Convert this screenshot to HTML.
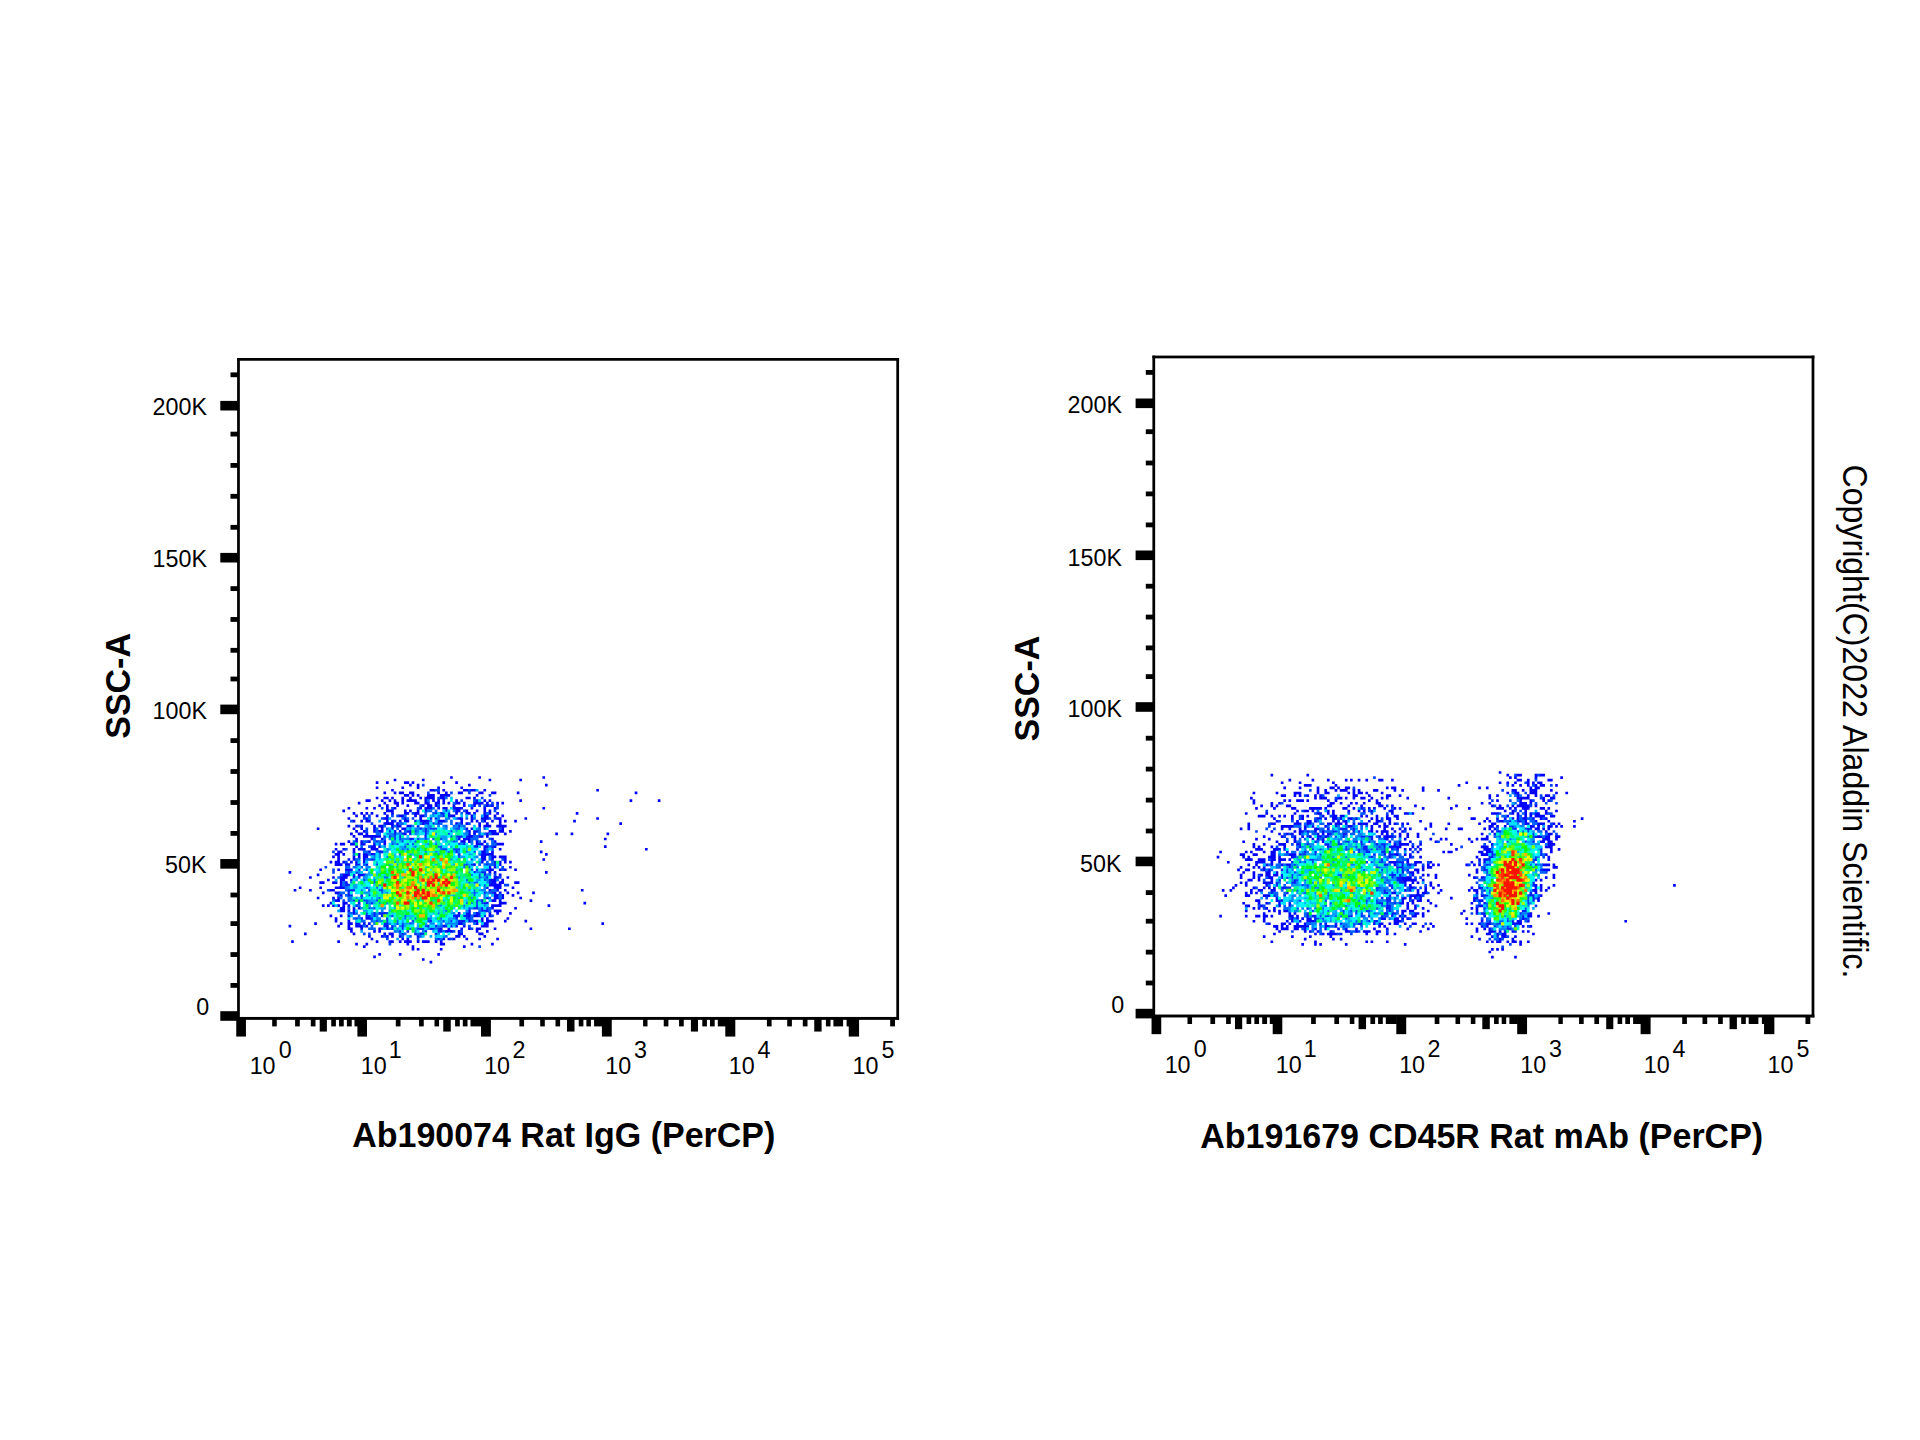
<!DOCTYPE html>
<html><head><meta charset="utf-8"><title>Flow cytometry</title>
<style>
html,body{margin:0;padding:0;background:#fff}
svg{display:block}
text{font-family:"Liberation Sans",sans-serif;fill:#000}
.tl text{font-size:23.3px}
.ttl{font-size:34.8px;font-weight:bold}
.cp{font-size:34.8px}
</style></head>
<body>
<svg width="1920" height="1440" viewBox="0 0 1920 1440">
<rect x="0" y="0" width="1920" height="1440" fill="#fff"/>
<defs>
<g id="ax" fill="#000" shape-rendering="geometricPrecision">
<rect x="237.1" y="358" width="661.96" height="2.75"/>
<rect x="237.1" y="1016.95" width="661.96" height="2.9"/>
<rect x="237.1" y="358" width="2.75" height="661.75"/>
<rect x="896.31" y="358" width="2.75" height="661.75"/>
<rect x="230.5" y="372.4" width="7.5" height="4.8"/>
<rect x="230.5" y="431.7" width="7.5" height="4.8"/>
<rect x="230.5" y="463" width="7.5" height="4.8"/>
<rect x="230.5" y="493.9" width="7.5" height="4.8"/>
<rect x="230.5" y="524.9" width="7.5" height="4.8"/>
<rect x="230.5" y="586.2" width="7.5" height="4.8"/>
<rect x="230.5" y="617.05" width="7.5" height="4.8"/>
<rect x="230.5" y="647.9" width="7.5" height="4.8"/>
<rect x="230.5" y="676.6" width="7.5" height="4.8"/>
<rect x="230.5" y="738.2" width="7.5" height="4.8"/>
<rect x="230.5" y="769.1" width="7.5" height="4.8"/>
<rect x="230.5" y="800.1" width="7.5" height="4.8"/>
<rect x="230.5" y="831" width="7.5" height="4.8"/>
<rect x="230.5" y="892.6" width="7.5" height="4.8"/>
<rect x="230.5" y="921.2" width="7.5" height="4.8"/>
<rect x="230.5" y="952.15" width="7.5" height="4.8"/>
<rect x="230.5" y="983" width="7.5" height="4.8"/>
<rect x="220.3" y="400.9" width="17.7" height="9.6"/>
<rect x="220.3" y="552.9" width="17.7" height="9.6"/>
<rect x="220.3" y="704.6" width="17.7" height="9.6"/>
<rect x="220.3" y="859.05" width="17.7" height="9.6"/>
<rect x="220.3" y="1011.2" width="17.7" height="9.6"/>
<rect x="236.25" y="1018" width="9.69" height="18.56"/>
<rect x="357.4" y="1018" width="9.6" height="18.56"/>
<rect x="481" y="1018" width="9.9" height="18.56"/>
<rect x="601.9" y="1018" width="9.85" height="18.56"/>
<rect x="725.3" y="1018" width="10" height="18.56"/>
<rect x="848.75" y="1018" width="10.31" height="18.56"/>
<rect x="319.7" y="1018" width="7.2" height="13.56"/>
<rect x="443.25" y="1018" width="7.5" height="13.56"/>
<rect x="567" y="1018" width="7.5" height="13.56"/>
<rect x="690.9" y="1018" width="7.1" height="13.56"/>
<rect x="814.25" y="1018" width="7.35" height="13.56"/>
<rect x="272.19" y="1018" width="4.56" height="8.4"/>
<rect x="295.1" y="1018" width="4.7" height="8.4"/>
<rect x="310.8" y="1018" width="4.7" height="8.4"/>
<rect x="331.25" y="1018" width="4.65" height="8.4"/>
<rect x="339.06" y="1018" width="4.69" height="8.4"/>
<rect x="346.9" y="1018" width="4.85" height="8.4"/>
<rect x="354.5" y="1018" width="3.5" height="8.4"/>
<rect x="395.8" y="1018" width="4.7" height="8.4"/>
<rect x="419.06" y="1018" width="4.69" height="8.4"/>
<rect x="434.5" y="1018" width="4.56" height="8.4"/>
<rect x="455.1" y="1018" width="4.7" height="8.4"/>
<rect x="462.8" y="1018" width="4.7" height="8.4"/>
<rect x="470.5" y="1018" width="11" height="8.4"/>
<rect x="519.4" y="1018" width="4.66" height="8.4"/>
<rect x="540.2" y="1018" width="4.6" height="8.4"/>
<rect x="555.5" y="1018" width="4.6" height="8.4"/>
<rect x="578.75" y="1018" width="4.65" height="8.4"/>
<rect x="586.4" y="1018" width="4.5" height="8.4"/>
<rect x="594.06" y="1018" width="8.44" height="8.4"/>
<rect x="643.1" y="1018" width="4.4" height="8.4"/>
<rect x="663.75" y="1018" width="4.65" height="8.4"/>
<rect x="679.06" y="1018" width="4.69" height="8.4"/>
<rect x="702.3" y="1018" width="4.6" height="8.4"/>
<rect x="710" y="1018" width="4.7" height="8.4"/>
<rect x="717.8" y="1018" width="8.2" height="8.4"/>
<rect x="766.9" y="1018" width="4.7" height="8.4"/>
<rect x="787.2" y="1018" width="4.7" height="8.4"/>
<rect x="802.8" y="1018" width="4.7" height="8.4"/>
<rect x="825.9" y="1018" width="4.6" height="8.4"/>
<rect x="833.4" y="1018" width="9.7" height="8.4"/>
<rect x="846.6" y="1018" width="2.9" height="8.4"/>
<rect x="890.15" y="1018" width="4.85" height="8.4"/>
</g>
<g id="axl" class="tl">
<text x="207" y="414.8" text-anchor="end">200K</text>
<text x="207" y="567" text-anchor="end">150K</text>
<text x="207" y="718.9" text-anchor="end">100K</text>
<text x="206.5" y="873.2" text-anchor="end">50K</text>
<text x="209.2" y="1014.7" text-anchor="end">0</text>
<text x="249.66" y="1074.2">10</text>
<text x="278.82" y="1058.4">0</text>
<text x="360.76" y="1074.2">10</text>
<text x="388.86" y="1058.4">1</text>
<text x="484.16" y="1074.2">10</text>
<text x="512.4" y="1058.4">2</text>
<text x="605.26" y="1074.2">10</text>
<text x="634.07" y="1058.4">3</text>
<text x="728.86" y="1074.2">10</text>
<text x="757.5" y="1058.4">4</text>
<text x="852.46" y="1074.2">10</text>
<text x="881.58" y="1058.4">5</text>
</g>
</defs>
<g id="dotsA" shape-rendering="geometricPrecision">
<g transform="translate(239.90 360.80) scale(2.5641)" stroke="none">
<path fill="#0000ff" d="M81.98 161.98h1.04v1.04h-1.04zM92.98 161.98h1.04v1.04h-1.04zM117.98 161.98h1.04v1.04h-1.04zM59.98 162.98h1.04v1.04h-1.04zM70.98 162.98h1.04v1.04h-1.04zM96.98 162.98h1.04v1.04h-1.04zM108.98 162.98h1.04v1.04h-1.04zM52.98 163.98h1.04v1.04h-1.04zM56.98 163.98h1.04v1.04h-1.04zM63.98 163.98h1.15v1.04h-1.15zM64.87 163.98h1.15v1.04h-1.15zM66.98 163.98h1.04v1.04h-1.04zM78.98 163.98h1.04v1.04h-1.04zM83.98 163.98h1.04v1.04h-1.04zM65.98 164.98h1.04v1.04h-1.04zM68.98 164.98h1.04v1.15h-1.04zM88.98 164.98h1.04v1.04h-1.04zM118.98 164.98h1.04v1.04h-1.04zM52.98 165.98h1.04v1.04h-1.04zM62.98 165.98h1.04v1.04h-1.04zM68.98 165.87h1.04v1.15h-1.04zM76.98 165.98h1.04v1.15h-1.04zM85.98 165.98h1.04v1.04h-1.04zM58.98 166.98h1.04v1.04h-1.04zM73.98 166.98h1.15v1.04h-1.15zM74.87 166.98h1.26v1.04h-1.26zM78.98 166.98h1.04v1.04h-1.04zM86.98 166.98h1.15v1.04h-1.15zM87.87 166.98h1.26v1.04h-1.26zM89.87 166.98h1.26v1.04h-1.26zM90.87 166.98h1.26v1.04h-1.26zM94.98 166.98h1.04v1.04h-1.04zM138.98 166.98h1.04v1.04h-1.04zM55.98 167.98h1.04v1.04h-1.04zM59.98 167.98h1.04v1.04h-1.04zM61.98 167.98h1.15v1.04h-1.15zM62.87 167.98h1.15v1.04h-1.15zM65.98 167.98h1.15v1.04h-1.15zM66.87 167.98h1.15v1.15h-1.15zM76.98 167.87h1.04v1.15h-1.04zM79.98 167.98h1.04v1.15h-1.04zM84.98 167.98h1.15v1.04h-1.15zM85.87 167.98h1.15v1.04h-1.15zM92.98 167.98h1.15v1.04h-1.15zM93.87 167.98h1.15v1.04h-1.15zM97.98 167.98h1.15v1.04h-1.15zM98.87 167.98h1.15v1.04h-1.15zM107.98 167.98h1.04v1.04h-1.04zM153.98 167.98h1.04v1.04h-1.04zM63.98 168.98h1.15v1.04h-1.15zM64.87 168.98h1.15v1.04h-1.15zM66.98 168.87h1.04v1.15h-1.04zM68.98 168.98h1.04v1.04h-1.04zM72.98 168.87h1.15v1.26h-1.15zM73.87 168.98h1.26v1.15h-1.26zM74.87 168.98h1.15v1.15h-1.15zM77.98 168.98h1.15v1.15h-1.15zM78.87 168.98h1.26v1.15h-1.26zM79.87 168.87h1.26v1.26h-1.26zM80.87 168.98h1.15v1.04h-1.15zM91.98 168.98h1.04v1.04h-1.04zM52.98 169.98h1.04v1.04h-1.04zM55.98 169.98h1.15v1.04h-1.15zM56.87 169.98h1.15v1.04h-1.15zM58.98 169.98h1.04v1.04h-1.04zM62.98 169.98h1.04v1.15h-1.04zM65.98 169.98h1.04v1.15h-1.04zM69.98 169.98h1.04v1.04h-1.04zM71.98 169.98h1.15v1.15h-1.15zM72.87 169.87h1.26v1.26h-1.26zM73.87 169.87h1.26v1.15h-1.26zM74.87 169.87h1.15v1.26h-1.15zM77.87 169.87h1.26v1.15h-1.26zM78.87 169.87h1.26v1.26h-1.26zM87.98 169.98h1.15v1.04h-1.15zM88.87 169.98h1.15v1.04h-1.15zM90.98 169.98h1.04v1.15h-1.04zM48.98 170.98h1.15v1.04h-1.15zM49.87 170.98h1.15v1.04h-1.15zM54.98 170.98h1.04v1.04h-1.04zM57.98 170.98h1.04v1.04h-1.04zM59.98 170.98h1.04v1.15h-1.04zM62.98 170.87h1.04v1.26h-1.04zM64.98 170.98h1.15v1.04h-1.15zM65.87 170.87h1.26v1.15h-1.26zM66.87 170.98h1.26v1.04h-1.26zM67.87 170.98h1.15v1.15h-1.15zM71.98 170.87h1.15v1.26h-1.15zM74.98 170.87h1.04v1.15h-1.04zM76.98 170.87h1.04v1.26h-1.04zM78.98 170.87h1.04v1.26h-1.04zM83.98 170.98h1.04v1.15h-1.04zM91.87 170.98h1.26v1.15h-1.26zM94.98 170.98h1.04v1.04h-1.04zM96.98 170.98h1.04v1.04h-1.04zM108.98 170.98h1.04v1.04h-1.04zM151.98 170.98h1.04v1.04h-1.04zM162.98 170.98h1.04v1.04h-1.04zM45.98 171.98h1.04v1.04h-1.04zM55.98 171.98h1.04v1.04h-1.04zM59.98 171.87h1.15v1.15h-1.15zM60.87 171.98h1.15v1.15h-1.15zM62.98 171.87h1.04v1.15h-1.04zM67.98 171.87h1.15v1.15h-1.15zM68.87 171.98h1.15v1.04h-1.15zM71.98 171.87h1.15v1.15h-1.15zM72.87 171.87h1.15v1.26h-1.15zM75.98 171.98h1.15v1.15h-1.15zM76.87 171.87h1.15v1.26h-1.15zM78.98 171.87h1.04v1.15h-1.04zM80.98 171.98h1.04v1.04h-1.04zM83.87 171.87h1.26v1.15h-1.26zM84.87 171.98h1.15v1.04h-1.15zM86.98 171.98h1.04v1.15h-1.04zM90.98 171.87h1.15v1.26h-1.15zM91.87 171.87h1.26v1.15h-1.26zM92.87 171.87h1.26v1.26h-1.26zM93.87 171.98h1.15v1.04h-1.15zM95.98 171.98h1.04v1.15h-1.04zM99.98 171.98h1.04v1.15h-1.04zM101.98 171.98h1.04v1.04h-1.04zM53.98 172.98h1.04v1.04h-1.04zM56.98 172.98h1.04v1.15h-1.04zM60.98 172.87h1.04v1.15h-1.04zM64.98 172.98h1.04v1.04h-1.04zM70.87 172.98h1.15v1.04h-1.15zM72.98 172.87h1.15v1.26h-1.15zM73.87 172.98h1.15v1.15h-1.15zM75.98 172.87h1.15v1.15h-1.15zM82.98 172.87h1.04v1.26h-1.04zM86.98 172.87h1.04v1.15h-1.04zM90.87 172.87h1.15v1.15h-1.15zM95.87 172.87h1.26v1.15h-1.26zM97.87 172.87h1.15v1.15h-1.15zM41.98 173.98h1.04v1.04h-1.04zM48.98 173.98h1.04v1.04h-1.04zM51.98 173.98h1.04v1.04h-1.04zM56.98 173.87h1.04v1.26h-1.04zM59.87 173.98h1.15v1.04h-1.15zM69.87 173.87h1.15v1.15h-1.15zM71.98 173.98h1.15v1.15h-1.15zM72.87 173.87h1.26v1.26h-1.26zM73.87 173.87h1.26v1.26h-1.26zM76.98 173.87h1.04v1.15h-1.04zM78.98 173.98h1.15v1.15h-1.15zM79.87 173.98h1.15v1.15h-1.15zM82.87 173.87h1.26v1.26h-1.26zM83.87 173.98h1.26v1.15h-1.26zM84.87 173.98h1.26v1.15h-1.26zM85.87 173.98h1.15v1.04h-1.15zM89.98 173.87h1.04v1.15h-1.04zM94.98 173.87h1.04v1.26h-1.04zM98.98 173.98h1.15v1.15h-1.15zM117.98 173.98h1.04v1.04h-1.04zM39.98 174.98h1.04v1.04h-1.04zM56.98 174.87h1.15v1.15h-1.15zM57.87 174.98h1.26v1.04h-1.26zM58.87 174.87h1.15v1.26h-1.15zM63.98 174.98h1.04v1.15h-1.04zM65.98 174.98h1.04v1.04h-1.04zM68.98 174.87h1.04v1.26h-1.04zM71.87 174.87h1.26v1.26h-1.26zM83.87 174.87h1.26v1.26h-1.26zM84.87 174.87h1.15v1.15h-1.15zM87.87 174.98h1.15v1.15h-1.15zM91.98 174.98h1.04v1.04h-1.04zM94.98 174.87h1.04v1.26h-1.04zM96.98 174.98h1.04v1.15h-1.04zM43.98 175.98h1.04v1.04h-1.04zM46.98 175.98h1.04v1.04h-1.04zM48.98 175.98h1.04v1.04h-1.04zM50.98 175.98h1.04v1.04h-1.04zM55.98 175.98h1.04v1.04h-1.04zM58.98 175.87h1.04v1.26h-1.04zM63.98 175.87h1.15v1.26h-1.15zM64.87 175.98h1.15v1.04h-1.15zM67.87 175.98h1.26v1.15h-1.26zM68.87 175.87h1.15v1.15h-1.15zM83.98 175.87h1.04v1.15h-1.04zM87.98 175.87h1.15v1.26h-1.15zM88.87 175.98h1.15v1.04h-1.15zM90.98 175.98h1.04v1.15h-1.04zM94.98 175.87h1.15v1.26h-1.15zM96.87 175.87h1.15v1.15h-1.15zM99.98 175.98h1.04v1.04h-1.04zM130.98 175.98h1.04v1.04h-1.04zM44.98 176.98h1.04v1.04h-1.04zM47.98 176.98h1.04v1.15h-1.04zM52.98 176.98h1.04v1.04h-1.04zM56.98 176.98h1.04v1.15h-1.04zM61.87 176.98h1.26v1.04h-1.26zM62.87 176.98h1.26v1.15h-1.26zM67.98 176.87h1.04v1.15h-1.04zM69.98 176.98h1.15v1.15h-1.15zM70.87 176.98h1.26v1.04h-1.26zM81.87 176.98h1.26v1.04h-1.26zM82.87 176.98h1.15v1.15h-1.15zM89.98 176.98h1.15v1.15h-1.15zM94.87 176.87h1.26v1.26h-1.26zM95.87 176.87h1.15v1.26h-1.15zM98.98 176.98h1.04v1.15h-1.04zM101.98 176.98h1.04v1.04h-1.04zM41.98 177.98h1.04v1.04h-1.04zM48.87 177.98h1.26v1.15h-1.26zM55.87 177.98h1.26v1.04h-1.26zM56.87 177.87h1.26v1.26h-1.26zM63.87 177.87h1.26v1.26h-1.26zM69.98 177.87h1.04v1.26h-1.04zM84.87 177.98h1.26v1.04h-1.26zM85.87 177.87h1.15v1.26h-1.15zM89.98 177.87h1.15v1.26h-1.15zM93.98 177.87h1.15v1.26h-1.15zM94.87 177.87h1.26v1.26h-1.26zM95.87 177.87h1.26v1.15h-1.26zM99.87 177.98h1.26v1.04h-1.26zM100.87 177.98h1.15v1.15h-1.15zM110.98 177.98h1.04v1.04h-1.04zM138.98 177.98h1.04v1.04h-1.04zM43.87 178.98h1.15v1.04h-1.15zM46.98 178.98h1.04v1.04h-1.04zM48.98 178.87h1.15v1.15h-1.15zM49.87 178.87h1.15v1.15h-1.15zM56.98 178.87h1.04v1.26h-1.04zM58.98 178.98h1.15v1.15h-1.15zM61.98 178.98h1.04v1.15h-1.04zM63.98 178.87h1.15v1.26h-1.15zM64.87 178.87h1.15v1.15h-1.15zM69.87 178.87h1.26v1.26h-1.26zM70.87 178.98h1.26v1.15h-1.26zM71.87 178.98h1.26v1.15h-1.26zM77.87 178.98h1.26v1.15h-1.26zM78.87 178.98h1.26v1.04h-1.26zM85.98 178.87h1.04v1.26h-1.04zM89.98 178.87h1.04v1.15h-1.04zM91.98 178.98h1.04v1.04h-1.04zM94.87 178.87h1.15v1.15h-1.15zM97.98 178.98h1.04v1.04h-1.04zM100.98 178.87h1.04v1.26h-1.04zM102.98 178.98h1.04v1.04h-1.04zM106.98 178.98h1.04v1.04h-1.04zM129.98 178.98h1.04v1.04h-1.04zM55.98 179.98h1.15v1.15h-1.15zM56.87 179.87h1.26v1.15h-1.26zM57.87 179.98h1.26v1.04h-1.26zM58.87 179.87h1.15v1.26h-1.15zM60.98 179.98h1.15v1.15h-1.15zM70.87 179.87h1.26v1.15h-1.26zM83.98 179.98h1.15v1.15h-1.15zM85.87 179.87h1.15v1.26h-1.15zM87.98 179.98h1.15v1.04h-1.15zM92.98 179.98h1.04v1.15h-1.04zM95.98 179.98h1.04v1.15h-1.04zM100.98 179.87h1.04v1.26h-1.04zM147.98 179.98h1.04v1.04h-1.04zM41.98 180.98h1.04v1.04h-1.04zM44.98 180.98h1.15v1.04h-1.15zM46.87 180.98h1.15v1.15h-1.15zM51.98 180.98h1.04v1.15h-1.04zM53.98 180.98h1.15v1.04h-1.15zM54.87 180.98h1.26v1.15h-1.26zM58.98 180.87h1.15v1.26h-1.15zM60.87 180.87h1.26v1.26h-1.26zM61.87 180.87h1.15v1.15h-1.15zM64.98 180.98h1.15v1.15h-1.15zM65.87 180.98h1.26v1.15h-1.26zM92.98 180.87h1.04v1.26h-1.04zM94.98 180.98h1.15v1.15h-1.15zM95.87 180.87h1.26v1.26h-1.26zM96.87 180.98h1.15v1.04h-1.15zM99.98 180.98h1.15v1.04h-1.15zM100.87 180.87h1.26v1.26h-1.26zM101.87 180.98h1.26v1.15h-1.26zM102.87 180.98h1.15v1.04h-1.15zM29.98 181.98h1.04v1.04h-1.04zM43.98 181.98h1.04v1.04h-1.04zM46.98 181.87h1.04v1.15h-1.04zM51.98 181.87h1.15v1.26h-1.15zM54.98 181.87h1.04v1.26h-1.04zM62.98 181.98h1.15v1.04h-1.15zM63.87 181.98h1.26v1.15h-1.26zM87.87 181.98h1.15v1.15h-1.15zM89.98 181.98h1.15v1.04h-1.15zM101.87 181.87h1.15v1.26h-1.15zM44.98 182.98h1.04v1.04h-1.04zM47.98 182.98h1.15v1.04h-1.15zM51.98 182.87h1.15v1.15h-1.15zM53.87 182.98h1.26v1.15h-1.26zM54.87 182.87h1.15v1.15h-1.15zM59.87 182.98h1.15v1.15h-1.15zM61.98 182.98h1.04v1.15h-1.04zM88.87 182.98h1.15v1.15h-1.15zM90.98 182.87h1.15v1.26h-1.15zM96.98 182.98h1.15v1.15h-1.15zM97.87 182.98h1.26v1.15h-1.26zM98.87 182.98h1.15v1.15h-1.15zM100.98 182.87h1.15v1.15h-1.15zM101.87 182.87h1.15v1.15h-1.15zM104.98 182.98h1.04v1.04h-1.04zM42.98 183.98h1.04v1.04h-1.04zM45.98 183.98h1.15v1.04h-1.15zM46.87 183.98h1.15v1.04h-1.15zM48.98 183.87h1.04v1.26h-1.04zM63.87 183.87h1.15v1.15h-1.15zM88.87 183.87h1.15v1.26h-1.15zM90.98 183.87h1.04v1.26h-1.04zM95.87 183.98h1.26v1.15h-1.26zM97.87 183.87h1.26v1.15h-1.26zM98.87 183.87h1.26v1.15h-1.26zM99.87 183.98h1.15v1.04h-1.15zM102.98 183.98h1.04v1.04h-1.04zM122.98 183.98h1.04v1.04h-1.04zM128.98 183.98h1.04v1.04h-1.04zM142.98 183.98h1.04v1.04h-1.04zM43.98 184.98h1.04v1.04h-1.04zM47.98 184.98h1.15v1.04h-1.15zM48.87 184.87h1.26v1.15h-1.26zM49.87 184.98h1.26v1.04h-1.26zM50.87 184.98h1.26v1.15h-1.26zM51.87 184.98h1.26v1.15h-1.26zM52.87 184.87h1.26v1.15h-1.26zM53.87 184.87h1.15v1.15h-1.15zM88.87 184.87h1.26v1.26h-1.26zM89.87 184.98h1.26v1.15h-1.26zM92.87 184.87h1.26v1.15h-1.26zM93.87 184.87h1.15v1.15h-1.15zM95.98 184.87h1.04v1.15h-1.04zM44.98 185.98h1.04v1.15h-1.04zM50.98 185.87h1.15v1.15h-1.15zM54.98 185.98h1.15v1.15h-1.15zM84.87 185.87h1.15v1.15h-1.15zM86.98 185.87h1.15v1.26h-1.15zM87.87 185.87h1.26v1.15h-1.26zM88.87 185.87h1.26v1.26h-1.26zM97.87 185.98h1.15v1.15h-1.15zM141.98 185.98h1.04v1.04h-1.04zM41.98 186.98h1.04v1.04h-1.04zM44.87 186.87h1.15v1.26h-1.15zM46.98 186.98h1.15v1.15h-1.15zM49.87 186.98h1.15v1.04h-1.15zM55.87 186.87h1.15v1.26h-1.15zM85.98 186.98h1.15v1.15h-1.15zM86.87 186.87h1.15v1.26h-1.15zM88.98 186.87h1.15v1.15h-1.15zM91.98 186.87h1.15v1.26h-1.15zM94.98 186.98h1.04v1.04h-1.04zM98.87 186.98h1.15v1.15h-1.15zM116.98 186.98h1.04v1.04h-1.04zM36.98 187.98h1.04v1.04h-1.04zM38.98 187.98h1.15v1.04h-1.15zM39.87 187.98h1.15v1.04h-1.15zM42.98 187.98h1.15v1.04h-1.15zM43.87 187.87h1.26v1.15h-1.26zM46.98 187.87h1.15v1.26h-1.15zM47.87 187.87h1.15v1.15h-1.15zM51.98 187.87h1.15v1.26h-1.15zM55.98 187.87h1.04v1.26h-1.04zM91.98 187.87h1.15v1.26h-1.15zM92.87 187.87h1.26v1.26h-1.26zM93.87 187.98h1.15v1.04h-1.15zM99.87 187.98h1.26v1.04h-1.26zM100.87 187.98h1.26v1.04h-1.26zM101.87 187.98h1.15v1.04h-1.15zM44.98 188.87h1.04v1.15h-1.04zM50.87 188.98h1.26v1.15h-1.26zM51.87 188.87h1.15v1.26h-1.15zM53.98 188.87h1.15v1.15h-1.15zM94.98 188.98h1.15v1.15h-1.15zM95.87 188.87h1.26v1.26h-1.26zM98.87 188.87h1.15v1.15h-1.15zM141.98 188.98h1.04v1.04h-1.04zM36.98 189.98h1.04v1.04h-1.04zM39.98 189.98h1.15v1.04h-1.15zM43.98 189.98h1.04v1.15h-1.04zM45.98 189.98h1.15v1.04h-1.15zM46.87 189.87h1.26v1.15h-1.26zM47.87 189.98h1.15v1.15h-1.15zM50.98 189.87h1.15v1.15h-1.15zM51.87 189.87h1.26v1.15h-1.26zM52.87 189.98h1.15v1.15h-1.15zM94.98 189.87h1.15v1.26h-1.15zM100.98 189.98h1.04v1.04h-1.04zM157.98 189.98h1.04v1.04h-1.04zM37.98 190.98h1.15v1.15h-1.15zM38.87 190.98h1.15v1.04h-1.15zM43.98 190.87h1.04v1.26h-1.04zM49.87 190.98h1.15v1.15h-1.15zM53.87 190.98h1.26v1.15h-1.26zM93.87 190.98h1.26v1.15h-1.26zM94.87 190.87h1.26v1.26h-1.26zM97.98 190.87h1.04v1.26h-1.04zM116.98 190.98h1.04v1.04h-1.04zM36.98 191.98h1.15v1.04h-1.15zM37.87 191.87h1.15v1.26h-1.15zM39.98 191.98h1.04v1.04h-1.04zM45.87 191.98h1.15v1.15h-1.15zM47.98 191.87h1.15v1.26h-1.15zM48.87 191.87h1.26v1.26h-1.26zM50.87 191.98h1.26v1.15h-1.26zM93.87 191.87h1.26v1.26h-1.26zM94.87 191.87h1.26v1.26h-1.26zM95.87 191.87h1.26v1.15h-1.26zM96.87 191.98h1.26v1.15h-1.26zM97.87 191.87h1.15v1.26h-1.15zM118.98 191.98h1.04v1.04h-1.04zM35.98 192.98h1.04v1.04h-1.04zM37.98 192.87h1.04v1.26h-1.04zM43.98 192.87h1.04v1.26h-1.04zM45.98 192.87h1.04v1.26h-1.04zM47.98 192.87h1.15v1.26h-1.15zM48.87 192.87h1.15v1.26h-1.15zM93.98 192.87h1.15v1.26h-1.15zM94.87 192.87h1.15v1.26h-1.15zM97.87 192.87h1.26v1.26h-1.26zM98.87 192.98h1.15v1.04h-1.15zM100.98 192.98h1.15v1.04h-1.15zM101.87 192.98h1.26v1.15h-1.26zM102.87 192.98h1.15v1.15h-1.15zM37.98 193.87h1.04v1.26h-1.04zM41.98 193.98h1.04v1.04h-1.04zM43.98 193.87h1.15v1.15h-1.15zM47.98 193.87h1.15v1.26h-1.15zM93.87 193.87h1.26v1.26h-1.26zM94.87 193.87h1.15v1.15h-1.15zM97.87 193.87h1.15v1.26h-1.15zM102.87 193.87h1.15v1.26h-1.15zM117.98 193.98h1.04v1.04h-1.04zM34.98 194.98h1.04v1.04h-1.04zM36.98 194.98h1.15v1.15h-1.15zM37.87 194.87h1.15v1.26h-1.15zM39.98 194.98h1.15v1.04h-1.15zM42.98 194.98h1.04v1.04h-1.04zM44.98 194.87h1.15v1.26h-1.15zM47.98 194.87h1.15v1.26h-1.15zM93.87 194.87h1.15v1.15h-1.15zM100.87 194.98h1.15v1.15h-1.15zM102.98 194.87h1.04v1.15h-1.04zM104.98 194.98h1.04v1.04h-1.04zM36.98 195.87h1.15v1.15h-1.15zM37.87 195.87h1.26v1.15h-1.26zM38.87 195.98h1.15v1.04h-1.15zM40.98 195.87h1.15v1.26h-1.15zM41.87 195.98h1.15v1.15h-1.15zM44.98 195.87h1.15v1.26h-1.15zM48.87 195.87h1.15v1.26h-1.15zM100.87 195.87h1.15v1.15h-1.15zM96.87 196.87h1.15v1.26h-1.15zM98.98 196.87h1.15v1.15h-1.15zM104.98 196.98h1.04v1.04h-1.04zM30.98 197.98h1.04v1.04h-1.04zM37.98 197.98h1.04v1.04h-1.04zM40.98 197.87h1.15v1.26h-1.15zM41.87 197.87h1.26v1.26h-1.26zM42.87 197.98h1.15v1.15h-1.15zM96.87 197.87h1.26v1.26h-1.26zM97.87 197.98h1.15v1.04h-1.15zM100.98 197.98h1.15v1.04h-1.15zM102.87 197.98h1.15v1.04h-1.15zM106.98 197.98h1.04v1.04h-1.04zM18.98 198.98h1.04v1.04h-1.04zM96.98 198.87h1.04v1.26h-1.04zM98.98 198.98h1.04v1.15h-1.04zM118.98 198.98h1.04v1.04h-1.04zM29.98 199.98h1.04v1.04h-1.04zM39.87 199.98h1.26v1.15h-1.26zM40.87 199.87h1.26v1.26h-1.26zM41.87 199.87h1.26v1.15h-1.26zM45.98 199.87h1.15v1.26h-1.15zM46.87 199.87h1.26v1.15h-1.26zM100.98 199.98h1.04v1.15h-1.04zM26.98 200.98h1.04v1.04h-1.04zM35.98 200.98h1.04v1.04h-1.04zM38.87 200.87h1.26v1.26h-1.26zM39.87 200.87h1.26v1.26h-1.26zM40.87 200.87h1.15v1.15h-1.15zM98.98 200.87h1.15v1.26h-1.15zM99.87 200.98h1.26v1.15h-1.26zM103.98 200.98h1.04v1.04h-1.04zM33.98 201.98h1.04v1.04h-1.04zM38.98 201.87h1.15v1.26h-1.15zM39.87 201.87h1.15v1.26h-1.15zM97.87 201.98h1.26v1.15h-1.26zM98.87 201.87h1.26v1.26h-1.26zM101.98 201.98h1.04v1.15h-1.04zM30.98 202.98h1.15v1.04h-1.15zM31.87 202.98h1.15v1.04h-1.15zM35.98 202.98h1.15v1.04h-1.15zM36.87 202.87h1.15v1.15h-1.15zM38.98 202.87h1.15v1.26h-1.15zM40.87 202.98h1.15v1.15h-1.15zM97.87 202.87h1.26v1.26h-1.26zM98.87 202.87h1.15v1.26h-1.15zM100.98 202.98h1.15v1.15h-1.15zM101.87 202.87h1.15v1.15h-1.15zM106.98 202.98h1.15v1.04h-1.15zM107.87 202.98h1.15v1.04h-1.15zM38.98 203.87h1.15v1.26h-1.15zM96.87 203.87h1.26v1.15h-1.26zM97.87 203.87h1.26v1.15h-1.26zM98.87 203.87h1.26v1.26h-1.26zM99.87 203.98h1.26v1.15h-1.26zM100.87 203.87h1.15v1.26h-1.15zM22.98 204.98h1.04v1.04h-1.04zM30.98 204.98h1.04v1.04h-1.04zM36.98 204.98h1.15v1.04h-1.15zM37.87 204.98h1.26v1.04h-1.26zM38.87 204.87h1.26v1.15h-1.26zM39.87 204.87h1.26v1.15h-1.26zM98.98 204.87h1.15v1.26h-1.15zM99.87 204.87h1.26v1.26h-1.26zM100.87 204.87h1.15v1.15h-1.15zM105.98 204.98h1.04v1.04h-1.04zM20.98 205.98h1.04v1.04h-1.04zM26.98 205.98h1.04v1.04h-1.04zM34.87 205.98h1.26v1.04h-1.26zM35.87 205.98h1.15v1.04h-1.15zM96.98 205.98h1.15v1.15h-1.15zM99.87 205.87h1.15v1.15h-1.15zM102.98 205.98h1.04v1.04h-1.04zM132.98 205.98h1.04v1.04h-1.04zM31.98 206.98h1.04v1.04h-1.04zM36.98 206.98h1.15v1.04h-1.15zM37.87 206.98h1.26v1.15h-1.26zM98.87 206.87h1.15v1.26h-1.15zM100.98 206.98h1.04v1.15h-1.04zM103.98 206.98h1.04v1.04h-1.04zM107.98 206.98h1.04v1.04h-1.04zM113.98 206.98h1.04v1.04h-1.04zM38.87 207.87h1.15v1.26h-1.15zM98.87 207.87h1.26v1.26h-1.26zM99.87 207.98h1.26v1.15h-1.26zM101.87 207.98h1.15v1.15h-1.15zM105.98 207.98h1.04v1.04h-1.04zM29.98 208.98h1.04v1.04h-1.04zM35.98 208.98h1.04v1.15h-1.04zM37.98 208.87h1.15v1.26h-1.15zM98.98 208.87h1.15v1.26h-1.15zM99.87 208.87h1.26v1.15h-1.26zM101.87 208.87h1.15v1.15h-1.15zM108.98 208.98h1.04v1.04h-1.04zM36.87 209.98h1.26v1.04h-1.26zM37.87 209.87h1.15v1.15h-1.15zM97.87 209.98h1.26v1.04h-1.26zM98.87 209.87h1.15v1.15h-1.15zM100.98 209.87h1.04v1.26h-1.04zM112.98 209.98h1.04v1.04h-1.04zM34.98 210.98h1.15v1.04h-1.15zM39.98 210.87h1.15v1.26h-1.15zM40.87 210.98h1.15v1.04h-1.15zM100.98 210.87h1.15v1.26h-1.15zM101.87 210.98h1.26v1.04h-1.26zM102.87 210.98h1.15v1.04h-1.15zM133.98 210.98h1.04v1.04h-1.04zM31.98 211.98h1.04v1.04h-1.04zM33.98 211.98h1.04v1.04h-1.04zM35.98 211.87h1.15v1.15h-1.15zM37.87 211.98h1.15v1.04h-1.15zM39.98 211.87h1.04v1.26h-1.04zM41.98 211.98h1.04v1.15h-1.04zM97.98 211.98h1.15v1.15h-1.15zM98.87 211.98h1.26v1.04h-1.26zM99.87 211.98h1.26v1.04h-1.26zM100.87 211.87h1.15v1.15h-1.15zM119.98 211.98h1.04v1.04h-1.04zM38.98 212.98h1.15v1.15h-1.15zM39.87 212.87h1.15v1.26h-1.15zM43.98 212.87h1.04v1.26h-1.04zM45.98 212.87h1.15v1.15h-1.15zM97.87 212.87h1.15v1.15h-1.15zM106.98 212.98h1.04v1.04h-1.04zM38.87 213.87h1.26v1.15h-1.26zM39.87 213.87h1.15v1.15h-1.15zM41.98 213.87h1.04v1.26h-1.04zM43.98 213.87h1.15v1.26h-1.15zM88.87 213.87h1.15v1.26h-1.15zM98.98 213.98h1.15v1.04h-1.15zM99.87 213.98h1.26v1.15h-1.26zM100.87 213.98h1.15v1.04h-1.15zM43.87 214.87h1.26v1.15h-1.26zM84.98 214.98h1.04v1.15h-1.04zM88.87 214.87h1.15v1.26h-1.15zM91.87 214.98h1.26v1.15h-1.26zM96.98 214.87h1.04v1.26h-1.04zM99.98 214.87h1.04v1.15h-1.04zM104.98 214.98h1.04v1.04h-1.04zM34.98 215.98h1.04v1.04h-1.04zM38.98 215.98h1.04v1.04h-1.04zM41.98 215.87h1.15v1.26h-1.15zM83.87 215.98h1.26v1.15h-1.26zM88.87 215.87h1.26v1.26h-1.26zM90.87 215.87h1.26v1.15h-1.26zM91.87 215.87h1.26v1.15h-1.26zM96.98 215.87h1.15v1.15h-1.15zM36.98 216.98h1.04v1.15h-1.04zM48.98 216.87h1.15v1.15h-1.15zM49.87 216.87h1.26v1.15h-1.26zM93.98 216.87h1.04v1.26h-1.04zM95.98 216.98h1.04v1.15h-1.04zM103.98 216.98h1.04v1.04h-1.04zM36.98 217.87h1.04v1.15h-1.04zM41.98 217.87h1.04v1.26h-1.04zM88.87 217.87h1.26v1.15h-1.26zM90.87 217.98h1.26v1.15h-1.26zM91.87 217.98h1.26v1.15h-1.26zM93.87 217.87h1.15v1.26h-1.15zM95.98 217.87h1.15v1.26h-1.15zM96.87 217.98h1.26v1.04h-1.26zM97.87 217.98h1.15v1.04h-1.15zM102.98 217.98h1.04v1.04h-1.04zM110.98 217.98h1.04v1.04h-1.04zM28.98 218.98h1.04v1.04h-1.04zM38.98 218.98h1.04v1.04h-1.04zM41.98 218.87h1.15v1.26h-1.15zM42.87 218.98h1.15v1.04h-1.15zM44.98 218.87h1.15v1.26h-1.15zM47.98 218.87h1.04v1.26h-1.04zM49.98 218.98h1.04v1.04h-1.04zM84.87 218.87h1.26v1.15h-1.26zM85.87 218.87h1.26v1.15h-1.26zM91.87 218.87h1.15v1.15h-1.15zM94.87 218.98h1.26v1.15h-1.26zM95.87 218.87h1.15v1.26h-1.15zM140.98 218.98h1.04v1.04h-1.04zM18.98 219.98h1.04v1.04h-1.04zM37.98 219.98h1.04v1.04h-1.04zM41.98 219.87h1.04v1.26h-1.04zM44.98 219.87h1.15v1.15h-1.15zM45.87 219.87h1.26v1.15h-1.26zM46.87 219.98h1.26v1.15h-1.26zM48.87 219.98h1.15v1.04h-1.15zM56.87 219.87h1.15v1.26h-1.15zM78.87 219.98h1.26v1.04h-1.26zM83.87 219.87h1.15v1.15h-1.15zM86.98 219.87h1.04v1.15h-1.04zM93.98 219.87h1.15v1.15h-1.15zM94.87 219.87h1.26v1.15h-1.26zM95.87 219.87h1.15v1.15h-1.15zM41.98 220.87h1.15v1.15h-1.15zM42.87 220.98h1.15v1.15h-1.15zM46.98 220.87h1.04v1.26h-1.04zM53.98 220.98h1.15v1.15h-1.15zM56.87 220.87h1.26v1.15h-1.26zM77.87 220.87h1.15v1.26h-1.15zM80.98 220.87h1.04v1.26h-1.04zM85.98 220.98h1.04v1.15h-1.04zM88.98 220.87h1.15v1.15h-1.15zM91.98 220.98h1.15v1.15h-1.15zM92.87 220.98h1.15v1.04h-1.15zM98.98 220.98h1.04v1.04h-1.04zM112.98 220.98h1.04v1.04h-1.04zM127.98 220.98h1.04v1.04h-1.04zM42.98 221.87h1.04v1.15h-1.04zM51.98 221.87h1.04v1.15h-1.04zM53.98 221.87h1.04v1.15h-1.04zM79.87 221.98h1.26v1.04h-1.26zM80.87 221.87h1.26v1.26h-1.26zM81.87 221.98h1.26v1.04h-1.26zM84.98 221.98h1.15v1.15h-1.15zM91.98 221.87h1.04v1.15h-1.04zM95.98 221.98h1.04v1.04h-1.04zM24.98 222.98h1.04v1.04h-1.04zM43.98 222.98h1.04v1.04h-1.04zM55.98 222.98h1.04v1.15h-1.04zM57.98 222.98h1.15v1.04h-1.15zM58.87 222.98h1.15v1.15h-1.15zM84.98 222.87h1.15v1.26h-1.15zM85.87 222.87h1.15v1.15h-1.15zM92.98 222.98h1.15v1.04h-1.15zM93.87 222.98h1.15v1.04h-1.15zM49.98 223.87h1.04v1.15h-1.04zM54.98 223.98h1.15v1.04h-1.15zM56.87 223.98h1.15v1.15h-1.15zM58.98 223.87h1.04v1.15h-1.04zM61.98 223.87h1.15v1.15h-1.15zM68.98 223.87h1.15v1.26h-1.15zM83.98 223.98h1.15v1.04h-1.15zM84.87 223.87h1.15v1.15h-1.15zM86.98 223.98h1.04v1.04h-1.04zM94.98 223.98h1.04v1.04h-1.04zM50.98 224.98h1.04v1.04h-1.04zM62.98 224.87h1.04v1.15h-1.04zM64.98 224.87h1.04v1.26h-1.04zM78.87 224.87h1.15v1.15h-1.15zM80.98 224.98h1.15v1.04h-1.15zM82.87 224.98h1.15v1.04h-1.15zM87.98 224.98h1.04v1.04h-1.04zM92.98 224.98h1.04v1.04h-1.04zM99.98 224.98h1.04v1.04h-1.04zM19.98 225.98h1.04v1.04h-1.04zM37.98 225.98h1.04v1.04h-1.04zM52.98 225.98h1.04v1.04h-1.04zM57.98 225.98h1.15v1.15h-1.15zM58.87 225.98h1.15v1.04h-1.15zM61.98 225.98h1.04v1.04h-1.04zM63.98 225.98h1.15v1.04h-1.15zM64.87 225.87h1.26v1.26h-1.26zM65.87 225.98h1.15v1.04h-1.15zM68.98 225.87h1.04v1.15h-1.04zM70.98 225.98h1.15v1.04h-1.15zM71.87 225.98h1.26v1.04h-1.26zM72.87 225.98h1.15v1.04h-1.15zM75.98 225.87h1.04v1.15h-1.04zM77.98 225.87h1.04v1.26h-1.04zM44.98 226.98h1.04v1.04h-1.04zM48.98 226.98h1.04v1.04h-1.04zM64.98 226.87h1.04v1.15h-1.04zM77.98 226.87h1.15v1.15h-1.15zM78.87 226.98h1.15v1.04h-1.15zM89.98 226.98h1.04v1.04h-1.04zM97.98 226.98h1.04v1.04h-1.04zM47.98 227.98h1.04v1.04h-1.04zM66.98 227.98h1.04v1.15h-1.04zM86.98 227.98h1.04v1.04h-1.04zM66.98 228.87h1.04v1.15h-1.04zM68.98 228.98h1.04v1.04h-1.04zM77.98 228.98h1.04v1.04h-1.04zM53.98 230.98h1.04v1.04h-1.04zM61.98 230.98h1.04v1.04h-1.04zM76.98 230.98h1.04v1.04h-1.04zM51.98 231.98h1.04v1.04h-1.04zM70.98 232.98h1.04v1.04h-1.04zM73.98 233.98h1.04v1.04h-1.04z"/>
<path fill="#0020ff" d="M79.87 174.87h1.26v1.26h-1.26zM75.87 175.87h1.26v1.26h-1.26zM77.87 175.98h1.26v1.15h-1.26zM78.87 175.87h1.26v1.26h-1.26zM80.87 175.87h1.15v1.26h-1.15zM78.87 176.87h1.26v1.15h-1.26zM80.87 176.87h1.26v1.26h-1.26zM73.87 177.87h1.15v1.26h-1.15zM75.98 177.87h1.15v1.26h-1.15zM67.98 178.98h1.15v1.15h-1.15zM72.87 178.87h1.26v1.26h-1.26zM76.87 178.87h1.26v1.26h-1.26zM71.87 179.87h1.26v1.26h-1.26zM72.87 179.87h1.26v1.26h-1.26zM74.87 179.98h1.26v1.15h-1.26zM76.87 179.87h1.26v1.26h-1.26zM68.98 180.87h1.04v1.26h-1.04zM84.87 180.87h1.26v1.26h-1.26zM58.87 181.87h1.15v1.26h-1.15zM69.87 181.98h1.26v1.15h-1.26zM71.87 181.87h1.26v1.26h-1.26zM57.87 182.87h1.26v1.26h-1.26zM64.87 182.87h1.26v1.15h-1.26zM65.87 182.87h1.26v1.26h-1.26zM71.87 182.87h1.26v1.26h-1.26zM91.87 182.87h1.26v1.15h-1.26zM59.87 183.87h1.26v1.26h-1.26zM62.87 183.98h1.26v1.15h-1.26zM65.98 183.87h1.15v1.15h-1.15zM71.87 183.87h1.26v1.26h-1.26zM55.98 184.87h1.15v1.26h-1.15zM57.87 184.87h1.26v1.26h-1.26zM61.87 184.87h1.26v1.26h-1.26zM71.98 184.87h1.15v1.26h-1.15zM84.87 184.87h1.26v1.26h-1.26zM85.87 184.87h1.26v1.15h-1.26zM87.87 184.87h1.26v1.26h-1.26zM65.87 185.98h1.26v1.15h-1.26zM66.87 185.98h1.26v1.15h-1.26zM52.87 186.98h1.26v1.15h-1.26zM86.87 187.87h1.26v1.26h-1.26zM90.87 188.98h1.26v1.15h-1.26zM91.87 188.87h1.26v1.26h-1.26zM97.87 188.87h1.26v1.26h-1.26zM54.87 190.98h1.26v1.04h-1.26zM83.87 190.87h1.26v1.15h-1.26zM51.87 191.98h1.26v1.15h-1.26zM84.98 191.87h1.04v1.26h-1.04zM50.87 193.87h1.26v1.15h-1.26zM98.87 194.98h1.26v1.15h-1.26zM45.87 195.87h1.15v1.26h-1.15zM89.87 195.87h1.26v1.26h-1.26zM90.87 195.98h1.15v1.04h-1.15zM95.87 195.87h1.26v1.26h-1.26zM98.87 195.87h1.26v1.26h-1.26zM45.87 197.87h1.15v1.26h-1.15zM48.87 197.87h1.26v1.15h-1.26zM91.98 197.87h1.15v1.26h-1.15zM95.87 197.87h1.26v1.15h-1.26zM41.87 198.87h1.26v1.26h-1.26zM44.87 198.87h1.26v1.15h-1.26zM90.87 198.98h1.26v1.15h-1.26zM93.87 198.87h1.26v1.26h-1.26zM94.87 198.87h1.15v1.26h-1.15zM43.87 199.87h1.15v1.26h-1.15zM47.87 199.98h1.26v1.15h-1.26zM94.87 199.87h1.26v1.26h-1.26zM43.98 200.87h1.15v1.26h-1.15zM45.87 200.87h1.15v1.15h-1.15zM95.87 200.87h1.26v1.26h-1.26zM42.98 201.98h1.15v1.15h-1.15zM96.87 201.87h1.26v1.26h-1.26zM96.87 202.87h1.26v1.26h-1.26zM40.87 203.87h1.26v1.26h-1.26zM41.87 203.98h1.26v1.15h-1.26zM95.87 204.87h1.15v1.15h-1.15zM41.87 205.87h1.26v1.26h-1.26zM42.87 205.87h1.26v1.26h-1.26zM43.87 205.87h1.26v1.15h-1.26zM41.98 206.87h1.15v1.26h-1.15zM94.87 206.87h1.26v1.26h-1.26zM97.87 206.87h1.26v1.26h-1.26zM41.87 207.87h1.26v1.26h-1.26zM42.87 207.87h1.15v1.26h-1.15zM46.98 207.87h1.04v1.26h-1.04zM95.87 208.87h1.26v1.15h-1.26zM93.87 209.98h1.26v1.15h-1.26zM45.98 210.87h1.04v1.26h-1.04zM50.87 210.87h1.26v1.15h-1.26zM94.87 210.87h1.26v1.26h-1.26zM95.87 210.98h1.15v1.15h-1.15zM44.87 211.98h1.26v1.04h-1.26zM90.87 212.87h1.26v1.15h-1.26zM91.87 212.87h1.26v1.15h-1.26zM93.87 212.87h1.26v1.26h-1.26zM95.87 212.87h1.26v1.26h-1.26zM93.87 213.87h1.26v1.26h-1.26zM94.87 213.87h1.26v1.26h-1.26zM95.87 213.87h1.26v1.15h-1.26zM51.87 214.98h1.26v1.15h-1.26zM53.87 214.98h1.26v1.04h-1.26zM54.87 214.87h1.26v1.26h-1.26zM55.87 214.98h1.26v1.15h-1.26zM87.87 214.87h1.26v1.26h-1.26zM92.87 214.87h1.26v1.26h-1.26zM48.98 215.87h1.15v1.26h-1.15zM49.87 215.87h1.26v1.26h-1.26zM51.87 215.87h1.26v1.26h-1.26zM54.98 215.87h1.15v1.15h-1.15zM82.87 215.87h1.26v1.26h-1.26zM84.87 215.87h1.26v1.15h-1.26zM86.87 215.87h1.26v1.26h-1.26zM87.87 215.87h1.26v1.26h-1.26zM92.87 215.87h1.26v1.15h-1.26zM94.87 215.87h1.15v1.15h-1.15zM44.87 216.98h1.26v1.15h-1.26zM46.87 216.98h1.15v1.15h-1.15zM50.87 216.87h1.26v1.26h-1.26zM83.87 216.87h1.15v1.26h-1.15zM87.87 216.87h1.26v1.26h-1.26zM88.87 216.87h1.26v1.26h-1.26zM73.87 217.87h1.26v1.26h-1.26zM84.87 217.98h1.26v1.15h-1.26zM85.87 217.87h1.26v1.26h-1.26zM86.87 217.87h1.26v1.26h-1.26zM45.87 218.87h1.15v1.26h-1.15zM55.87 218.87h1.26v1.26h-1.26zM56.87 218.87h1.26v1.26h-1.26zM55.98 219.87h1.15v1.26h-1.15zM58.98 219.87h1.15v1.26h-1.15zM62.87 219.87h1.26v1.26h-1.26zM72.87 219.98h1.26v1.15h-1.26zM75.87 219.98h1.26v1.15h-1.26zM79.87 219.87h1.26v1.15h-1.26zM81.87 219.87h1.26v1.15h-1.26zM58.87 220.87h1.26v1.15h-1.26zM62.87 220.87h1.26v1.26h-1.26zM73.87 220.87h1.26v1.15h-1.26zM74.87 220.87h1.26v1.26h-1.26zM76.87 220.87h1.26v1.26h-1.26zM61.87 221.87h1.26v1.26h-1.26zM64.98 221.87h1.04v1.15h-1.04zM71.87 221.87h1.15v1.26h-1.15zM76.87 221.87h1.26v1.26h-1.26zM77.87 221.87h1.26v1.15h-1.26zM62.87 222.87h1.26v1.26h-1.26zM67.98 222.87h1.15v1.15h-1.15zM69.87 222.98h1.26v1.15h-1.26zM70.87 222.87h1.26v1.26h-1.26zM75.98 222.87h1.15v1.26h-1.15zM76.87 224.87h1.26v1.15h-1.26z"/>
<path fill="#0041ff" d="M70.98 164.98h1.04v1.04h-1.04zM75.87 166.98h1.26v1.04h-1.26zM76.87 166.87h1.15v1.26h-1.15zM88.87 166.98h1.26v1.15h-1.26zM72.98 167.98h1.04v1.15h-1.04zM81.98 167.98h1.04v1.04h-1.04zM88.98 167.87h1.04v1.15h-1.04zM96.98 168.98h1.04v1.04h-1.04zM76.98 169.98h1.15v1.15h-1.15zM93.98 169.98h1.04v1.04h-1.04zM85.98 170.98h1.04v1.04h-1.04zM90.98 170.87h1.15v1.26h-1.15zM97.98 171.98h1.04v1.15h-1.04zM69.98 172.98h1.15v1.15h-1.15zM76.87 172.87h1.15v1.26h-1.15zM92.98 172.87h1.04v1.15h-1.04zM94.98 172.98h1.15v1.15h-1.15zM96.87 172.98h1.26v1.04h-1.26zM99.98 172.87h1.04v1.26h-1.04zM54.98 173.98h1.04v1.04h-1.04zM58.98 173.98h1.15v1.15h-1.15zM68.98 173.98h1.15v1.15h-1.15zM99.87 173.87h1.15v1.15h-1.15zM86.98 174.98h1.15v1.04h-1.15zM98.98 174.87h1.04v1.15h-1.04zM66.98 175.98h1.15v1.04h-1.15zM49.98 176.98h1.04v1.15h-1.04zM58.98 176.87h1.04v1.15h-1.04zM60.98 176.98h1.15v1.04h-1.15zM47.98 177.87h1.15v1.15h-1.15zM54.98 177.98h1.15v1.04h-1.15zM66.98 177.98h1.04v1.04h-1.04zM87.98 177.87h1.04v1.15h-1.04zM96.87 177.98h1.15v1.04h-1.15zM98.98 177.87h1.15v1.15h-1.15zM42.98 178.98h1.15v1.04h-1.15zM59.87 178.98h1.15v1.04h-1.15zM93.98 178.87h1.15v1.15h-1.15zM50.98 179.98h1.04v1.04h-1.04zM88.87 179.98h1.15v1.04h-1.15zM45.87 180.98h1.26v1.04h-1.26zM48.98 181.98h1.04v1.15h-1.04zM73.87 181.87h1.26v1.26h-1.26zM74.87 181.87h1.26v1.26h-1.26zM75.87 181.98h1.26v1.15h-1.26zM83.87 181.87h1.26v1.26h-1.26zM84.87 181.87h1.26v1.26h-1.26zM100.98 181.87h1.15v1.26h-1.15zM48.87 182.87h1.15v1.26h-1.15zM67.87 182.87h1.26v1.26h-1.26zM81.87 182.87h1.26v1.26h-1.26zM80.87 183.87h1.26v1.26h-1.26zM59.87 184.87h1.26v1.26h-1.26zM81.87 184.87h1.26v1.26h-1.26zM83.87 184.87h1.26v1.26h-1.26zM59.87 185.87h1.26v1.26h-1.26zM61.87 185.87h1.26v1.26h-1.26zM68.87 185.87h1.26v1.26h-1.26zM71.87 185.87h1.26v1.26h-1.26zM77.87 185.87h1.26v1.15h-1.26zM96.98 185.98h1.15v1.04h-1.15zM48.87 186.98h1.26v1.04h-1.26zM62.87 186.87h1.26v1.26h-1.26zM67.87 186.87h1.26v1.26h-1.26zM82.87 186.87h1.26v1.26h-1.26zM58.87 187.87h1.26v1.26h-1.26zM60.87 187.87h1.26v1.26h-1.26zM64.87 187.87h1.26v1.26h-1.26zM66.87 187.87h1.26v1.26h-1.26zM84.87 187.98h1.26v1.15h-1.26zM49.98 188.98h1.15v1.04h-1.15zM63.87 188.87h1.26v1.26h-1.26zM77.87 188.87h1.26v1.26h-1.26zM40.87 189.98h1.15v1.04h-1.15zM78.87 189.87h1.26v1.26h-1.26zM79.87 189.87h1.26v1.26h-1.26zM82.87 189.87h1.26v1.26h-1.26zM83.87 189.87h1.26v1.26h-1.26zM84.87 189.87h1.26v1.26h-1.26zM35.98 190.98h1.04v1.04h-1.04zM90.87 190.87h1.15v1.26h-1.15zM84.87 192.87h1.26v1.26h-1.26zM51.87 193.87h1.26v1.26h-1.26zM89.98 193.87h1.15v1.26h-1.15zM101.98 193.87h1.15v1.15h-1.15zM40.87 194.98h1.15v1.15h-1.15zM52.87 195.87h1.26v1.26h-1.26zM87.87 195.87h1.26v1.26h-1.26zM32.98 196.98h1.04v1.04h-1.04zM101.98 196.98h1.04v1.15h-1.04zM35.98 197.98h1.04v1.15h-1.04zM89.87 197.87h1.15v1.26h-1.15zM101.87 197.87h1.26v1.15h-1.26zM35.98 198.87h1.04v1.15h-1.04zM38.98 199.98h1.15v1.15h-1.15zM92.87 199.87h1.26v1.26h-1.26zM98.98 199.87h1.04v1.26h-1.04zM92.87 200.87h1.26v1.26h-1.26zM100.87 200.87h1.15v1.15h-1.15zM47.87 201.87h1.26v1.26h-1.26zM94.87 201.87h1.26v1.26h-1.26zM94.87 203.87h1.26v1.26h-1.26zM102.98 203.98h1.15v1.04h-1.15zM103.87 203.98h1.15v1.04h-1.15zM48.87 204.87h1.26v1.15h-1.26zM33.98 205.98h1.15v1.04h-1.15zM49.98 205.87h1.15v1.26h-1.15zM53.87 205.87h1.26v1.26h-1.26zM54.87 205.87h1.26v1.26h-1.26zM90.87 206.87h1.26v1.26h-1.26zM49.87 207.87h1.26v1.26h-1.26zM46.87 208.87h1.26v1.26h-1.26zM39.98 209.98h1.04v1.15h-1.04zM43.87 209.87h1.26v1.26h-1.26zM45.87 209.87h1.26v1.26h-1.26zM47.87 209.87h1.26v1.26h-1.26zM48.87 209.87h1.26v1.26h-1.26zM52.87 209.87h1.26v1.26h-1.26zM91.87 209.87h1.26v1.26h-1.26zM48.87 210.87h1.26v1.26h-1.26zM91.87 210.87h1.26v1.26h-1.26zM93.87 210.87h1.26v1.26h-1.26zM91.87 211.87h1.26v1.26h-1.26zM41.98 212.87h1.04v1.26h-1.04zM49.87 212.87h1.26v1.26h-1.26zM51.87 212.87h1.26v1.15h-1.26zM88.87 212.87h1.26v1.26h-1.26zM48.87 214.87h1.26v1.26h-1.26zM56.87 214.98h1.26v1.15h-1.26zM58.87 215.87h1.26v1.15h-1.26zM97.87 215.98h1.15v1.04h-1.15zM56.98 216.87h1.15v1.26h-1.15zM52.87 217.87h1.26v1.26h-1.26zM56.87 217.87h1.26v1.26h-1.26zM66.98 217.87h1.15v1.26h-1.15zM72.87 217.87h1.26v1.15h-1.26zM78.87 217.87h1.26v1.15h-1.26zM81.87 217.87h1.26v1.26h-1.26zM60.87 218.87h1.26v1.15h-1.26zM62.87 218.87h1.26v1.26h-1.26zM65.87 218.98h1.26v1.15h-1.26zM71.87 219.87h1.26v1.26h-1.26zM88.98 219.98h1.04v1.15h-1.04zM68.87 220.87h1.26v1.26h-1.26zM69.87 220.87h1.26v1.15h-1.26zM70.87 220.87h1.26v1.26h-1.26zM89.87 220.98h1.15v1.04h-1.15zM82.87 221.98h1.15v1.04h-1.15zM85.87 221.87h1.15v1.26h-1.15zM47.98 222.98h1.04v1.04h-1.04zM49.98 222.98h1.04v1.15h-1.04zM55.87 223.87h1.26v1.15h-1.26zM56.98 224.87h1.04v1.15h-1.04zM68.98 224.87h1.04v1.26h-1.04zM81.87 224.98h1.26v1.04h-1.26zM57.98 226.87h1.04v1.15h-1.04zM92.98 227.98h1.04v1.04h-1.04z"/>
<path fill="#0061ff" d="M79.87 169.87h1.15v1.15h-1.15zM72.87 170.87h1.15v1.26h-1.15zM82.98 171.98h1.15v1.15h-1.15zM89.87 172.98h1.26v1.15h-1.26zM74.87 173.98h1.15v1.04h-1.15zM72.87 174.87h1.26v1.15h-1.26zM73.87 174.87h1.15v1.15h-1.15zM75.98 174.98h1.04v1.15h-1.04zM82.98 174.87h1.15v1.15h-1.15zM71.98 175.87h1.04v1.26h-1.04zM74.98 175.98h1.15v1.15h-1.15zM85.98 175.98h1.04v1.15h-1.04zM95.87 175.98h1.26v1.15h-1.26zM63.87 176.87h1.15v1.26h-1.15zM71.87 176.87h1.15v1.15h-1.15zM77.87 176.87h1.26v1.15h-1.26zM49.87 177.87h1.15v1.26h-1.15zM62.98 177.87h1.15v1.15h-1.15zM64.87 177.98h1.15v1.15h-1.15zM80.87 177.87h1.15v1.15h-1.15zM83.87 177.98h1.26v1.04h-1.26zM90.87 177.87h1.15v1.15h-1.15zM79.87 178.87h1.15v1.15h-1.15zM81.98 178.98h1.04v1.15h-1.04zM61.87 179.87h1.26v1.26h-1.26zM62.87 179.98h1.26v1.04h-1.26zM69.87 179.87h1.26v1.15h-1.26zM77.87 179.87h1.15v1.15h-1.15zM81.98 179.87h1.04v1.15h-1.04zM84.87 179.98h1.26v1.15h-1.26zM55.87 180.87h1.15v1.15h-1.15zM59.87 180.98h1.26v1.04h-1.26zM79.87 180.98h1.15v1.15h-1.15zM82.98 180.98h1.15v1.15h-1.15zM86.87 180.98h1.15v1.15h-1.15zM52.87 181.98h1.15v1.15h-1.15zM56.98 181.98h1.15v1.15h-1.15zM60.98 181.87h1.04v1.15h-1.04zM92.87 181.87h1.15v1.26h-1.15zM94.98 181.87h1.15v1.15h-1.15zM52.87 182.87h1.26v1.26h-1.26zM63.98 182.87h1.15v1.26h-1.15zM87.98 182.87h1.15v1.26h-1.15zM92.87 182.87h1.15v1.26h-1.15zM52.98 183.87h1.15v1.26h-1.15zM53.87 183.87h1.15v1.26h-1.15zM92.98 183.87h1.15v1.26h-1.15zM94.87 183.98h1.26v1.04h-1.26zM96.87 183.87h1.26v1.15h-1.26zM90.87 184.87h1.26v1.26h-1.26zM91.87 184.98h1.26v1.15h-1.26zM51.87 185.87h1.15v1.26h-1.15zM55.87 185.87h1.15v1.26h-1.15zM74.98 185.87h1.15v1.15h-1.15zM89.87 185.87h1.26v1.26h-1.26zM90.87 185.87h1.26v1.15h-1.26zM91.87 185.87h1.15v1.26h-1.15zM43.98 186.98h1.15v1.15h-1.15zM47.87 186.98h1.26v1.15h-1.26zM51.98 186.87h1.15v1.26h-1.15zM53.87 186.98h1.26v1.15h-1.26zM54.87 186.87h1.26v1.15h-1.26zM89.87 186.87h1.15v1.26h-1.15zM92.87 186.98h1.15v1.15h-1.15zM97.98 186.87h1.15v1.26h-1.15zM53.87 187.87h1.15v1.26h-1.15zM75.87 187.87h1.26v1.26h-1.26zM95.98 187.98h1.04v1.15h-1.04zM97.98 187.87h1.15v1.26h-1.15zM98.87 187.87h1.26v1.26h-1.26zM46.98 188.87h1.04v1.26h-1.04zM67.87 188.87h1.26v1.26h-1.26zM76.87 188.87h1.26v1.26h-1.26zM96.87 188.98h1.26v1.15h-1.26zM62.87 189.87h1.26v1.26h-1.26zM64.87 189.87h1.26v1.26h-1.26zM77.87 189.87h1.26v1.26h-1.26zM95.87 189.87h1.26v1.26h-1.26zM97.87 189.87h1.15v1.26h-1.15zM47.98 190.87h1.15v1.26h-1.15zM48.87 190.98h1.26v1.15h-1.26zM52.98 190.87h1.15v1.26h-1.15zM80.87 190.87h1.26v1.26h-1.26zM87.87 190.87h1.26v1.26h-1.26zM95.87 190.87h1.15v1.26h-1.15zM43.98 191.87h1.15v1.26h-1.15zM49.87 191.87h1.26v1.15h-1.26zM61.98 191.87h1.15v1.26h-1.15zM92.98 191.87h1.15v1.15h-1.15zM96.98 192.87h1.15v1.26h-1.15zM44.87 193.98h1.26v1.15h-1.26zM45.87 193.87h1.15v1.26h-1.15zM48.87 193.87h1.26v1.26h-1.26zM49.87 193.98h1.26v1.04h-1.26zM96.98 193.87h1.15v1.15h-1.15zM95.98 194.98h1.04v1.15h-1.04zM97.98 194.87h1.15v1.26h-1.15zM47.98 195.87h1.15v1.15h-1.15zM86.87 195.87h1.26v1.26h-1.26zM92.98 195.87h1.04v1.15h-1.04zM94.98 195.98h1.15v1.15h-1.15zM96.87 195.98h1.26v1.15h-1.26zM97.87 195.87h1.26v1.15h-1.26zM40.98 196.87h1.15v1.26h-1.15zM41.87 196.87h1.15v1.26h-1.15zM43.98 196.98h1.15v1.04h-1.15zM46.87 196.98h1.15v1.04h-1.15zM86.87 196.87h1.26v1.15h-1.26zM88.87 196.87h1.26v1.26h-1.26zM40.98 198.87h1.15v1.26h-1.15zM89.87 199.87h1.26v1.26h-1.26zM96.87 199.87h1.15v1.26h-1.15zM37.98 200.98h1.15v1.04h-1.15zM55.87 200.87h1.26v1.26h-1.26zM56.87 200.87h1.26v1.26h-1.26zM51.87 201.87h1.26v1.26h-1.26zM87.87 201.87h1.26v1.26h-1.26zM99.87 201.87h1.15v1.15h-1.15zM39.87 202.87h1.26v1.26h-1.26zM51.87 202.87h1.26v1.26h-1.26zM88.87 202.87h1.26v1.26h-1.26zM90.87 202.87h1.26v1.26h-1.26zM91.87 202.87h1.26v1.26h-1.26zM39.87 203.87h1.26v1.26h-1.26zM92.87 203.87h1.26v1.26h-1.26zM40.87 204.87h1.26v1.26h-1.26zM52.87 204.87h1.26v1.26h-1.26zM40.98 205.87h1.15v1.15h-1.15zM46.87 205.87h1.26v1.26h-1.26zM90.87 205.87h1.26v1.26h-1.26zM97.87 205.98h1.26v1.15h-1.26zM98.87 205.87h1.26v1.26h-1.26zM38.87 206.98h1.26v1.15h-1.26zM39.87 206.98h1.15v1.04h-1.15zM54.87 206.87h1.26v1.26h-1.26zM96.87 206.87h1.26v1.15h-1.26zM37.98 207.87h1.15v1.26h-1.15zM40.98 207.98h1.15v1.04h-1.15zM90.87 207.87h1.26v1.26h-1.26zM100.87 207.87h1.26v1.26h-1.26zM38.87 208.87h1.15v1.15h-1.15zM41.98 208.87h1.15v1.26h-1.15zM53.87 208.87h1.26v1.26h-1.26zM96.87 208.98h1.15v1.15h-1.15zM100.87 208.87h1.26v1.26h-1.26zM35.98 209.87h1.15v1.26h-1.15zM41.98 209.87h1.15v1.15h-1.15zM87.87 210.87h1.26v1.26h-1.26zM45.87 211.87h1.15v1.26h-1.15zM86.87 211.87h1.26v1.26h-1.26zM96.87 212.98h1.26v1.15h-1.26zM79.87 213.87h1.26v1.26h-1.26zM92.98 213.87h1.15v1.26h-1.15zM96.87 213.87h1.15v1.26h-1.15zM41.98 214.87h1.15v1.26h-1.15zM42.87 214.98h1.26v1.15h-1.26zM44.87 214.87h1.15v1.15h-1.15zM76.87 214.87h1.26v1.26h-1.26zM90.98 214.98h1.15v1.15h-1.15zM45.98 215.98h1.04v1.15h-1.04zM63.87 215.87h1.26v1.26h-1.26zM89.87 215.98h1.26v1.15h-1.26zM43.98 216.98h1.15v1.04h-1.15zM63.87 216.87h1.26v1.26h-1.26zM67.87 216.87h1.26v1.26h-1.26zM72.87 216.87h1.26v1.26h-1.26zM77.87 216.87h1.26v1.26h-1.26zM89.87 216.87h1.15v1.26h-1.15zM46.87 217.87h1.26v1.15h-1.26zM47.87 217.98h1.15v1.15h-1.15zM50.98 217.87h1.15v1.15h-1.15zM60.87 217.87h1.26v1.26h-1.26zM89.87 217.87h1.26v1.15h-1.26zM86.87 218.87h1.15v1.26h-1.15zM90.98 218.87h1.15v1.15h-1.15zM47.87 219.87h1.26v1.15h-1.26zM50.98 219.98h1.04v1.15h-1.04zM77.87 219.87h1.26v1.26h-1.26zM49.98 220.98h1.15v1.04h-1.15zM50.87 220.87h1.26v1.15h-1.26zM51.87 220.98h1.15v1.15h-1.15zM54.87 220.98h1.26v1.04h-1.26zM57.87 220.98h1.26v1.04h-1.26zM65.87 220.87h1.26v1.15h-1.26zM59.98 221.87h1.15v1.15h-1.15zM78.87 221.98h1.26v1.15h-1.26zM61.98 222.87h1.15v1.26h-1.15zM63.87 222.98h1.15v1.04h-1.15zM68.87 222.87h1.26v1.26h-1.26zM62.87 223.87h1.15v1.26h-1.15zM65.87 223.98h1.15v1.04h-1.15zM69.87 223.87h1.26v1.15h-1.26zM79.87 223.98h1.15v1.04h-1.15zM75.98 224.87h1.15v1.26h-1.15zM77.87 224.87h1.26v1.26h-1.26z"/>
<path fill="#0081ff" d="M74.87 176.87h1.26v1.15h-1.26zM76.87 176.87h1.26v1.26h-1.26zM76.87 177.87h1.15v1.26h-1.15zM79.98 177.87h1.15v1.26h-1.15zM73.87 178.87h1.15v1.26h-1.15zM75.87 179.87h1.26v1.15h-1.26zM66.87 180.98h1.15v1.15h-1.15zM72.87 180.87h1.26v1.26h-1.26zM73.87 180.87h1.26v1.26h-1.26zM76.98 180.87h1.04v1.26h-1.04zM78.98 180.98h1.15v1.15h-1.15zM83.87 180.87h1.26v1.26h-1.26zM85.87 180.87h1.26v1.26h-1.26zM65.87 181.87h1.26v1.26h-1.26zM67.87 181.98h1.26v1.15h-1.26zM68.87 181.87h1.26v1.26h-1.26zM70.87 181.98h1.26v1.15h-1.26zM72.87 181.87h1.26v1.26h-1.26zM79.87 181.87h1.15v1.26h-1.15zM82.87 181.87h1.26v1.26h-1.26zM86.87 181.87h1.26v1.15h-1.26zM91.87 181.98h1.26v1.15h-1.26zM68.87 182.87h1.26v1.26h-1.26zM70.87 182.87h1.26v1.26h-1.26zM72.87 182.87h1.26v1.26h-1.26zM56.87 183.87h1.26v1.26h-1.26zM57.87 183.87h1.26v1.26h-1.26zM58.87 183.87h1.26v1.26h-1.26zM60.87 183.98h1.26v1.15h-1.26zM61.87 183.87h1.26v1.26h-1.26zM67.87 183.87h1.26v1.15h-1.26zM75.87 183.87h1.26v1.26h-1.26zM86.87 183.98h1.26v1.15h-1.26zM87.87 183.87h1.26v1.26h-1.26zM58.87 184.87h1.26v1.26h-1.26zM57.98 185.87h1.15v1.15h-1.15zM62.87 185.87h1.26v1.26h-1.26zM63.87 185.98h1.26v1.15h-1.26zM64.87 185.87h1.26v1.26h-1.26zM83.87 185.87h1.26v1.26h-1.26zM58.98 186.87h1.15v1.26h-1.15zM83.87 186.87h1.15v1.26h-1.15zM72.87 187.87h1.26v1.26h-1.26zM85.87 187.87h1.26v1.26h-1.26zM89.98 187.87h1.04v1.26h-1.04zM55.87 188.87h1.15v1.26h-1.15zM56.87 189.98h1.26v1.15h-1.26zM71.87 190.87h1.26v1.26h-1.26zM75.87 190.87h1.26v1.26h-1.26zM84.87 190.87h1.26v1.26h-1.26zM53.87 191.87h1.15v1.26h-1.15zM65.87 191.87h1.26v1.26h-1.26zM76.87 191.87h1.26v1.26h-1.26zM51.87 192.87h1.26v1.26h-1.26zM53.87 192.87h1.15v1.26h-1.15zM56.87 192.87h1.26v1.26h-1.26zM91.87 192.98h1.15v1.04h-1.15zM81.87 193.87h1.26v1.26h-1.26zM59.87 194.87h1.26v1.26h-1.26zM92.87 194.87h1.26v1.26h-1.26zM44.87 196.87h1.26v1.26h-1.26zM48.98 196.87h1.15v1.26h-1.15zM49.87 196.98h1.15v1.15h-1.15zM93.87 197.98h1.26v1.15h-1.26zM94.87 197.87h1.26v1.26h-1.26zM42.87 198.87h1.26v1.26h-1.26zM45.87 198.87h1.26v1.26h-1.26zM88.87 198.87h1.26v1.26h-1.26zM91.87 198.87h1.26v1.26h-1.26zM92.87 198.87h1.26v1.26h-1.26zM48.87 199.98h1.26v1.15h-1.26zM95.87 199.98h1.26v1.15h-1.26zM47.98 200.87h1.15v1.26h-1.15zM84.87 200.87h1.26v1.26h-1.26zM94.87 200.87h1.26v1.26h-1.26zM44.87 201.87h1.15v1.15h-1.15zM95.87 201.87h1.26v1.26h-1.26zM42.98 202.87h1.15v1.26h-1.15zM95.87 202.87h1.26v1.26h-1.26zM53.87 203.87h1.26v1.26h-1.26zM41.87 204.87h1.26v1.26h-1.26zM54.87 204.87h1.26v1.26h-1.26zM94.98 204.87h1.15v1.26h-1.15zM88.87 205.87h1.26v1.26h-1.26zM93.87 205.98h1.26v1.15h-1.26zM94.87 205.87h1.15v1.26h-1.15zM48.87 206.98h1.26v1.15h-1.26zM56.87 206.87h1.26v1.26h-1.26zM95.87 206.98h1.26v1.15h-1.26zM94.98 207.87h1.15v1.26h-1.15zM42.87 208.87h1.26v1.26h-1.26zM44.87 208.98h1.26v1.15h-1.26zM89.87 208.87h1.26v1.26h-1.26zM94.98 208.87h1.15v1.26h-1.15zM42.87 209.87h1.26v1.26h-1.26zM49.87 209.87h1.26v1.26h-1.26zM92.87 209.98h1.26v1.15h-1.26zM49.87 210.87h1.26v1.26h-1.26zM53.87 210.87h1.26v1.26h-1.26zM56.87 210.87h1.26v1.15h-1.26zM89.87 210.87h1.26v1.26h-1.26zM76.87 211.87h1.26v1.26h-1.26zM77.87 211.87h1.26v1.26h-1.26zM94.87 211.87h1.26v1.26h-1.26zM46.87 212.98h1.26v1.04h-1.26zM50.87 212.98h1.26v1.15h-1.26zM55.87 212.87h1.15v1.15h-1.15zM89.87 212.87h1.26v1.15h-1.26zM92.87 212.87h1.26v1.26h-1.26zM54.98 213.87h1.04v1.26h-1.04zM87.98 213.87h1.15v1.26h-1.15zM50.87 214.87h1.26v1.26h-1.26zM52.87 214.87h1.26v1.26h-1.26zM82.87 214.98h1.15v1.15h-1.15zM50.87 215.87h1.26v1.26h-1.26zM52.87 215.87h1.15v1.26h-1.15zM45.87 216.87h1.26v1.26h-1.26zM52.87 216.87h1.26v1.26h-1.26zM53.87 216.98h1.15v1.15h-1.15zM73.87 216.87h1.26v1.26h-1.26zM82.87 216.87h1.26v1.26h-1.26zM51.87 217.87h1.26v1.26h-1.26zM53.87 217.87h1.26v1.15h-1.26zM54.87 217.98h1.26v1.15h-1.26zM83.87 217.87h1.26v1.26h-1.26zM51.98 218.87h1.15v1.15h-1.15zM57.87 218.87h1.26v1.15h-1.26zM66.87 218.87h1.15v1.26h-1.15zM73.98 218.87h1.15v1.26h-1.15zM74.87 218.87h1.15v1.26h-1.15zM77.87 218.87h1.15v1.26h-1.15zM79.98 218.87h1.15v1.26h-1.15zM80.87 218.87h1.26v1.26h-1.26zM81.87 218.87h1.26v1.26h-1.26zM82.87 218.87h1.26v1.26h-1.26zM83.87 218.87h1.26v1.26h-1.26zM59.87 219.87h1.15v1.26h-1.15zM61.98 219.87h1.15v1.26h-1.15zM76.87 219.87h1.26v1.26h-1.26zM60.87 220.98h1.26v1.15h-1.26zM72.87 220.87h1.26v1.15h-1.26zM75.87 220.87h1.26v1.26h-1.26zM60.87 221.87h1.26v1.15h-1.26zM67.87 221.87h1.26v1.26h-1.26zM70.98 221.87h1.15v1.26h-1.15zM76.87 222.87h1.15v1.26h-1.15zM78.87 223.87h1.26v1.26h-1.26z"/>
<path fill="#00a2ff" d="M91.87 166.98h1.15v1.04h-1.15zM88.98 172.98h1.15v1.04h-1.15zM90.87 176.87h1.15v1.26h-1.15zM93.98 176.98h1.15v1.15h-1.15zM57.87 177.98h1.15v1.04h-1.15zM53.98 178.98h1.04v1.04h-1.04zM78.87 181.87h1.26v1.26h-1.26zM83.87 182.87h1.26v1.26h-1.26zM68.87 183.87h1.26v1.26h-1.26zM72.87 183.87h1.26v1.26h-1.26zM77.87 184.87h1.26v1.26h-1.26zM78.87 184.87h1.26v1.26h-1.26zM79.87 184.87h1.26v1.26h-1.26zM69.87 185.98h1.26v1.15h-1.26zM70.87 185.98h1.26v1.15h-1.26zM72.87 185.87h1.15v1.26h-1.15zM78.87 185.87h1.26v1.26h-1.26zM79.87 185.87h1.15v1.26h-1.15zM59.87 186.87h1.26v1.26h-1.26zM61.87 186.87h1.26v1.26h-1.26zM65.87 186.87h1.26v1.26h-1.26zM79.87 186.87h1.26v1.26h-1.26zM81.87 186.87h1.26v1.26h-1.26zM59.87 187.87h1.26v1.26h-1.26zM63.87 187.87h1.26v1.26h-1.26zM80.87 187.87h1.26v1.15h-1.26zM61.87 188.87h1.26v1.26h-1.26zM62.87 188.87h1.26v1.26h-1.26zM81.98 188.87h1.15v1.26h-1.15zM87.87 188.87h1.26v1.26h-1.26zM57.87 189.87h1.26v1.15h-1.26zM63.87 189.87h1.26v1.26h-1.26zM55.87 190.87h1.26v1.26h-1.26zM56.87 190.87h1.15v1.26h-1.15zM82.87 190.87h1.26v1.26h-1.26zM88.87 191.87h1.26v1.26h-1.26zM89.87 191.87h1.26v1.26h-1.26zM85.87 192.98h1.26v1.04h-1.26zM86.87 192.87h1.26v1.26h-1.26zM90.87 192.87h1.26v1.26h-1.26zM53.87 193.87h1.26v1.26h-1.26zM52.87 194.87h1.26v1.26h-1.26zM87.87 194.87h1.26v1.26h-1.26zM57.87 195.87h1.26v1.26h-1.26zM60.87 195.87h1.26v1.26h-1.26zM75.87 195.87h1.26v1.26h-1.26zM82.87 195.87h1.26v1.26h-1.26zM88.87 195.87h1.26v1.26h-1.26zM83.87 197.87h1.26v1.26h-1.26zM49.98 198.87h1.15v1.26h-1.15zM49.87 199.87h1.26v1.26h-1.26zM48.87 200.87h1.26v1.26h-1.26zM93.87 200.87h1.26v1.26h-1.26zM36.98 201.98h1.04v1.15h-1.04zM48.87 201.87h1.26v1.26h-1.26zM91.87 201.87h1.26v1.26h-1.26zM92.87 201.87h1.26v1.26h-1.26zM43.87 203.87h1.26v1.26h-1.26zM44.87 203.98h1.26v1.15h-1.26zM43.87 204.87h1.26v1.26h-1.26zM44.87 204.87h1.26v1.26h-1.26zM47.87 204.87h1.26v1.26h-1.26zM49.87 204.87h1.26v1.26h-1.26zM92.87 205.87h1.26v1.26h-1.26zM47.87 206.87h1.26v1.15h-1.26zM49.87 206.87h1.26v1.26h-1.26zM89.87 206.87h1.26v1.26h-1.26zM91.87 206.87h1.26v1.26h-1.26zM82.87 207.87h1.26v1.26h-1.26zM50.87 208.87h1.26v1.26h-1.26zM52.87 208.87h1.26v1.26h-1.26zM84.87 208.87h1.26v1.26h-1.26zM50.87 209.87h1.26v1.26h-1.26zM51.87 209.87h1.26v1.26h-1.26zM78.87 209.87h1.26v1.26h-1.26zM51.87 210.87h1.26v1.26h-1.26zM49.87 211.87h1.15v1.26h-1.15zM54.87 212.87h1.26v1.26h-1.26zM59.87 212.87h1.26v1.26h-1.26zM86.87 212.87h1.26v1.15h-1.26zM37.98 213.98h1.15v1.04h-1.15zM47.98 213.87h1.15v1.26h-1.15zM48.87 213.87h1.26v1.26h-1.26zM57.98 213.87h1.15v1.26h-1.15zM81.87 214.87h1.26v1.26h-1.26zM57.87 215.87h1.26v1.26h-1.26zM73.87 215.87h1.15v1.26h-1.15zM65.87 216.87h1.26v1.15h-1.26zM75.87 216.87h1.26v1.26h-1.26zM80.87 216.87h1.26v1.26h-1.26zM81.87 216.87h1.26v1.26h-1.26zM62.87 217.87h1.26v1.26h-1.26zM76.87 217.87h1.26v1.26h-1.26zM77.87 217.87h1.26v1.26h-1.26zM80.87 217.87h1.26v1.26h-1.26zM59.87 218.87h1.26v1.26h-1.26zM63.87 218.87h1.26v1.26h-1.26zM64.87 218.87h1.26v1.26h-1.26zM71.87 218.87h1.15v1.26h-1.15zM63.87 219.87h1.26v1.26h-1.26zM68.98 219.87h1.15v1.26h-1.15zM67.87 220.98h1.26v1.15h-1.26zM46.98 221.87h1.04v1.15h-1.04zM73.98 223.98h1.04v1.04h-1.04zM60.98 224.98h1.04v1.04h-1.04z"/>
<path fill="#00c2ff" d="M81.98 169.98h1.04v1.15h-1.04zM92.87 170.98h1.15v1.15h-1.15zM81.98 173.98h1.15v1.04h-1.15zM78.98 174.87h1.15v1.26h-1.15zM80.87 174.98h1.15v1.15h-1.15zM76.87 175.98h1.26v1.15h-1.26zM73.98 176.98h1.15v1.15h-1.15zM85.98 176.87h1.04v1.26h-1.04zM87.98 176.87h1.04v1.26h-1.04zM82.98 177.87h1.15v1.15h-1.15zM68.87 178.98h1.26v1.15h-1.26zM75.98 178.87h1.15v1.26h-1.15zM63.87 179.87h1.15v1.15h-1.15zM71.98 180.87h1.15v1.26h-1.15zM90.98 180.98h1.04v1.15h-1.04zM57.87 181.98h1.26v1.15h-1.26zM64.87 181.87h1.26v1.26h-1.26zM95.87 181.87h1.15v1.15h-1.15zM74.87 182.87h1.26v1.26h-1.26zM93.87 183.98h1.26v1.15h-1.26zM64.98 184.98h1.04v1.15h-1.04zM86.87 184.87h1.26v1.26h-1.26zM75.98 186.87h1.15v1.26h-1.15zM52.87 187.87h1.26v1.15h-1.26zM71.87 187.87h1.26v1.26h-1.26zM54.87 188.98h1.26v1.04h-1.26zM66.87 188.87h1.26v1.26h-1.26zM92.87 188.87h1.15v1.15h-1.15zM59.87 189.87h1.26v1.26h-1.26zM61.87 189.87h1.26v1.26h-1.26zM87.87 189.87h1.26v1.26h-1.26zM89.87 189.87h1.26v1.26h-1.26zM96.87 189.87h1.26v1.15h-1.26zM76.87 190.87h1.26v1.26h-1.26zM79.87 190.87h1.26v1.26h-1.26zM88.87 190.87h1.26v1.26h-1.26zM92.98 190.98h1.15v1.15h-1.15zM59.87 191.87h1.15v1.26h-1.15zM66.87 191.87h1.26v1.15h-1.26zM50.98 192.87h1.15v1.26h-1.15zM59.87 192.87h1.26v1.26h-1.26zM61.87 192.87h1.26v1.26h-1.26zM82.87 192.87h1.26v1.26h-1.26zM83.87 193.87h1.26v1.26h-1.26zM92.98 193.98h1.15v1.15h-1.15zM45.87 194.87h1.15v1.26h-1.15zM48.87 194.87h1.15v1.26h-1.15zM65.87 195.87h1.26v1.26h-1.26zM53.87 196.87h1.26v1.26h-1.26zM71.87 196.87h1.26v1.26h-1.26zM99.87 196.87h1.15v1.15h-1.15zM47.98 197.98h1.15v1.04h-1.15zM53.87 197.87h1.26v1.26h-1.26zM46.87 198.98h1.15v1.15h-1.15zM52.98 198.87h1.15v1.26h-1.15zM53.87 198.87h1.26v1.26h-1.26zM63.87 198.87h1.26v1.26h-1.26zM74.87 198.87h1.26v1.26h-1.26zM50.87 199.87h1.26v1.15h-1.26zM52.87 199.87h1.26v1.26h-1.26zM55.87 199.87h1.26v1.26h-1.26zM44.87 200.98h1.26v1.15h-1.26zM51.98 200.87h1.15v1.26h-1.15zM62.87 200.87h1.26v1.26h-1.26zM86.87 200.87h1.26v1.26h-1.26zM47.87 202.87h1.26v1.26h-1.26zM49.87 202.87h1.26v1.26h-1.26zM87.87 202.87h1.26v1.26h-1.26zM89.87 202.87h1.26v1.26h-1.26zM46.87 203.87h1.26v1.26h-1.26zM51.98 203.87h1.15v1.26h-1.15zM90.87 203.87h1.26v1.26h-1.26zM83.87 204.87h1.26v1.26h-1.26zM91.87 204.87h1.26v1.26h-1.26zM55.87 205.87h1.26v1.26h-1.26zM55.87 206.87h1.26v1.26h-1.26zM52.87 207.87h1.26v1.26h-1.26zM81.87 207.87h1.26v1.26h-1.26zM97.98 207.87h1.15v1.15h-1.15zM74.87 209.87h1.26v1.26h-1.26zM87.87 209.87h1.26v1.26h-1.26zM96.98 209.87h1.15v1.15h-1.15zM36.87 211.98h1.26v1.04h-1.26zM43.98 211.87h1.15v1.26h-1.15zM95.87 211.87h1.15v1.26h-1.15zM53.87 212.87h1.26v1.15h-1.26zM68.87 212.87h1.26v1.26h-1.26zM78.87 212.87h1.26v1.26h-1.26zM82.87 212.87h1.15v1.15h-1.15zM44.87 213.98h1.15v1.15h-1.15zM76.87 213.87h1.26v1.26h-1.26zM78.87 213.87h1.26v1.26h-1.26zM81.87 213.87h1.15v1.26h-1.15zM58.87 214.87h1.26v1.26h-1.26zM74.87 214.87h1.26v1.15h-1.26zM78.87 214.87h1.26v1.26h-1.26zM86.98 214.98h1.15v1.15h-1.15zM94.87 214.87h1.15v1.26h-1.15zM42.87 215.87h1.15v1.15h-1.15zM64.87 215.87h1.26v1.26h-1.26zM65.87 215.87h1.26v1.26h-1.26zM66.87 215.87h1.26v1.26h-1.26zM79.87 215.87h1.26v1.26h-1.26zM41.98 216.87h1.04v1.26h-1.04zM60.87 216.87h1.26v1.26h-1.26zM62.87 216.87h1.26v1.26h-1.26zM44.98 217.87h1.15v1.26h-1.15zM87.87 217.87h1.26v1.15h-1.26zM68.98 218.87h1.15v1.26h-1.15zM93.98 218.87h1.15v1.26h-1.15zM82.87 219.87h1.26v1.15h-1.26zM55.87 220.87h1.26v1.15h-1.26zM74.98 221.87h1.15v1.15h-1.15zM64.98 223.98h1.15v1.15h-1.15zM70.87 223.87h1.15v1.15h-1.15zM75.98 223.87h1.15v1.26h-1.15z"/>
<path fill="#00e2ff" d="M79.87 175.87h1.26v1.26h-1.26zM75.87 176.87h1.26v1.26h-1.26zM68.87 179.87h1.26v1.26h-1.26zM73.87 179.87h1.26v1.26h-1.26zM66.87 181.87h1.26v1.26h-1.26zM81.98 181.98h1.15v1.15h-1.15zM85.87 181.87h1.26v1.26h-1.26zM56.98 182.87h1.15v1.26h-1.15zM58.87 182.87h1.26v1.26h-1.26zM69.87 182.87h1.26v1.26h-1.26zM80.87 182.98h1.26v1.15h-1.26zM69.87 183.87h1.26v1.15h-1.26zM70.87 183.87h1.26v1.15h-1.26zM81.87 183.87h1.15v1.26h-1.15zM56.87 184.87h1.26v1.15h-1.26zM60.87 184.87h1.26v1.26h-1.26zM75.87 184.87h1.26v1.26h-1.26zM60.87 185.87h1.26v1.26h-1.26zM67.87 185.98h1.26v1.15h-1.26zM66.87 186.87h1.26v1.26h-1.26zM78.98 186.87h1.15v1.15h-1.15zM57.98 187.98h1.15v1.15h-1.15zM77.87 187.98h1.15v1.15h-1.15zM87.87 187.98h1.15v1.15h-1.15zM57.98 188.87h1.15v1.26h-1.15zM71.87 188.87h1.26v1.26h-1.26zM78.87 188.98h1.26v1.15h-1.26zM79.87 188.87h1.15v1.26h-1.15zM67.87 189.87h1.26v1.26h-1.26zM69.87 189.87h1.26v1.26h-1.26zM90.87 189.87h1.26v1.26h-1.26zM91.87 189.87h1.15v1.15h-1.15zM63.87 190.87h1.26v1.26h-1.26zM74.87 190.87h1.26v1.26h-1.26zM52.87 191.87h1.26v1.26h-1.26zM70.87 191.87h1.26v1.26h-1.26zM52.87 192.87h1.26v1.26h-1.26zM67.98 192.87h1.15v1.26h-1.15zM90.87 193.87h1.15v1.15h-1.15zM61.87 194.87h1.26v1.26h-1.26zM88.87 194.98h1.26v1.15h-1.26zM89.87 194.87h1.15v1.26h-1.15zM51.98 195.87h1.15v1.15h-1.15zM58.87 195.87h1.26v1.26h-1.26zM81.87 195.87h1.26v1.26h-1.26zM99.87 195.87h1.26v1.26h-1.26zM45.87 196.87h1.26v1.26h-1.26zM89.87 196.87h1.15v1.26h-1.15zM94.98 196.87h1.15v1.26h-1.15zM95.87 196.87h1.26v1.26h-1.26zM44.98 197.87h1.15v1.26h-1.15zM92.87 197.98h1.26v1.15h-1.26zM43.87 198.98h1.26v1.15h-1.26zM56.87 198.87h1.26v1.26h-1.26zM53.87 200.87h1.26v1.26h-1.26zM43.87 201.87h1.26v1.26h-1.26zM46.98 201.98h1.15v1.15h-1.15zM55.87 201.87h1.26v1.26h-1.26zM84.87 201.87h1.26v1.26h-1.26zM85.87 203.87h1.26v1.26h-1.26zM42.87 204.87h1.26v1.26h-1.26zM85.87 204.87h1.26v1.26h-1.26zM87.87 204.87h1.26v1.26h-1.26zM47.87 205.87h1.15v1.26h-1.15zM44.98 206.87h1.15v1.15h-1.15zM93.87 206.87h1.26v1.15h-1.26zM88.87 207.87h1.26v1.26h-1.26zM95.87 207.87h1.15v1.26h-1.15zM45.87 208.98h1.26v1.15h-1.26zM47.87 208.98h1.26v1.15h-1.26zM54.87 208.87h1.26v1.26h-1.26zM86.87 209.87h1.26v1.26h-1.26zM42.98 210.87h1.15v1.15h-1.15zM84.87 211.87h1.26v1.26h-1.26zM92.87 211.87h1.26v1.26h-1.26zM93.87 211.87h1.26v1.26h-1.26zM75.87 212.87h1.26v1.26h-1.26zM87.87 212.87h1.26v1.26h-1.26zM94.87 212.87h1.26v1.26h-1.26zM50.87 213.87h1.15v1.26h-1.15zM64.87 213.87h1.26v1.26h-1.26zM65.87 213.87h1.26v1.26h-1.26zM49.87 214.87h1.26v1.26h-1.26zM59.87 214.87h1.26v1.26h-1.26zM72.87 214.87h1.26v1.26h-1.26zM93.87 214.87h1.26v1.26h-1.26zM51.87 216.87h1.26v1.26h-1.26zM86.87 216.87h1.26v1.26h-1.26zM57.87 217.87h1.26v1.26h-1.26zM74.87 217.87h1.26v1.26h-1.26zM79.87 217.87h1.26v1.26h-1.26zM82.87 217.87h1.26v1.26h-1.26zM58.87 218.87h1.26v1.26h-1.26zM61.87 218.87h1.26v1.26h-1.26zM76.98 218.87h1.15v1.26h-1.15zM73.87 219.87h1.26v1.26h-1.26zM74.87 219.87h1.26v1.26h-1.26zM61.87 220.87h1.26v1.26h-1.26zM71.87 220.87h1.26v1.26h-1.26zM62.87 221.87h1.15v1.26h-1.15zM68.87 221.87h1.15v1.26h-1.15zM75.87 221.87h1.26v1.26h-1.26zM76.87 223.87h1.26v1.26h-1.26zM77.87 223.98h1.26v1.15h-1.26z"/>
<path fill="#00fffb" d="M76.87 181.87h1.26v1.26h-1.26zM77.87 181.98h1.26v1.15h-1.26zM73.87 182.87h1.26v1.26h-1.26zM79.87 182.87h1.26v1.26h-1.26zM85.87 182.87h1.15v1.26h-1.15zM85.87 183.87h1.26v1.26h-1.26zM72.87 184.87h1.26v1.26h-1.26zM80.87 184.87h1.26v1.15h-1.26zM63.87 186.87h1.26v1.26h-1.26zM69.87 186.87h1.26v1.15h-1.26zM61.87 187.87h1.26v1.26h-1.26zM62.87 187.87h1.26v1.26h-1.26zM65.87 187.87h1.26v1.26h-1.26zM68.87 187.87h1.15v1.26h-1.15zM81.87 187.87h1.26v1.26h-1.26zM82.87 187.87h1.26v1.26h-1.26zM83.87 187.87h1.26v1.26h-1.26zM59.87 188.87h1.26v1.26h-1.26zM60.87 188.87h1.26v1.26h-1.26zM65.87 188.87h1.26v1.26h-1.26zM82.87 188.87h1.26v1.26h-1.26zM84.87 188.87h1.26v1.26h-1.26zM85.87 188.87h1.26v1.26h-1.26zM86.87 188.87h1.26v1.26h-1.26zM89.87 188.87h1.26v1.26h-1.26zM58.87 189.87h1.26v1.26h-1.26zM80.87 189.98h1.26v1.15h-1.26zM85.87 189.87h1.26v1.26h-1.26zM85.87 190.87h1.26v1.15h-1.26zM89.87 190.87h1.26v1.26h-1.26zM72.87 191.87h1.26v1.26h-1.26zM82.87 191.87h1.15v1.26h-1.15zM86.98 191.87h1.15v1.26h-1.15zM87.87 191.87h1.26v1.26h-1.26zM55.98 192.87h1.15v1.26h-1.15zM73.87 192.87h1.26v1.26h-1.26zM74.87 192.87h1.26v1.26h-1.26zM83.87 192.98h1.26v1.15h-1.26zM87.87 192.87h1.26v1.26h-1.26zM89.87 192.87h1.26v1.26h-1.26zM52.87 193.87h1.26v1.26h-1.26zM54.87 193.98h1.26v1.15h-1.26zM57.87 193.87h1.26v1.26h-1.26zM69.87 193.87h1.26v1.26h-1.26zM70.87 193.87h1.26v1.26h-1.26zM87.87 193.87h1.15v1.26h-1.15zM53.87 194.87h1.26v1.26h-1.26zM63.87 194.87h1.26v1.26h-1.26zM66.87 194.87h1.26v1.26h-1.26zM74.87 195.87h1.26v1.26h-1.26zM77.87 195.87h1.26v1.26h-1.26zM59.87 196.87h1.26v1.26h-1.26zM49.87 197.87h1.26v1.26h-1.26zM51.87 197.98h1.26v1.04h-1.26zM52.87 197.87h1.26v1.26h-1.26zM62.87 197.87h1.26v1.26h-1.26zM63.87 197.87h1.26v1.26h-1.26zM78.87 197.87h1.26v1.26h-1.26zM78.87 198.87h1.26v1.26h-1.26zM89.87 198.87h1.26v1.26h-1.26zM90.87 199.87h1.26v1.26h-1.26zM91.87 199.87h1.26v1.26h-1.26zM49.87 200.87h1.15v1.26h-1.15zM57.87 200.87h1.26v1.26h-1.26zM90.87 201.87h1.26v1.26h-1.26zM93.87 201.87h1.26v1.26h-1.26zM48.87 202.87h1.26v1.26h-1.26zM92.87 202.87h1.26v1.26h-1.26zM93.87 202.87h1.26v1.26h-1.26zM94.87 202.87h1.26v1.26h-1.26zM45.87 203.87h1.26v1.26h-1.26zM48.87 203.87h1.26v1.26h-1.26zM49.87 203.87h1.15v1.26h-1.15zM93.87 203.87h1.26v1.15h-1.26zM45.87 204.87h1.26v1.26h-1.26zM46.87 204.87h1.26v1.26h-1.26zM50.87 204.98h1.26v1.15h-1.26zM53.87 204.87h1.26v1.26h-1.26zM92.87 204.87h1.15v1.26h-1.15zM44.87 205.87h1.26v1.26h-1.26zM45.87 205.87h1.26v1.26h-1.26zM57.87 205.87h1.26v1.26h-1.26zM89.87 205.87h1.26v1.26h-1.26zM45.87 206.87h1.26v1.15h-1.26zM53.87 206.87h1.26v1.26h-1.26zM57.87 206.87h1.26v1.26h-1.26zM92.87 206.87h1.26v1.26h-1.26zM91.87 207.87h1.26v1.26h-1.26zM48.87 208.87h1.26v1.26h-1.26zM49.87 208.87h1.26v1.26h-1.26zM51.87 208.87h1.26v1.26h-1.26zM78.87 208.87h1.26v1.26h-1.26zM80.87 208.87h1.26v1.26h-1.26zM86.87 208.87h1.26v1.26h-1.26zM91.87 208.87h1.15v1.26h-1.15zM47.98 211.87h1.15v1.26h-1.15zM88.87 211.87h1.26v1.26h-1.26zM89.87 211.87h1.26v1.26h-1.26zM52.87 212.87h1.26v1.26h-1.26zM85.87 212.87h1.26v1.15h-1.26zM49.87 213.87h1.26v1.26h-1.26zM75.98 215.87h1.15v1.26h-1.15zM80.87 215.87h1.26v1.26h-1.26zM81.87 215.87h1.26v1.26h-1.26zM57.87 216.87h1.15v1.26h-1.15zM74.87 216.98h1.26v1.15h-1.26zM78.87 216.87h1.26v1.26h-1.26zM79.87 216.87h1.26v1.26h-1.26zM58.87 217.98h1.26v1.15h-1.26zM61.87 217.87h1.26v1.26h-1.26zM63.87 217.87h1.26v1.26h-1.26zM75.87 217.87h1.26v1.15h-1.26zM65.87 219.87h1.26v1.26h-1.26zM66.87 219.87h1.15v1.26h-1.15zM70.87 219.87h1.26v1.26h-1.26zM63.87 220.87h1.26v1.15h-1.26z"/>
<path fill="#00ffdb" d="M81.98 170.87h1.04v1.15h-1.04zM70.98 174.98h1.15v1.04h-1.15zM72.98 177.98h1.15v1.15h-1.15zM90.87 181.87h1.26v1.26h-1.26zM77.87 182.87h1.26v1.26h-1.26zM55.98 183.98h1.15v1.15h-1.15zM73.87 183.87h1.26v1.26h-1.26zM76.87 183.87h1.26v1.26h-1.26zM77.87 183.87h1.26v1.26h-1.26zM78.87 183.87h1.26v1.26h-1.26zM72.87 186.87h1.26v1.26h-1.26zM70.98 187.87h1.15v1.26h-1.15zM74.87 187.98h1.26v1.15h-1.26zM68.87 188.87h1.26v1.26h-1.26zM65.87 189.87h1.26v1.26h-1.26zM58.98 190.87h1.15v1.26h-1.15zM59.87 190.87h1.26v1.26h-1.26zM60.87 190.87h1.26v1.15h-1.26zM70.87 190.87h1.26v1.26h-1.26zM56.87 191.87h1.26v1.26h-1.26zM60.87 192.98h1.26v1.15h-1.26zM78.87 192.87h1.26v1.26h-1.26zM61.87 193.87h1.26v1.26h-1.26zM73.87 193.87h1.26v1.26h-1.26zM82.87 193.87h1.26v1.26h-1.26zM54.87 194.87h1.15v1.26h-1.15zM77.87 194.87h1.26v1.26h-1.26zM81.87 194.87h1.26v1.26h-1.26zM53.87 195.87h1.26v1.26h-1.26zM54.87 195.87h1.26v1.26h-1.26zM66.87 196.87h1.26v1.26h-1.26zM85.87 196.87h1.26v1.26h-1.26zM91.98 196.98h1.04v1.15h-1.04zM73.87 197.87h1.26v1.26h-1.26zM71.87 198.87h1.26v1.26h-1.26zM80.87 198.87h1.26v1.26h-1.26zM42.87 199.87h1.26v1.15h-1.26zM70.87 199.87h1.26v1.26h-1.26zM77.87 199.87h1.26v1.26h-1.26zM89.87 200.87h1.26v1.26h-1.26zM90.87 200.87h1.26v1.26h-1.26zM96.87 200.87h1.15v1.26h-1.15zM50.87 201.98h1.26v1.15h-1.26zM86.87 201.87h1.26v1.26h-1.26zM85.87 202.87h1.26v1.26h-1.26zM86.87 202.87h1.26v1.26h-1.26zM69.87 203.87h1.26v1.26h-1.26zM51.87 204.87h1.26v1.26h-1.26zM89.87 204.87h1.26v1.26h-1.26zM52.87 205.87h1.26v1.26h-1.26zM42.87 206.87h1.15v1.26h-1.15zM50.87 206.87h1.26v1.26h-1.26zM50.87 207.87h1.26v1.26h-1.26zM59.87 208.87h1.26v1.26h-1.26zM67.87 209.87h1.26v1.26h-1.26zM69.87 209.87h1.26v1.26h-1.26zM90.87 209.87h1.26v1.26h-1.26zM35.87 210.87h1.15v1.26h-1.15zM86.87 210.87h1.26v1.26h-1.26zM52.87 211.87h1.26v1.26h-1.26zM55.87 211.87h1.15v1.26h-1.15zM61.87 211.87h1.26v1.26h-1.26zM78.87 211.87h1.26v1.26h-1.26zM58.87 212.98h1.26v1.15h-1.26zM77.87 212.87h1.26v1.26h-1.26zM75.87 213.87h1.26v1.26h-1.26zM83.98 213.98h1.04v1.04h-1.04zM46.98 214.98h1.15v1.04h-1.15zM65.87 214.87h1.26v1.26h-1.26zM73.87 214.87h1.26v1.26h-1.26zM80.87 214.87h1.26v1.26h-1.26zM59.87 215.87h1.26v1.26h-1.26zM72.87 215.87h1.26v1.26h-1.26zM76.87 215.87h1.26v1.26h-1.26zM93.87 215.87h1.26v1.26h-1.26zM71.87 217.87h1.26v1.26h-1.26zM92.87 217.98h1.26v1.04h-1.26zM80.87 219.87h1.26v1.26h-1.26zM78.98 222.87h1.04v1.26h-1.04zM80.98 222.87h1.04v1.15h-1.04z"/>
<path fill="#00ffba" d="M79.87 176.87h1.26v1.26h-1.26zM74.87 180.87h1.15v1.26h-1.15zM82.87 182.87h1.26v1.15h-1.26zM66.87 183.87h1.26v1.15h-1.26zM62.87 184.87h1.15v1.26h-1.15zM68.98 184.87h1.04v1.26h-1.04zM60.87 186.87h1.26v1.26h-1.26zM64.87 186.87h1.26v1.26h-1.26zM79.98 187.87h1.15v1.26h-1.15zM72.87 188.87h1.26v1.26h-1.26zM55.98 189.87h1.15v1.26h-1.15zM75.87 189.87h1.26v1.26h-1.26zM69.87 190.87h1.26v1.26h-1.26zM72.87 190.87h1.26v1.26h-1.26zM55.98 191.87h1.15v1.26h-1.15zM64.87 191.87h1.26v1.26h-1.26zM69.87 191.87h1.26v1.26h-1.26zM78.87 191.87h1.26v1.26h-1.26zM79.87 191.87h1.26v1.26h-1.26zM90.87 191.87h1.15v1.26h-1.15zM62.87 192.87h1.15v1.26h-1.15zM59.87 193.87h1.26v1.26h-1.26zM62.87 193.87h1.26v1.26h-1.26zM67.87 193.87h1.26v1.26h-1.26zM51.98 194.87h1.15v1.26h-1.15zM76.87 194.87h1.26v1.26h-1.26zM83.87 194.87h1.26v1.26h-1.26zM84.87 196.87h1.26v1.26h-1.26zM56.87 197.98h1.26v1.15h-1.26zM84.87 198.87h1.26v1.26h-1.26zM54.87 199.87h1.26v1.26h-1.26zM84.87 199.87h1.26v1.26h-1.26zM93.87 199.87h1.26v1.26h-1.26zM52.87 201.87h1.26v1.26h-1.26zM42.87 203.87h1.26v1.26h-1.26zM71.87 203.87h1.26v1.26h-1.26zM88.87 203.87h1.26v1.26h-1.26zM95.87 203.87h1.26v1.26h-1.26zM62.87 204.87h1.26v1.26h-1.26zM56.87 205.87h1.26v1.26h-1.26zM86.87 205.87h1.26v1.26h-1.26zM87.87 205.87h1.26v1.26h-1.26zM48.98 207.87h1.15v1.26h-1.15zM92.87 207.87h1.15v1.15h-1.15zM43.87 208.98h1.26v1.15h-1.26zM87.87 208.87h1.26v1.26h-1.26zM54.87 209.87h1.26v1.26h-1.26zM79.87 209.87h1.26v1.26h-1.26zM43.87 210.87h1.15v1.26h-1.15zM47.98 210.87h1.15v1.26h-1.15zM79.87 210.87h1.26v1.26h-1.26zM92.87 210.87h1.26v1.26h-1.26zM51.98 211.87h1.15v1.26h-1.15zM79.87 211.87h1.26v1.26h-1.26zM90.87 211.87h1.26v1.26h-1.26zM80.87 212.87h1.26v1.26h-1.26zM52.98 213.87h1.04v1.26h-1.04zM72.87 213.87h1.26v1.26h-1.26zM66.87 214.87h1.26v1.26h-1.26zM61.87 215.87h1.26v1.26h-1.26zM67.87 215.87h1.26v1.26h-1.26zM85.87 215.98h1.26v1.15h-1.26zM85.98 216.87h1.15v1.26h-1.15zM45.87 217.87h1.26v1.26h-1.26zM70.87 217.87h1.26v1.26h-1.26zM54.98 218.87h1.15v1.15h-1.15zM69.87 218.87h1.26v1.26h-1.26zM59.87 220.87h1.26v1.26h-1.26z"/>
<path fill="#00ff9a" d="M75.87 182.87h1.26v1.26h-1.26zM76.87 182.87h1.26v1.26h-1.26zM78.87 182.87h1.26v1.26h-1.26zM84.87 182.87h1.26v1.26h-1.26zM79.87 183.87h1.26v1.26h-1.26zM83.98 183.87h1.15v1.26h-1.15zM84.87 183.87h1.26v1.26h-1.26zM82.87 184.98h1.26v1.15h-1.26zM82.87 185.87h1.26v1.26h-1.26zM70.87 186.87h1.26v1.26h-1.26zM76.87 186.87h1.15v1.26h-1.15zM80.87 186.98h1.26v1.15h-1.26zM67.87 187.87h1.26v1.26h-1.26zM76.87 187.87h1.26v1.26h-1.26zM58.87 188.87h1.26v1.26h-1.26zM64.87 188.87h1.26v1.26h-1.26zM88.87 188.98h1.26v1.15h-1.26zM76.87 189.87h1.26v1.26h-1.26zM81.87 189.87h1.26v1.26h-1.26zM73.87 190.87h1.26v1.26h-1.26zM70.87 192.87h1.26v1.26h-1.26zM88.87 192.87h1.26v1.15h-1.26zM55.87 193.87h1.26v1.15h-1.26zM75.87 193.87h1.26v1.26h-1.26zM76.87 193.87h1.26v1.26h-1.26zM80.87 194.87h1.26v1.26h-1.26zM52.98 196.87h1.15v1.26h-1.15zM79.87 197.87h1.26v1.26h-1.26zM82.87 198.87h1.26v1.26h-1.26zM57.87 199.87h1.26v1.26h-1.26zM83.87 199.87h1.26v1.26h-1.26zM91.87 200.87h1.26v1.26h-1.26zM45.98 202.98h1.15v1.15h-1.15zM55.87 202.87h1.26v1.26h-1.26zM56.87 202.87h1.26v1.26h-1.26zM76.87 202.87h1.26v1.26h-1.26zM47.87 203.87h1.26v1.26h-1.26zM50.87 205.87h1.26v1.26h-1.26zM84.87 205.87h1.26v1.26h-1.26zM91.87 205.87h1.26v1.26h-1.26zM83.87 206.87h1.26v1.26h-1.26zM53.87 207.87h1.26v1.26h-1.26zM66.87 207.87h1.26v1.26h-1.26zM85.87 207.87h1.26v1.26h-1.26zM89.87 207.87h1.26v1.26h-1.26zM55.87 209.87h1.26v1.26h-1.26zM58.87 209.87h1.26v1.26h-1.26zM83.87 209.87h1.26v1.26h-1.26zM52.87 210.87h1.26v1.26h-1.26zM82.87 210.87h1.26v1.26h-1.26zM90.87 210.87h1.26v1.26h-1.26zM57.98 211.87h1.04v1.26h-1.04zM66.87 211.87h1.26v1.26h-1.26zM81.87 211.87h1.26v1.26h-1.26zM87.87 211.87h1.26v1.26h-1.26zM47.87 212.87h1.26v1.26h-1.26zM48.87 212.87h1.26v1.26h-1.26zM57.98 212.87h1.15v1.26h-1.15zM65.87 212.87h1.26v1.26h-1.26zM70.87 212.87h1.26v1.26h-1.26zM71.87 212.87h1.26v1.26h-1.26zM62.87 213.87h1.26v1.26h-1.26zM77.87 213.87h1.26v1.26h-1.26zM57.87 214.87h1.26v1.26h-1.26zM68.87 214.87h1.26v1.26h-1.26zM75.87 214.87h1.26v1.26h-1.26zM56.87 215.87h1.26v1.26h-1.26zM59.98 216.87h1.15v1.26h-1.15zM64.87 216.87h1.26v1.26h-1.26zM66.87 216.87h1.26v1.26h-1.26zM67.87 217.87h1.26v1.15h-1.26zM64.87 219.87h1.26v1.26h-1.26z"/>
<path fill="#00ff7a" d="M67.98 179.87h1.15v1.15h-1.15zM74.87 184.87h1.26v1.26h-1.26zM76.87 184.87h1.26v1.26h-1.26zM44.87 187.87h1.15v1.26h-1.15zM69.87 188.98h1.26v1.15h-1.26zM70.87 189.87h1.26v1.26h-1.26zM86.87 189.87h1.26v1.26h-1.26zM44.87 191.98h1.26v1.04h-1.26zM58.87 191.87h1.26v1.26h-1.26zM56.87 193.87h1.26v1.26h-1.26zM60.87 194.87h1.26v1.26h-1.26zM69.87 194.87h1.26v1.26h-1.26zM82.87 194.87h1.26v1.26h-1.26zM85.87 194.98h1.26v1.15h-1.26zM86.87 194.87h1.26v1.26h-1.26zM91.98 194.98h1.15v1.04h-1.15zM99.87 194.98h1.26v1.15h-1.26zM55.87 195.98h1.26v1.15h-1.26zM64.87 197.87h1.26v1.26h-1.26zM84.87 197.87h1.26v1.26h-1.26zM88.87 197.87h1.26v1.26h-1.26zM85.87 198.87h1.15v1.26h-1.15zM61.87 199.87h1.26v1.26h-1.26zM85.87 199.87h1.26v1.26h-1.26zM86.87 199.98h1.26v1.15h-1.26zM52.87 200.87h1.26v1.26h-1.26zM54.87 200.87h1.26v1.26h-1.26zM61.87 200.87h1.26v1.26h-1.26zM67.87 200.87h1.26v1.26h-1.26zM85.87 200.87h1.26v1.26h-1.26zM87.87 200.87h1.26v1.26h-1.26zM88.87 200.87h1.26v1.26h-1.26zM61.87 201.87h1.26v1.26h-1.26zM68.87 201.87h1.26v1.26h-1.26zM85.87 201.87h1.26v1.26h-1.26zM68.87 202.87h1.26v1.26h-1.26zM69.87 202.87h1.26v1.26h-1.26zM56.87 203.87h1.26v1.26h-1.26zM89.87 203.87h1.26v1.26h-1.26zM90.87 204.87h1.26v1.26h-1.26zM51.87 205.87h1.26v1.26h-1.26zM52.87 206.87h1.26v1.26h-1.26zM88.87 206.87h1.26v1.26h-1.26zM51.87 207.87h1.26v1.26h-1.26zM54.87 207.87h1.26v1.26h-1.26zM57.87 208.87h1.26v1.26h-1.26zM60.87 209.87h1.26v1.26h-1.26zM88.87 209.87h1.26v1.26h-1.26zM94.87 209.87h1.15v1.26h-1.15zM57.87 210.87h1.26v1.26h-1.26zM65.87 210.87h1.26v1.26h-1.26zM70.87 210.87h1.26v1.26h-1.26zM53.87 211.87h1.26v1.26h-1.26zM62.87 211.87h1.26v1.26h-1.26zM65.87 211.87h1.26v1.26h-1.26zM85.87 211.87h1.26v1.26h-1.26zM76.87 212.87h1.26v1.26h-1.26zM63.87 214.87h1.26v1.26h-1.26zM77.87 214.87h1.26v1.26h-1.26zM79.87 214.87h1.26v1.26h-1.26zM60.87 215.87h1.26v1.26h-1.26zM62.87 215.87h1.26v1.26h-1.26zM71.87 222.87h1.15v1.15h-1.15z"/>
<path fill="#00ff59" d="M66.87 182.87h1.26v1.26h-1.26zM58.87 185.87h1.26v1.26h-1.26zM66.87 190.87h1.26v1.26h-1.26zM68.87 190.87h1.26v1.26h-1.26zM67.87 191.87h1.26v1.26h-1.26zM68.87 191.87h1.26v1.26h-1.26zM74.87 191.87h1.26v1.26h-1.26zM77.87 191.87h1.26v1.26h-1.26zM75.87 192.87h1.26v1.26h-1.26zM81.87 192.87h1.26v1.26h-1.26zM58.87 193.87h1.26v1.26h-1.26zM66.87 193.98h1.26v1.15h-1.26zM62.87 194.87h1.26v1.26h-1.26zM84.87 194.87h1.26v1.26h-1.26zM76.87 195.87h1.26v1.26h-1.26zM84.87 195.87h1.26v1.26h-1.26zM83.87 196.87h1.26v1.26h-1.26zM55.87 197.87h1.26v1.26h-1.26zM79.87 198.87h1.26v1.26h-1.26zM87.87 199.87h1.26v1.26h-1.26zM70.87 200.87h1.26v1.26h-1.26zM77.87 200.87h1.26v1.26h-1.26zM43.87 202.87h1.15v1.26h-1.15zM81.87 202.87h1.26v1.26h-1.26zM84.87 202.87h1.26v1.26h-1.26zM84.87 203.87h1.26v1.26h-1.26zM86.87 203.87h1.26v1.26h-1.26zM84.87 204.87h1.26v1.26h-1.26zM78.87 205.87h1.26v1.26h-1.26zM85.87 205.87h1.26v1.26h-1.26zM46.87 206.87h1.26v1.26h-1.26zM84.87 206.87h1.26v1.26h-1.26zM87.87 206.87h1.26v1.26h-1.26zM76.87 207.87h1.26v1.26h-1.26zM83.87 207.87h1.26v1.26h-1.26zM84.87 207.87h1.26v1.26h-1.26zM69.87 208.87h1.26v1.26h-1.26zM79.87 208.87h1.26v1.26h-1.26zM83.87 208.87h1.26v1.26h-1.26zM44.87 209.87h1.26v1.15h-1.26zM46.87 209.87h1.26v1.15h-1.26zM70.87 209.87h1.26v1.26h-1.26zM54.87 210.87h1.26v1.26h-1.26zM58.87 210.87h1.26v1.15h-1.26zM77.87 210.87h1.26v1.26h-1.26zM83.87 210.87h1.26v1.26h-1.26zM82.87 211.87h1.26v1.26h-1.26zM63.87 213.87h1.26v1.26h-1.26zM71.87 213.87h1.26v1.26h-1.26zM74.87 213.87h1.26v1.26h-1.26zM47.87 214.87h1.26v1.15h-1.26zM60.87 214.87h1.26v1.26h-1.26zM61.87 214.87h1.26v1.26h-1.26zM62.87 214.87h1.26v1.26h-1.26zM68.87 216.87h1.26v1.26h-1.26zM55.87 217.98h1.26v1.15h-1.26zM66.98 221.87h1.15v1.15h-1.15z"/>
<path fill="#00ff39" d="M73.87 184.87h1.26v1.15h-1.26zM75.87 185.87h1.26v1.26h-1.26zM76.87 185.87h1.26v1.26h-1.26zM81.98 185.87h1.15v1.26h-1.15zM68.87 186.87h1.26v1.26h-1.26zM73.87 188.87h1.26v1.26h-1.26zM83.87 188.87h1.26v1.26h-1.26zM60.87 189.87h1.26v1.26h-1.26zM86.87 190.87h1.26v1.26h-1.26zM68.87 192.87h1.26v1.26h-1.26zM80.87 192.87h1.26v1.26h-1.26zM64.87 193.87h1.26v1.26h-1.26zM84.87 193.87h1.15v1.26h-1.15zM86.98 193.87h1.15v1.26h-1.15zM64.87 194.87h1.26v1.26h-1.26zM65.87 194.87h1.26v1.26h-1.26zM68.87 194.87h1.26v1.26h-1.26zM74.87 194.87h1.26v1.26h-1.26zM62.87 195.87h1.26v1.26h-1.26zM73.87 195.87h1.26v1.26h-1.26zM60.87 196.87h1.26v1.26h-1.26zM72.87 196.87h1.26v1.26h-1.26zM74.87 196.87h1.26v1.26h-1.26zM76.87 196.87h1.26v1.26h-1.26zM77.87 196.87h1.26v1.26h-1.26zM80.87 196.87h1.26v1.26h-1.26zM60.87 197.87h1.26v1.26h-1.26zM77.87 197.87h1.26v1.26h-1.26zM50.87 198.87h1.15v1.26h-1.15zM57.87 198.87h1.26v1.26h-1.26zM61.87 198.87h1.26v1.26h-1.26zM72.87 198.87h1.26v1.26h-1.26zM81.87 198.87h1.26v1.26h-1.26zM72.87 200.87h1.26v1.26h-1.26zM76.87 200.87h1.26v1.26h-1.26zM83.87 200.87h1.26v1.26h-1.26zM57.87 201.87h1.26v1.26h-1.26zM46.87 202.87h1.26v1.26h-1.26zM54.87 202.87h1.26v1.26h-1.26zM71.87 202.87h1.26v1.26h-1.26zM54.87 203.87h1.26v1.26h-1.26zM57.87 203.87h1.26v1.26h-1.26zM79.87 204.87h1.26v1.26h-1.26zM65.87 206.87h1.26v1.26h-1.26zM86.87 206.87h1.26v1.26h-1.26zM58.87 207.87h1.26v1.26h-1.26zM80.87 207.87h1.26v1.26h-1.26zM90.87 208.87h1.26v1.26h-1.26zM53.87 209.87h1.26v1.26h-1.26zM64.87 209.87h1.26v1.26h-1.26zM75.87 209.87h1.26v1.26h-1.26zM80.87 209.87h1.26v1.26h-1.26zM82.87 209.87h1.26v1.26h-1.26zM75.87 210.87h1.26v1.26h-1.26zM48.87 211.87h1.26v1.26h-1.26zM75.87 211.87h1.26v1.26h-1.26zM67.87 212.87h1.26v1.26h-1.26zM72.87 212.87h1.26v1.26h-1.26zM84.98 212.87h1.15v1.15h-1.15zM60.87 213.87h1.26v1.26h-1.26zM61.87 213.87h1.26v1.26h-1.26zM69.87 213.87h1.26v1.26h-1.26zM71.87 214.87h1.26v1.26h-1.26zM61.87 216.87h1.26v1.26h-1.26zM69.87 216.87h1.26v1.26h-1.26zM70.87 216.87h1.26v1.26h-1.26zM76.87 216.87h1.26v1.26h-1.26zM59.87 217.87h1.26v1.26h-1.26zM64.87 217.87h1.15v1.26h-1.15zM66.87 220.87h1.26v1.26h-1.26z"/>
<path fill="#00ff19" d="M73.87 187.87h1.26v1.26h-1.26zM75.87 188.87h1.26v1.26h-1.26zM66.87 189.87h1.26v1.26h-1.26zM68.87 189.87h1.26v1.26h-1.26zM61.87 190.87h1.26v1.26h-1.26zM62.87 190.87h1.26v1.26h-1.26zM64.87 190.87h1.26v1.26h-1.26zM77.87 190.87h1.26v1.26h-1.26zM81.87 190.87h1.26v1.26h-1.26zM75.87 191.87h1.26v1.26h-1.26zM56.87 195.87h1.26v1.15h-1.26zM67.87 195.87h1.26v1.26h-1.26zM64.87 196.87h1.26v1.26h-1.26zM79.87 196.87h1.26v1.26h-1.26zM58.87 197.87h1.26v1.26h-1.26zM85.87 197.87h1.15v1.26h-1.15zM60.87 198.87h1.26v1.26h-1.26zM53.87 199.87h1.26v1.26h-1.26zM56.87 199.87h1.26v1.26h-1.26zM58.87 199.87h1.26v1.26h-1.26zM68.87 199.87h1.26v1.26h-1.26zM88.87 199.87h1.26v1.26h-1.26zM63.87 200.87h1.26v1.26h-1.26zM68.87 200.87h1.26v1.26h-1.26zM56.87 201.87h1.26v1.26h-1.26zM88.87 201.87h1.26v1.26h-1.26zM89.87 201.87h1.26v1.26h-1.26zM58.87 202.87h1.26v1.26h-1.26zM64.87 202.87h1.26v1.26h-1.26zM82.87 202.87h1.26v1.26h-1.26zM82.87 203.87h1.26v1.26h-1.26zM58.87 204.87h1.26v1.26h-1.26zM86.87 204.87h1.26v1.26h-1.26zM67.87 205.87h1.26v1.26h-1.26zM79.87 207.87h1.26v1.26h-1.26zM74.87 208.87h1.26v1.26h-1.26zM75.87 208.87h1.26v1.26h-1.26zM76.87 208.87h1.26v1.26h-1.26zM88.87 208.87h1.26v1.26h-1.26zM61.87 209.87h1.26v1.26h-1.26zM68.87 209.87h1.26v1.26h-1.26zM73.87 209.87h1.26v1.26h-1.26zM89.87 209.87h1.26v1.26h-1.26zM55.87 210.87h1.26v1.26h-1.26zM68.87 210.87h1.26v1.26h-1.26zM71.87 210.87h1.26v1.26h-1.26zM72.87 211.87h1.26v1.26h-1.26zM79.87 212.87h1.26v1.26h-1.26zM81.87 212.87h1.26v1.26h-1.26zM58.87 213.87h1.26v1.26h-1.26zM80.87 213.87h1.26v1.26h-1.26zM64.87 214.87h1.26v1.26h-1.26zM69.87 214.87h1.26v1.26h-1.26zM77.87 215.87h1.26v1.26h-1.26zM78.87 215.87h1.26v1.26h-1.26zM71.87 216.87h1.26v1.26h-1.26zM68.87 217.87h1.26v1.26h-1.26zM70.87 218.87h1.26v1.26h-1.26z"/>
<path fill="#08ff00" d="M71.87 189.87h1.26v1.26h-1.26zM71.87 191.87h1.26v1.26h-1.26zM80.87 191.87h1.26v1.26h-1.26zM57.87 192.87h1.26v1.26h-1.26zM64.98 192.87h1.15v1.26h-1.15zM65.87 192.87h1.15v1.26h-1.15zM76.87 192.87h1.26v1.26h-1.26zM54.87 196.87h1.26v1.26h-1.26zM55.87 196.87h1.15v1.26h-1.15zM57.98 196.87h1.15v1.26h-1.15zM58.87 196.87h1.26v1.26h-1.26zM68.87 196.87h1.26v1.26h-1.26zM57.87 197.87h1.26v1.26h-1.26zM66.87 197.87h1.26v1.26h-1.26zM67.87 197.87h1.26v1.26h-1.26zM54.87 198.87h1.26v1.26h-1.26zM55.87 198.87h1.26v1.26h-1.26zM65.87 198.87h1.26v1.26h-1.26zM68.87 198.87h1.26v1.26h-1.26zM83.87 198.87h1.26v1.26h-1.26zM59.87 199.87h1.26v1.26h-1.26zM65.87 199.87h1.26v1.26h-1.26zM74.87 199.87h1.26v1.26h-1.26zM81.87 199.87h1.26v1.26h-1.26zM60.87 201.87h1.26v1.26h-1.26zM66.87 201.87h1.26v1.26h-1.26zM52.87 202.87h1.26v1.26h-1.26zM61.87 202.87h1.26v1.26h-1.26zM64.87 203.87h1.26v1.26h-1.26zM67.87 203.87h1.26v1.26h-1.26zM76.87 203.87h1.26v1.26h-1.26zM81.87 203.87h1.26v1.26h-1.26zM61.87 204.87h1.26v1.26h-1.26zM69.87 204.87h1.26v1.26h-1.26zM71.87 204.87h1.26v1.26h-1.26zM77.87 204.87h1.26v1.26h-1.26zM59.87 206.87h1.26v1.26h-1.26zM75.87 206.87h1.26v1.26h-1.26zM85.87 206.87h1.26v1.26h-1.26zM60.87 207.87h1.26v1.26h-1.26zM77.87 207.87h1.26v1.26h-1.26zM67.87 208.87h1.26v1.26h-1.26zM73.87 208.87h1.26v1.26h-1.26zM82.87 208.87h1.26v1.26h-1.26zM85.87 208.87h1.26v1.26h-1.26zM57.87 209.87h1.26v1.26h-1.26zM65.87 209.87h1.26v1.26h-1.26zM59.98 211.87h1.15v1.26h-1.15zM80.87 211.87h1.26v1.26h-1.26zM66.87 212.87h1.26v1.26h-1.26zM66.87 213.87h1.26v1.26h-1.26zM73.87 213.87h1.26v1.26h-1.26zM67.87 214.87h1.26v1.26h-1.26zM71.87 215.87h1.26v1.26h-1.26zM69.87 217.87h1.26v1.26h-1.26zM64.87 220.87h1.26v1.26h-1.26z"/>
<path fill="#28ff00" d="M71.87 186.87h1.26v1.26h-1.26zM73.87 186.98h1.15v1.15h-1.15zM78.87 190.87h1.26v1.26h-1.26zM79.87 192.87h1.26v1.26h-1.26zM80.87 193.87h1.26v1.26h-1.26zM70.87 194.87h1.26v1.26h-1.26zM73.87 194.87h1.26v1.26h-1.26zM63.87 195.87h1.26v1.26h-1.26zM62.87 196.87h1.26v1.26h-1.26zM81.87 196.87h1.26v1.26h-1.26zM87.87 196.87h1.26v1.26h-1.26zM50.87 197.98h1.26v1.15h-1.26zM61.87 197.87h1.26v1.26h-1.26zM71.87 197.87h1.26v1.26h-1.26zM62.87 198.87h1.26v1.26h-1.26zM77.87 198.87h1.26v1.26h-1.26zM71.87 199.87h1.26v1.26h-1.26zM78.87 199.87h1.26v1.26h-1.26zM74.87 200.87h1.26v1.26h-1.26zM49.87 201.87h1.26v1.26h-1.26zM50.87 202.87h1.26v1.15h-1.26zM57.87 202.87h1.26v1.26h-1.26zM56.87 204.87h1.26v1.26h-1.26zM73.87 204.87h1.26v1.26h-1.26zM69.87 205.87h1.26v1.26h-1.26zM72.87 205.87h1.26v1.26h-1.26zM58.87 206.87h1.26v1.26h-1.26zM63.87 206.87h1.26v1.26h-1.26zM58.87 208.87h1.26v1.26h-1.26zM56.87 209.87h1.26v1.26h-1.26zM84.87 209.87h1.26v1.26h-1.26zM59.87 210.87h1.26v1.26h-1.26zM66.87 210.87h1.26v1.26h-1.26zM80.87 210.87h1.26v1.26h-1.26zM84.87 210.87h1.26v1.26h-1.26zM68.87 211.87h1.26v1.26h-1.26zM69.87 211.87h1.26v1.26h-1.26zM70.87 211.87h1.26v1.26h-1.26zM63.87 212.87h1.26v1.26h-1.26zM69.87 212.87h1.26v1.26h-1.26zM73.87 212.87h1.26v1.26h-1.26zM68.87 215.87h1.26v1.26h-1.26zM69.87 219.87h1.26v1.26h-1.26z"/>
<path fill="#48ff00" d="M70.87 188.87h1.26v1.26h-1.26zM65.87 190.87h1.26v1.26h-1.26zM62.87 191.87h1.26v1.26h-1.26zM81.87 191.87h1.26v1.26h-1.26zM60.87 193.87h1.26v1.26h-1.26zM71.87 193.87h1.26v1.26h-1.26zM78.87 193.87h1.26v1.26h-1.26zM56.98 194.87h1.15v1.26h-1.15zM71.87 194.87h1.26v1.26h-1.26zM70.87 195.87h1.26v1.26h-1.26zM79.87 195.87h1.26v1.26h-1.26zM85.87 195.87h1.26v1.26h-1.26zM75.87 198.87h1.26v1.26h-1.26zM87.98 198.87h1.15v1.26h-1.15zM64.87 199.87h1.26v1.26h-1.26zM69.87 199.87h1.26v1.26h-1.26zM79.87 199.87h1.26v1.26h-1.26zM82.87 200.87h1.26v1.26h-1.26zM64.87 201.87h1.26v1.26h-1.26zM65.87 201.87h1.26v1.26h-1.26zM80.87 201.87h1.26v1.26h-1.26zM63.87 202.87h1.26v1.26h-1.26zM74.87 202.87h1.26v1.26h-1.26zM52.87 203.87h1.26v1.26h-1.26zM58.87 203.87h1.26v1.26h-1.26zM62.87 203.87h1.26v1.26h-1.26zM88.87 204.87h1.26v1.26h-1.26zM51.87 206.87h1.26v1.26h-1.26zM61.87 208.87h1.26v1.26h-1.26zM61.87 210.87h1.26v1.26h-1.26zM74.87 210.87h1.26v1.26h-1.26zM78.87 210.87h1.26v1.26h-1.26zM88.87 210.87h1.26v1.26h-1.26zM73.87 211.87h1.26v1.26h-1.26zM83.87 211.87h1.26v1.15h-1.26zM59.87 213.87h1.26v1.26h-1.26zM70.87 214.87h1.26v1.26h-1.26zM52.87 218.87h1.15v1.15h-1.15z"/>
<path fill="#69ff00" d="M74.87 188.87h1.26v1.26h-1.26zM72.87 189.87h1.26v1.26h-1.26zM74.87 189.87h1.26v1.26h-1.26zM67.87 190.87h1.26v1.26h-1.26zM58.87 192.87h1.26v1.26h-1.26zM68.87 193.87h1.26v1.26h-1.26zM57.87 194.87h1.26v1.26h-1.26zM58.87 194.87h1.26v1.26h-1.26zM67.87 194.87h1.26v1.26h-1.26zM75.87 194.87h1.26v1.26h-1.26zM61.87 195.87h1.26v1.26h-1.26zM82.87 196.87h1.26v1.26h-1.26zM54.87 197.87h1.26v1.26h-1.26zM68.87 197.87h1.26v1.26h-1.26zM70.87 197.87h1.26v1.26h-1.26zM69.87 198.87h1.26v1.26h-1.26zM79.87 200.87h1.26v1.26h-1.26zM80.87 200.87h1.26v1.26h-1.26zM53.87 201.87h1.26v1.26h-1.26zM54.87 201.87h1.26v1.26h-1.26zM59.87 202.87h1.26v1.26h-1.26zM65.87 202.87h1.26v1.26h-1.26zM65.87 203.87h1.26v1.26h-1.26zM59.87 204.87h1.26v1.26h-1.26zM63.87 204.87h1.26v1.26h-1.26zM68.87 204.87h1.26v1.26h-1.26zM74.87 204.87h1.26v1.26h-1.26zM75.87 204.87h1.26v1.26h-1.26zM78.87 204.87h1.26v1.26h-1.26zM80.87 204.87h1.26v1.26h-1.26zM61.87 205.87h1.26v1.26h-1.26zM75.87 205.87h1.26v1.26h-1.26zM62.87 206.87h1.26v1.26h-1.26zM62.87 207.87h1.26v1.26h-1.26zM87.87 207.87h1.26v1.26h-1.26zM62.87 208.87h1.26v1.26h-1.26zM63.87 211.87h1.26v1.26h-1.26zM55.87 215.87h1.26v1.15h-1.26z"/>
<path fill="#89ff00" d="M88.87 189.87h1.26v1.26h-1.26zM77.87 192.87h1.26v1.26h-1.26zM72.87 193.87h1.26v1.26h-1.26zM80.87 195.87h1.26v1.26h-1.26zM61.87 196.87h1.26v1.26h-1.26zM63.87 196.87h1.26v1.26h-1.26zM67.87 196.87h1.26v1.26h-1.26zM73.87 196.87h1.26v1.26h-1.26zM75.87 196.87h1.26v1.26h-1.26zM59.87 197.87h1.26v1.26h-1.26zM74.87 197.87h1.26v1.26h-1.26zM80.87 197.87h1.26v1.26h-1.26zM81.87 197.87h1.26v1.26h-1.26zM82.87 197.87h1.26v1.26h-1.26zM73.87 198.87h1.26v1.26h-1.26zM51.87 199.98h1.26v1.15h-1.26zM62.87 201.87h1.26v1.26h-1.26zM83.87 201.87h1.26v1.26h-1.26zM83.87 202.87h1.26v1.26h-1.26zM70.87 203.87h1.26v1.26h-1.26zM83.87 203.87h1.26v1.26h-1.26zM66.87 205.87h1.26v1.26h-1.26zM71.87 205.87h1.26v1.26h-1.26zM82.87 206.87h1.26v1.26h-1.26zM56.87 207.87h1.26v1.26h-1.26zM59.87 207.87h1.26v1.26h-1.26zM59.87 209.87h1.26v1.26h-1.26zM77.87 209.87h1.26v1.26h-1.26zM76.87 210.87h1.26v1.26h-1.26zM81.87 210.87h1.26v1.26h-1.26zM71.87 211.87h1.26v1.26h-1.26zM61.87 212.87h1.26v1.26h-1.26zM64.87 212.87h1.26v1.26h-1.26zM74.87 212.87h1.26v1.26h-1.26zM67.87 213.87h1.26v1.26h-1.26zM68.87 213.87h1.26v1.26h-1.26zM70.87 213.87h1.26v1.26h-1.26z"/>
<path fill="#a9ff00" d="M57.87 191.98h1.26v1.15h-1.26zM72.87 194.87h1.26v1.26h-1.26zM78.87 194.87h1.26v1.26h-1.26zM59.87 195.87h1.26v1.26h-1.26zM68.87 195.87h1.26v1.26h-1.26zM71.87 195.87h1.26v1.26h-1.26zM70.87 196.87h1.26v1.26h-1.26zM75.87 197.87h1.26v1.26h-1.26zM87.98 197.87h1.15v1.26h-1.15zM59.87 198.87h1.26v1.26h-1.26zM76.87 198.87h1.26v1.26h-1.26zM72.87 199.87h1.26v1.26h-1.26zM73.87 199.87h1.26v1.26h-1.26zM64.87 200.87h1.26v1.26h-1.26zM65.87 200.87h1.26v1.26h-1.26zM66.87 200.87h1.26v1.26h-1.26zM71.87 200.87h1.26v1.26h-1.26zM58.87 201.87h1.26v1.26h-1.26zM67.87 201.87h1.26v1.26h-1.26zM82.87 201.87h1.26v1.26h-1.26zM62.87 202.87h1.26v1.26h-1.26zM67.87 202.87h1.26v1.26h-1.26zM63.87 203.87h1.26v1.26h-1.26zM73.87 203.87h1.26v1.26h-1.26zM78.87 203.87h1.26v1.26h-1.26zM87.87 203.87h1.26v1.26h-1.26zM70.87 204.87h1.26v1.26h-1.26zM82.87 204.87h1.26v1.26h-1.26zM81.87 206.87h1.26v1.26h-1.26zM70.87 207.87h1.26v1.26h-1.26zM78.87 207.87h1.26v1.26h-1.26zM60.87 208.87h1.26v1.26h-1.26zM66.87 209.87h1.26v1.26h-1.26zM62.87 210.87h1.26v1.26h-1.26zM72.87 210.87h1.26v1.26h-1.26zM60.87 211.87h1.26v1.26h-1.26zM64.87 211.87h1.26v1.26h-1.26z"/>
<path fill="#caff00" d="M73.87 189.87h1.26v1.26h-1.26zM73.87 191.87h1.26v1.26h-1.26zM66.87 195.87h1.26v1.26h-1.26zM83.87 195.87h1.26v1.26h-1.26zM69.87 196.87h1.26v1.26h-1.26zM67.87 199.87h1.26v1.26h-1.26zM59.87 201.87h1.26v1.26h-1.26zM71.87 201.87h1.26v1.26h-1.26zM77.87 201.87h1.26v1.26h-1.26zM53.87 202.87h1.26v1.26h-1.26zM75.87 203.87h1.26v1.26h-1.26zM55.87 204.87h1.26v1.26h-1.26zM72.87 204.87h1.26v1.26h-1.26zM81.87 204.87h1.26v1.26h-1.26zM59.87 205.87h1.26v1.26h-1.26zM60.87 205.87h1.26v1.26h-1.26zM63.87 205.87h1.26v1.26h-1.26zM77.87 205.87h1.26v1.26h-1.26zM79.87 205.87h1.26v1.26h-1.26zM80.87 205.87h1.26v1.26h-1.26zM76.87 206.87h1.26v1.26h-1.26zM79.87 206.87h1.26v1.26h-1.26zM55.87 207.87h1.26v1.26h-1.26zM63.87 207.87h1.26v1.26h-1.26zM63.87 208.87h1.26v1.26h-1.26zM65.87 208.87h1.26v1.26h-1.26zM81.87 208.87h1.26v1.26h-1.26zM62.87 209.87h1.26v1.26h-1.26zM72.87 209.87h1.26v1.26h-1.26zM85.87 210.87h1.26v1.26h-1.26z"/>
<path fill="#eaff00" d="M71.87 192.87h1.26v1.26h-1.26zM72.87 192.87h1.26v1.26h-1.26zM72.87 195.87h1.26v1.26h-1.26zM78.87 195.87h1.26v1.26h-1.26zM65.87 196.87h1.26v1.26h-1.26zM72.87 197.87h1.26v1.26h-1.26zM76.87 197.87h1.26v1.26h-1.26zM64.87 198.87h1.26v1.26h-1.26zM80.87 199.87h1.26v1.26h-1.26zM78.87 201.87h1.26v1.26h-1.26zM68.87 203.87h1.26v1.26h-1.26zM80.87 203.87h1.26v1.26h-1.26zM91.87 203.87h1.26v1.26h-1.26zM57.87 204.87h1.26v1.26h-1.26zM66.87 204.87h1.26v1.26h-1.26zM58.87 205.87h1.26v1.26h-1.26zM65.87 205.87h1.26v1.26h-1.26zM74.87 206.87h1.26v1.26h-1.26zM57.87 207.87h1.26v1.26h-1.26zM55.87 208.87h1.26v1.26h-1.26zM56.87 208.87h1.26v1.26h-1.26zM72.87 208.87h1.26v1.26h-1.26zM77.87 208.87h1.26v1.26h-1.26zM81.87 209.87h1.26v1.26h-1.26zM67.87 210.87h1.26v1.26h-1.26zM69.87 210.87h1.26v1.26h-1.26zM67.87 211.87h1.26v1.26h-1.26zM60.87 212.87h1.26v1.26h-1.26zM62.87 212.87h1.26v1.26h-1.26z"/>
<path fill="#fff300" d="M74.87 183.87h1.26v1.26h-1.26zM63.87 191.87h1.26v1.15h-1.26zM79.87 193.87h1.26v1.26h-1.26zM70.87 198.87h1.26v1.26h-1.26zM76.87 199.87h1.26v1.26h-1.26zM60.87 200.87h1.26v1.26h-1.26zM63.87 201.87h1.26v1.26h-1.26zM70.87 202.87h1.26v1.26h-1.26zM69.87 206.87h1.26v1.26h-1.26z"/>
<path fill="#ffd300" d="M63.87 193.98h1.26v1.15h-1.26zM65.87 193.87h1.26v1.26h-1.26zM67.87 198.87h1.26v1.26h-1.26zM81.87 201.87h1.26v1.26h-1.26zM75.87 202.87h1.26v1.26h-1.26zM77.87 202.87h1.26v1.26h-1.26zM59.87 203.87h1.26v1.26h-1.26zM61.87 203.87h1.26v1.26h-1.26zM73.87 205.87h1.26v1.26h-1.26zM74.87 205.87h1.26v1.26h-1.26zM81.87 205.87h1.26v1.26h-1.26zM61.87 206.87h1.26v1.26h-1.26zM66.87 206.87h1.26v1.26h-1.26zM65.87 207.87h1.26v1.26h-1.26zM86.87 207.87h1.26v1.26h-1.26zM63.87 209.87h1.26v1.26h-1.26zM71.87 209.87h1.26v1.26h-1.26zM85.87 209.87h1.26v1.26h-1.26z"/>
<path fill="#ffb300" d="M78.87 196.87h1.26v1.26h-1.26zM62.87 199.87h1.26v1.26h-1.26zM63.87 199.87h1.26v1.26h-1.26zM82.87 199.87h1.26v1.26h-1.26zM75.87 201.87h1.26v1.26h-1.26zM64.87 205.87h1.26v1.26h-1.26zM83.87 205.87h1.26v1.26h-1.26zM73.87 206.87h1.26v1.26h-1.26zM64.87 207.87h1.26v1.26h-1.26zM73.87 207.87h1.26v1.26h-1.26zM74.87 211.87h1.26v1.26h-1.26zM69.87 215.87h1.26v1.26h-1.26zM70.87 215.87h1.26v1.26h-1.26z"/>
<path fill="#ff9200" d="M79.87 194.87h1.26v1.26h-1.26zM69.87 195.87h1.26v1.26h-1.26zM60.87 199.87h1.26v1.26h-1.26zM58.87 200.87h1.26v1.26h-1.26zM69.87 200.87h1.26v1.26h-1.26zM78.87 200.87h1.26v1.26h-1.26zM69.87 201.87h1.26v1.26h-1.26zM73.87 201.87h1.26v1.26h-1.26zM66.87 202.87h1.26v1.26h-1.26zM62.87 205.87h1.26v1.26h-1.26zM82.87 205.87h1.26v1.26h-1.26zM71.87 206.87h1.26v1.26h-1.26zM68.87 207.87h1.26v1.26h-1.26zM75.87 207.87h1.26v1.26h-1.26zM66.87 208.87h1.26v1.26h-1.26zM68.87 208.87h1.26v1.26h-1.26zM54.87 211.87h1.26v1.26h-1.26z"/>
<path fill="#ff7200" d="M74.87 193.87h1.26v1.26h-1.26zM77.87 193.87h1.26v1.26h-1.26zM73.87 200.87h1.26v1.26h-1.26zM79.87 202.87h1.26v1.26h-1.26zM60.87 203.87h1.26v1.26h-1.26zM66.87 203.87h1.26v1.26h-1.26zM77.87 203.87h1.26v1.26h-1.26zM60.87 204.87h1.26v1.26h-1.26zM64.87 204.87h1.26v1.26h-1.26zM65.87 204.87h1.26v1.26h-1.26zM76.87 204.87h1.26v1.26h-1.26zM77.87 206.87h1.26v1.26h-1.26zM71.87 207.87h1.26v1.26h-1.26zM74.87 207.87h1.26v1.26h-1.26zM64.87 208.87h1.26v1.26h-1.26z"/>
<path fill="#ff5200" d="M64.87 195.87h1.26v1.26h-1.26zM58.87 198.87h1.26v1.26h-1.26zM72.87 201.87h1.26v1.26h-1.26zM69.87 207.87h1.26v1.26h-1.26zM76.87 209.87h1.26v1.26h-1.26zM60.87 210.87h1.26v1.26h-1.26z"/>
<path fill="#ff3100" d="M65.87 197.87h1.26v1.26h-1.26zM75.87 199.87h1.26v1.26h-1.26zM81.87 200.87h1.26v1.26h-1.26zM70.87 201.87h1.26v1.26h-1.26zM60.87 202.87h1.26v1.26h-1.26zM78.87 206.87h1.26v1.26h-1.26zM80.87 206.87h1.26v1.26h-1.26zM61.87 207.87h1.26v1.26h-1.26zM73.87 210.87h1.26v1.26h-1.26z"/>
<path fill="#ff1100" d="M69.87 192.87h1.26v1.26h-1.26zM69.87 197.87h1.26v1.26h-1.26zM66.87 198.87h1.26v1.26h-1.26zM66.87 199.87h1.26v1.26h-1.26zM59.87 200.87h1.26v1.26h-1.26zM75.87 200.87h1.26v1.26h-1.26zM74.87 201.87h1.26v1.26h-1.26zM76.87 201.87h1.26v1.26h-1.26zM79.87 201.87h1.26v1.26h-1.26zM72.87 202.87h1.26v1.26h-1.26zM73.87 202.87h1.26v1.26h-1.26zM78.87 202.87h1.26v1.26h-1.26zM80.87 202.87h1.26v1.26h-1.26zM55.87 203.87h1.26v1.26h-1.26zM72.87 203.87h1.26v1.26h-1.26zM74.87 203.87h1.26v1.26h-1.26zM79.87 203.87h1.26v1.26h-1.26zM67.87 204.87h1.26v1.26h-1.26zM68.87 205.87h1.26v1.26h-1.26zM70.87 205.87h1.26v1.26h-1.26zM76.87 205.87h1.26v1.26h-1.26zM60.87 206.87h1.26v1.26h-1.26zM64.87 206.87h1.26v1.26h-1.26zM67.87 206.87h1.26v1.26h-1.26zM68.87 206.87h1.26v1.26h-1.26zM70.87 206.87h1.26v1.26h-1.26zM72.87 206.87h1.26v1.26h-1.26zM67.87 207.87h1.26v1.26h-1.26zM72.87 207.87h1.26v1.26h-1.26zM70.87 208.87h1.26v1.26h-1.26zM71.87 208.87h1.26v1.26h-1.26zM63.87 210.87h1.26v1.26h-1.26zM64.87 210.87h1.26v1.26h-1.26z"/>
</g>
</g>
<g id="dotsB" shape-rendering="geometricPrecision" transform="translate(915.3 -2.4)">
<g transform="translate(239.90 360.80) scale(2.5641)" stroke="none">
<path fill="#0000ff" d="M133.98 160.98h1.04v1.04h-1.04zM44.98 161.98h1.04v1.04h-1.04zM58.98 161.98h1.04v1.04h-1.04zM136.98 161.98h1.04v1.04h-1.04zM140.87 161.98h1.26v1.04h-1.26zM141.87 161.98h1.15v1.04h-1.15zM147.98 161.98h1.15v1.15h-1.15zM149.87 161.98h1.26v1.04h-1.26zM150.87 161.98h1.15v1.04h-1.15zM137.98 162.98h1.04v1.04h-1.04zM139.98 162.87h1.04v1.15h-1.04zM147.98 162.87h1.04v1.26h-1.04zM157.98 162.98h1.04v1.04h-1.04zM51.98 163.98h1.04v1.04h-1.04zM60.98 163.98h1.04v1.04h-1.04zM66.98 163.98h1.04v1.04h-1.04zM73.98 163.98h1.04v1.04h-1.04zM75.98 163.98h1.04v1.04h-1.04zM78.98 163.98h1.04v1.04h-1.04zM81.98 163.98h1.04v1.04h-1.04zM86.98 163.98h1.15v1.04h-1.15zM87.87 163.98h1.15v1.04h-1.15zM91.98 163.98h1.04v1.04h-1.04zM140.98 163.98h1.15v1.04h-1.15zM141.87 163.98h1.15v1.04h-1.15zM144.98 163.98h1.04v1.15h-1.04zM152.98 163.98h1.15v1.04h-1.15zM153.87 163.98h1.15v1.04h-1.15zM48.98 164.98h1.04v1.04h-1.04zM55.98 164.98h1.04v1.04h-1.04zM68.98 164.98h1.04v1.04h-1.04zM120.98 164.98h1.04v1.04h-1.04zM133.98 164.98h1.04v1.04h-1.04zM136.98 164.98h1.04v1.15h-1.04zM139.98 164.98h1.04v1.04h-1.04zM144.87 164.87h1.15v1.26h-1.15zM146.98 164.98h1.04v1.15h-1.04zM148.98 164.98h1.15v1.04h-1.15zM149.87 164.98h1.15v1.15h-1.15zM57.98 165.98h1.15v1.04h-1.15zM58.87 165.98h1.26v1.04h-1.26zM59.87 165.98h1.15v1.04h-1.15zM69.98 165.98h1.04v1.04h-1.04zM117.98 165.98h1.04v1.04h-1.04zM138.98 165.98h1.04v1.04h-1.04zM141.98 165.98h1.04v1.04h-1.04zM144.98 165.87h1.04v1.15h-1.04zM147.87 165.98h1.15v1.15h-1.15zM149.98 165.87h1.15v1.15h-1.15zM150.87 165.98h1.15v1.04h-1.15zM155.98 165.98h1.04v1.04h-1.04zM49.98 166.98h1.04v1.04h-1.04zM55.98 166.98h1.04v1.04h-1.04zM62.98 166.98h1.04v1.15h-1.04zM67.98 166.98h1.15v1.04h-1.15zM68.87 166.98h1.15v1.04h-1.15zM70.98 166.98h1.04v1.04h-1.04zM73.98 166.98h1.15v1.15h-1.15zM74.87 166.98h1.15v1.04h-1.15zM89.98 166.98h1.04v1.04h-1.04zM91.98 166.98h1.15v1.04h-1.15zM92.87 166.98h1.15v1.15h-1.15zM103.98 166.98h1.04v1.15h-1.04zM125.98 166.98h1.04v1.04h-1.04zM128.98 166.98h1.04v1.04h-1.04zM145.98 166.98h1.04v1.15h-1.04zM147.98 166.87h1.15v1.26h-1.15zM148.87 166.98h1.15v1.04h-1.15zM62.98 167.87h1.04v1.26h-1.04zM65.98 167.98h1.04v1.15h-1.04zM69.98 167.98h1.04v1.04h-1.04zM71.98 167.98h1.15v1.04h-1.15zM72.87 167.98h1.26v1.04h-1.26zM73.87 167.87h1.15v1.15h-1.15zM76.98 167.87h1.04v1.26h-1.04zM78.98 167.98h1.04v1.15h-1.04zM84.98 167.98h1.15v1.04h-1.15zM85.87 167.98h1.15v1.04h-1.15zM92.98 167.87h1.04v1.15h-1.04zM95.98 167.98h1.04v1.04h-1.04zM103.98 167.87h1.04v1.15h-1.04zM109.98 167.98h1.04v1.04h-1.04zM138.98 167.98h1.15v1.15h-1.15zM139.87 167.98h1.15v1.15h-1.15zM142.98 167.98h1.04v1.04h-1.04zM145.98 167.87h1.15v1.26h-1.15zM146.87 167.98h1.26v1.15h-1.26zM147.87 167.87h1.15v1.26h-1.15zM153.98 167.98h1.04v1.04h-1.04zM37.98 168.98h1.04v1.04h-1.04zM46.98 168.98h1.04v1.04h-1.04zM53.98 168.98h1.15v1.15h-1.15zM54.87 168.98h1.26v1.04h-1.26zM55.87 168.98h1.15v1.15h-1.15zM62.98 168.87h1.04v1.15h-1.04zM65.98 168.87h1.15v1.15h-1.15zM66.87 168.98h1.15v1.04h-1.15zM74.98 168.98h1.04v1.04h-1.04zM76.98 168.87h1.04v1.26h-1.04zM78.98 168.87h1.15v1.15h-1.15zM79.87 168.98h1.15v1.04h-1.15zM81.98 168.98h1.04v1.04h-1.04zM87.98 168.98h1.04v1.04h-1.04zM136.98 168.98h1.04v1.04h-1.04zM139.87 168.87h1.26v1.26h-1.26zM140.87 168.98h1.15v1.15h-1.15zM145.98 168.87h1.15v1.15h-1.15zM146.87 168.87h1.26v1.15h-1.26zM147.87 168.87h1.15v1.26h-1.15zM155.98 168.98h1.04v1.04h-1.04zM159.98 168.98h1.04v1.04h-1.04zM48.98 169.98h1.15v1.04h-1.15zM49.87 169.98h1.15v1.04h-1.15zM53.98 169.87h1.04v1.15h-1.04zM55.98 169.87h1.04v1.15h-1.04zM58.87 169.98h1.15v1.04h-1.15zM61.98 169.98h1.04v1.15h-1.04zM63.98 169.98h1.15v1.15h-1.15zM76.98 169.87h1.15v1.26h-1.15zM77.87 169.98h1.15v1.04h-1.15zM82.98 169.98h1.04v1.04h-1.04zM89.98 169.98h1.15v1.15h-1.15zM90.87 169.98h1.15v1.04h-1.15zM94.98 169.98h1.04v1.04h-1.04zM129.98 169.98h1.04v1.15h-1.04zM132.98 169.98h1.04v1.04h-1.04zM140.87 169.87h1.26v1.26h-1.26zM144.98 169.98h1.04v1.15h-1.04zM147.98 169.87h1.04v1.15h-1.04zM151.98 169.98h1.15v1.04h-1.15zM152.87 169.98h1.15v1.04h-1.15zM36.98 170.98h1.04v1.04h-1.04zM61.98 170.87h1.04v1.15h-1.04zM63.98 170.87h1.15v1.15h-1.15zM64.87 170.87h1.26v1.15h-1.26zM65.87 170.98h1.15v1.04h-1.15zM70.87 170.87h1.26v1.15h-1.26zM71.87 170.98h1.15v1.04h-1.15zM73.98 170.98h1.04v1.04h-1.04zM76.98 170.87h1.04v1.15h-1.04zM79.98 170.98h1.15v1.04h-1.15zM80.87 170.98h1.15v1.04h-1.15zM83.98 170.98h1.04v1.04h-1.04zM87.98 170.98h1.04v1.04h-1.04zM89.98 170.87h1.04v1.15h-1.04zM97.98 170.98h1.04v1.04h-1.04zM113.98 170.98h1.04v1.04h-1.04zM129.98 170.87h1.04v1.15h-1.04zM140.98 170.87h1.15v1.26h-1.15zM141.87 170.87h1.26v1.26h-1.26zM142.87 170.98h1.26v1.04h-1.26zM143.87 170.98h1.26v1.04h-1.26zM144.87 170.87h1.15v1.15h-1.15zM150.87 170.98h1.15v1.15h-1.15zM153.98 170.98h1.15v1.15h-1.15zM154.87 170.87h1.15v1.15h-1.15zM37.98 171.98h1.04v1.15h-1.04zM49.98 171.98h1.04v1.04h-1.04zM51.98 171.98h1.04v1.04h-1.04zM54.98 171.98h1.15v1.04h-1.15zM55.87 171.98h1.26v1.04h-1.26zM56.87 171.98h1.15v1.04h-1.15zM58.98 171.98h1.04v1.04h-1.04zM66.98 171.98h1.04v1.04h-1.04zM69.98 171.87h1.04v1.15h-1.04zM82.98 171.98h1.04v1.04h-1.04zM85.98 171.98h1.04v1.15h-1.04zM132.98 171.98h1.04v1.04h-1.04zM141.87 171.87h1.15v1.26h-1.15zM145.98 171.98h1.15v1.15h-1.15zM150.98 171.87h1.04v1.15h-1.04zM152.98 171.98h1.15v1.04h-1.15zM37.98 172.87h1.04v1.15h-1.04zM44.98 172.98h1.04v1.15h-1.04zM47.98 172.98h1.15v1.04h-1.15zM67.98 172.98h1.15v1.15h-1.15zM68.87 172.98h1.15v1.04h-1.15zM71.98 172.98h1.04v1.04h-1.04zM75.98 172.98h1.04v1.04h-1.04zM77.98 172.98h1.04v1.04h-1.04zM80.98 172.98h1.04v1.04h-1.04zM85.98 172.87h1.15v1.15h-1.15zM86.87 172.98h1.15v1.15h-1.15zM126.98 172.98h1.04v1.04h-1.04zM129.98 172.98h1.04v1.04h-1.04zM141.98 172.87h1.15v1.26h-1.15zM142.87 172.98h1.26v1.15h-1.26zM143.87 172.98h1.15v1.15h-1.15zM145.98 172.87h1.04v1.26h-1.04zM40.98 173.98h1.04v1.04h-1.04zM44.98 173.87h1.04v1.15h-1.04zM46.98 173.98h1.04v1.04h-1.04zM50.98 173.98h1.15v1.04h-1.15zM51.87 173.98h1.15v1.04h-1.15zM66.98 173.98h1.15v1.04h-1.15zM67.87 173.87h1.15v1.15h-1.15zM74.98 173.98h1.04v1.04h-1.04zM79.98 173.98h1.04v1.15h-1.04zM86.98 173.87h1.15v1.15h-1.15zM87.87 173.98h1.15v1.04h-1.15zM91.98 173.98h1.04v1.15h-1.04zM100.98 173.98h1.04v1.04h-1.04zM116.98 173.98h1.04v1.04h-1.04zM130.98 173.98h1.15v1.04h-1.15zM133.98 173.98h1.04v1.15h-1.04zM138.98 173.87h1.04v1.15h-1.04zM140.98 173.98h1.15v1.04h-1.15zM141.87 173.87h1.26v1.15h-1.26zM142.87 173.87h1.26v1.26h-1.26zM143.87 173.87h1.26v1.26h-1.26zM144.87 173.98h1.26v1.15h-1.26zM147.98 173.87h1.04v1.15h-1.04zM38.98 174.98h1.04v1.04h-1.04zM45.98 174.98h1.04v1.04h-1.04zM52.98 174.98h1.15v1.04h-1.15zM53.87 174.98h1.15v1.04h-1.15zM59.98 174.98h1.15v1.04h-1.15zM60.87 174.98h1.26v1.15h-1.26zM61.87 174.98h1.26v1.04h-1.26zM62.87 174.98h1.26v1.15h-1.26zM63.87 174.98h1.15v1.04h-1.15zM65.98 174.98h1.04v1.15h-1.04zM72.98 174.98h1.15v1.04h-1.15zM73.87 174.98h1.15v1.04h-1.15zM76.98 174.98h1.04v1.04h-1.04zM79.87 174.87h1.26v1.15h-1.26zM82.98 174.98h1.04v1.15h-1.04zM84.98 174.98h1.04v1.15h-1.04zM88.98 174.98h1.04v1.04h-1.04zM92.87 174.98h1.15v1.04h-1.15zM94.98 174.98h1.04v1.04h-1.04zM103.98 174.98h1.04v1.04h-1.04zM114.98 174.98h1.04v1.04h-1.04zM121.98 174.98h1.04v1.04h-1.04zM132.98 174.98h1.15v1.04h-1.15zM133.87 174.87h1.26v1.15h-1.26zM134.87 174.98h1.15v1.04h-1.15zM137.98 174.98h1.04v1.04h-1.04zM139.98 174.98h1.04v1.15h-1.04zM142.98 174.87h1.15v1.15h-1.15zM143.87 174.87h1.26v1.26h-1.26zM144.87 174.87h1.15v1.15h-1.15zM149.98 174.98h1.15v1.04h-1.15zM150.87 174.98h1.15v1.04h-1.15zM152.98 174.98h1.04v1.04h-1.04zM54.98 175.98h1.04v1.04h-1.04zM57.87 175.98h1.26v1.04h-1.26zM58.87 175.98h1.15v1.04h-1.15zM60.98 175.87h1.04v1.15h-1.04zM66.87 175.98h1.15v1.15h-1.15zM68.98 175.98h1.04v1.15h-1.04zM74.98 175.98h1.04v1.15h-1.04zM78.98 175.87h1.04v1.15h-1.04zM80.98 175.87h1.04v1.26h-1.04zM83.87 175.98h1.26v1.15h-1.26zM90.98 175.98h1.15v1.04h-1.15zM91.87 175.87h1.15v1.26h-1.15zM135.98 175.98h1.04v1.04h-1.04zM138.98 175.98h1.15v1.15h-1.15zM143.98 175.87h1.04v1.26h-1.04zM151.98 175.98h1.04v1.15h-1.04zM155.98 175.98h1.04v1.04h-1.04zM34.98 176.98h1.04v1.04h-1.04zM42.98 176.87h1.04v1.15h-1.04zM53.98 176.98h1.04v1.04h-1.04zM62.87 176.87h1.26v1.15h-1.26zM63.87 176.98h1.15v1.15h-1.15zM66.98 176.87h1.04v1.15h-1.04zM68.98 176.87h1.04v1.26h-1.04zM91.98 176.87h1.04v1.15h-1.04zM96.98 176.98h1.15v1.04h-1.15zM97.87 176.98h1.26v1.04h-1.26zM99.87 176.98h1.15v1.04h-1.15zM130.98 176.98h1.15v1.04h-1.15zM131.87 176.98h1.26v1.04h-1.26zM132.87 176.98h1.26v1.15h-1.26zM138.87 176.87h1.15v1.15h-1.15zM140.98 176.98h1.04v1.15h-1.04zM143.87 176.87h1.15v1.26h-1.15zM145.98 176.98h1.15v1.15h-1.15zM147.87 176.87h1.26v1.26h-1.26zM148.87 176.98h1.15v1.15h-1.15zM151.98 176.87h1.15v1.15h-1.15zM39.98 177.98h1.15v1.04h-1.15zM40.87 177.98h1.26v1.04h-1.26zM41.87 177.98h1.15v1.04h-1.15zM44.98 177.98h1.04v1.04h-1.04zM47.98 177.98h1.04v1.04h-1.04zM49.98 177.98h1.04v1.04h-1.04zM52.98 177.98h1.04v1.15h-1.04zM56.87 177.98h1.15v1.15h-1.15zM58.98 177.98h1.04v1.04h-1.04zM64.87 177.98h1.15v1.04h-1.15zM68.87 177.87h1.26v1.26h-1.26zM69.87 177.98h1.15v1.15h-1.15zM71.98 177.98h1.15v1.15h-1.15zM72.87 177.98h1.26v1.15h-1.26zM79.98 177.87h1.04v1.15h-1.04zM81.98 177.98h1.04v1.04h-1.04zM85.98 177.98h1.04v1.15h-1.04zM89.98 177.87h1.04v1.26h-1.04zM92.98 177.98h1.15v1.04h-1.15zM93.87 177.98h1.15v1.15h-1.15zM136.87 177.98h1.15v1.04h-1.15zM140.98 177.87h1.15v1.26h-1.15zM143.98 177.87h1.04v1.26h-1.04zM145.98 177.87h1.04v1.26h-1.04zM147.98 177.87h1.15v1.15h-1.15zM148.87 177.87h1.26v1.15h-1.26zM149.87 177.98h1.26v1.15h-1.26zM150.87 177.98h1.15v1.15h-1.15zM153.98 177.87h1.15v1.15h-1.15zM154.87 177.98h1.15v1.04h-1.15zM45.98 178.98h1.04v1.04h-1.04zM52.98 178.87h1.04v1.26h-1.04zM56.87 178.87h1.15v1.15h-1.15zM62.87 178.98h1.26v1.15h-1.26zM63.87 178.87h1.15v1.26h-1.15zM65.98 178.98h1.04v1.04h-1.04zM68.98 178.87h1.15v1.26h-1.15zM69.87 178.87h1.26v1.15h-1.26zM71.87 178.87h1.26v1.15h-1.26zM74.98 178.98h1.15v1.15h-1.15zM75.87 178.98h1.26v1.04h-1.26zM77.87 178.98h1.26v1.04h-1.26zM83.98 178.98h1.04v1.04h-1.04zM85.98 178.87h1.04v1.26h-1.04zM89.98 178.87h1.15v1.15h-1.15zM90.87 178.98h1.15v1.15h-1.15zM93.98 178.87h1.04v1.15h-1.04zM122.98 178.98h1.15v1.04h-1.15zM123.87 178.98h1.15v1.04h-1.15zM128.98 178.98h1.04v1.04h-1.04zM132.98 178.87h1.04v1.26h-1.04zM135.98 178.87h1.04v1.26h-1.04zM138.87 178.98h1.15v1.15h-1.15zM140.98 178.87h1.15v1.26h-1.15zM142.87 178.98h1.26v1.15h-1.26zM143.87 178.87h1.26v1.26h-1.26zM146.87 178.98h1.15v1.15h-1.15zM149.98 178.87h1.15v1.15h-1.15zM151.87 178.98h1.15v1.04h-1.15zM165.98 178.98h1.04v1.04h-1.04zM46.98 179.98h1.15v1.04h-1.15zM54.98 179.98h1.04v1.15h-1.04zM58.98 179.98h1.15v1.15h-1.15zM59.87 179.98h1.15v1.15h-1.15zM61.98 179.87h1.15v1.15h-1.15zM68.98 179.87h1.04v1.15h-1.04zM70.98 179.87h1.04v1.26h-1.04zM72.98 179.87h1.15v1.15h-1.15zM73.87 179.98h1.26v1.15h-1.26zM82.98 179.98h1.04v1.04h-1.04zM85.98 179.87h1.15v1.26h-1.15zM86.87 179.98h1.26v1.04h-1.26zM90.98 179.87h1.04v1.26h-1.04zM102.98 179.98h1.04v1.04h-1.04zM127.98 179.98h1.04v1.04h-1.04zM129.98 179.98h1.04v1.04h-1.04zM133.87 179.98h1.26v1.04h-1.26zM134.87 179.98h1.26v1.04h-1.26zM143.87 179.87h1.15v1.26h-1.15zM147.87 179.98h1.15v1.15h-1.15zM152.98 179.98h1.04v1.04h-1.04zM162.98 179.98h1.04v1.04h-1.04zM35.98 180.98h1.04v1.15h-1.04zM44.87 180.98h1.26v1.04h-1.26zM45.87 180.98h1.15v1.04h-1.15zM53.98 180.98h1.15v1.15h-1.15zM54.87 180.87h1.26v1.26h-1.26zM55.87 180.98h1.15v1.15h-1.15zM58.87 180.87h1.26v1.26h-1.26zM59.87 180.87h1.26v1.26h-1.26zM66.98 180.98h1.15v1.15h-1.15zM67.87 180.98h1.15v1.04h-1.15zM69.98 180.98h1.15v1.15h-1.15zM70.87 180.87h1.26v1.26h-1.26zM71.87 180.98h1.15v1.04h-1.15zM73.98 180.87h1.04v1.26h-1.04zM76.98 180.87h1.04v1.26h-1.04zM78.98 180.98h1.15v1.04h-1.15zM79.87 180.87h1.26v1.26h-1.26zM80.87 180.98h1.26v1.04h-1.26zM81.87 180.98h1.15v1.15h-1.15zM84.98 180.98h1.15v1.04h-1.15zM85.87 180.87h1.15v1.15h-1.15zM88.98 180.98h1.04v1.15h-1.04zM90.98 180.87h1.04v1.15h-1.04zM92.98 180.98h1.15v1.04h-1.15zM95.98 180.98h1.04v1.15h-1.04zM97.98 180.98h1.04v1.04h-1.04zM106.98 180.98h1.04v1.15h-1.04zM113.98 180.98h1.04v1.04h-1.04zM125.98 180.98h1.04v1.04h-1.04zM130.98 180.98h1.15v1.15h-1.15zM131.87 180.98h1.15v1.04h-1.15zM143.87 180.87h1.26v1.15h-1.26zM144.87 180.98h1.15v1.15h-1.15zM148.87 180.98h1.26v1.15h-1.26zM149.87 180.98h1.26v1.04h-1.26zM150.87 180.98h1.15v1.15h-1.15zM154.87 180.98h1.15v1.04h-1.15zM156.98 180.98h1.04v1.04h-1.04zM35.98 181.87h1.04v1.26h-1.04zM48.98 181.98h1.15v1.15h-1.15zM49.87 181.98h1.26v1.04h-1.26zM50.87 181.98h1.26v1.04h-1.26zM51.87 181.98h1.26v1.15h-1.26zM52.87 181.98h1.26v1.04h-1.26zM57.98 181.87h1.15v1.26h-1.15zM60.87 181.87h1.15v1.15h-1.15zM65.98 181.98h1.15v1.04h-1.15zM74.87 181.98h1.26v1.04h-1.26zM75.87 181.98h1.26v1.15h-1.26zM83.98 181.98h1.04v1.15h-1.04zM86.98 181.98h1.04v1.04h-1.04zM88.98 181.87h1.15v1.26h-1.15zM89.87 181.98h1.15v1.04h-1.15zM106.98 181.87h1.04v1.15h-1.04zM129.98 181.98h1.15v1.15h-1.15zM130.87 181.87h1.15v1.15h-1.15zM132.98 181.98h1.04v1.15h-1.04zM135.98 181.98h1.04v1.15h-1.04zM145.87 181.98h1.26v1.15h-1.26zM146.87 181.87h1.15v1.15h-1.15zM148.98 181.87h1.04v1.26h-1.04zM152.98 181.98h1.15v1.15h-1.15zM153.87 181.87h1.15v1.15h-1.15zM155.98 181.98h1.04v1.04h-1.04zM157.98 181.98h1.04v1.04h-1.04zM162.98 181.98h1.04v1.04h-1.04zM32.98 182.98h1.04v1.04h-1.04zM35.98 182.87h1.04v1.15h-1.04zM48.98 182.87h1.04v1.15h-1.04zM51.98 182.87h1.04v1.15h-1.04zM55.98 182.87h1.04v1.26h-1.04zM57.98 182.87h1.04v1.26h-1.04zM61.98 182.98h1.15v1.15h-1.15zM62.87 182.87h1.26v1.15h-1.26zM66.98 182.87h1.04v1.26h-1.04zM83.98 182.87h1.04v1.26h-1.04zM88.98 182.87h1.04v1.26h-1.04zM91.98 182.98h1.04v1.04h-1.04zM94.98 182.98h1.04v1.04h-1.04zM96.98 182.98h1.04v1.15h-1.04zM98.98 182.98h1.04v1.04h-1.04zM104.98 182.98h1.04v1.04h-1.04zM112.98 182.98h1.04v1.04h-1.04zM117.98 182.98h1.15v1.04h-1.15zM118.87 182.98h1.15v1.04h-1.15zM127.98 182.98h1.04v1.04h-1.04zM129.98 182.87h1.04v1.15h-1.04zM131.98 182.98h1.15v1.04h-1.15zM147.98 182.98h1.15v1.04h-1.15zM148.87 182.87h1.15v1.26h-1.15zM150.98 182.87h1.04v1.15h-1.04zM152.98 182.87h1.04v1.15h-1.04zM44.98 183.98h1.04v1.04h-1.04zM53.98 183.98h1.04v1.04h-1.04zM55.98 183.87h1.15v1.26h-1.15zM56.87 183.98h1.26v1.15h-1.26zM58.87 183.98h1.26v1.15h-1.26zM61.87 183.87h1.15v1.26h-1.15zM64.87 183.87h1.26v1.26h-1.26zM83.87 183.87h1.15v1.26h-1.15zM85.98 183.98h1.04v1.04h-1.04zM87.98 183.98h1.15v1.15h-1.15zM88.87 183.87h1.26v1.15h-1.26zM89.87 183.98h1.15v1.15h-1.15zM92.98 183.98h1.04v1.04h-1.04zM95.98 183.98h1.15v1.04h-1.15zM130.98 183.98h1.04v1.04h-1.04zM151.98 183.98h1.04v1.15h-1.04zM47.98 184.98h1.04v1.04h-1.04zM50.87 184.98h1.26v1.04h-1.26zM52.87 184.98h1.15v1.15h-1.15zM55.98 184.87h1.15v1.15h-1.15zM62.87 184.98h1.15v1.15h-1.15zM64.98 184.87h1.04v1.26h-1.04zM66.98 184.87h1.15v1.26h-1.15zM87.98 184.87h1.04v1.15h-1.04zM89.98 184.87h1.04v1.26h-1.04zM94.98 184.98h1.04v1.15h-1.04zM97.98 184.98h1.04v1.15h-1.04zM101.98 184.98h1.04v1.15h-1.04zM126.98 184.98h1.04v1.04h-1.04zM131.98 184.98h1.15v1.15h-1.15zM152.87 184.98h1.26v1.15h-1.26zM153.87 184.98h1.15v1.04h-1.15zM41.98 185.98h1.04v1.04h-1.04zM48.98 185.98h1.15v1.04h-1.15zM53.87 185.98h1.15v1.15h-1.15zM56.98 185.87h1.04v1.15h-1.04zM59.87 185.98h1.15v1.04h-1.15zM63.87 185.98h1.26v1.15h-1.26zM65.87 185.98h1.26v1.04h-1.26zM86.87 185.98h1.15v1.15h-1.15zM88.98 185.98h1.15v1.15h-1.15zM89.87 185.87h1.26v1.26h-1.26zM90.87 185.98h1.26v1.04h-1.26zM91.87 185.87h1.26v1.26h-1.26zM94.98 185.87h1.04v1.26h-1.04zM97.98 185.87h1.04v1.15h-1.04zM101.98 185.87h1.04v1.15h-1.04zM128.98 185.98h1.04v1.15h-1.04zM148.87 185.98h1.26v1.04h-1.26zM149.87 185.87h1.26v1.15h-1.26zM151.87 185.87h1.26v1.26h-1.26zM152.87 185.87h1.15v1.26h-1.15zM155.98 185.87h1.15v1.26h-1.15zM156.87 185.98h1.15v1.04h-1.15zM38.98 186.98h1.04v1.04h-1.04zM43.98 186.98h1.04v1.04h-1.04zM53.98 186.87h1.04v1.26h-1.04zM60.98 186.98h1.04v1.15h-1.04zM62.98 186.87h1.15v1.26h-1.15zM64.87 186.87h1.15v1.26h-1.15zM89.87 186.87h1.15v1.15h-1.15zM96.98 186.98h1.04v1.04h-1.04zM106.98 186.98h1.04v1.04h-1.04zM110.98 186.98h1.04v1.04h-1.04zM112.98 186.98h1.04v1.04h-1.04zM121.98 186.98h1.04v1.04h-1.04zM124.98 186.98h1.04v1.04h-1.04zM126.98 186.98h1.15v1.04h-1.15zM127.87 186.98h1.26v1.04h-1.26zM128.87 186.87h1.15v1.15h-1.15zM150.98 186.87h1.15v1.26h-1.15zM151.87 186.87h1.26v1.15h-1.26zM152.87 186.87h1.15v1.26h-1.15zM155.98 186.87h1.04v1.15h-1.04zM33.98 187.98h1.04v1.04h-1.04zM46.98 187.98h1.04v1.04h-1.04zM50.98 187.87h1.04v1.15h-1.04zM53.98 187.87h1.15v1.15h-1.15zM64.98 187.87h1.15v1.15h-1.15zM90.98 187.98h1.04v1.15h-1.04zM94.87 187.87h1.15v1.26h-1.15zM98.98 187.98h1.04v1.04h-1.04zM108.98 187.98h1.15v1.04h-1.15zM122.98 187.98h1.04v1.04h-1.04zM149.87 187.98h1.26v1.04h-1.26zM150.87 187.87h1.15v1.15h-1.15zM152.98 187.87h1.15v1.26h-1.15zM153.87 187.98h1.15v1.15h-1.15zM37.98 188.98h1.04v1.15h-1.04zM41.98 188.98h1.04v1.04h-1.04zM47.98 188.98h1.15v1.04h-1.15zM48.87 188.98h1.26v1.04h-1.26zM49.87 188.98h1.15v1.15h-1.15zM54.98 188.87h1.15v1.26h-1.15zM92.98 188.87h1.15v1.26h-1.15zM94.87 188.87h1.26v1.26h-1.26zM95.87 188.98h1.26v1.04h-1.26zM96.87 188.98h1.26v1.04h-1.26zM97.87 188.98h1.15v1.04h-1.15zM102.98 188.87h1.04v1.15h-1.04zM114.98 188.98h1.04v1.04h-1.04zM130.98 188.98h1.15v1.15h-1.15zM152.87 188.87h1.26v1.26h-1.26zM153.87 188.87h1.26v1.26h-1.26zM154.87 188.98h1.15v1.04h-1.15zM37.98 189.87h1.04v1.15h-1.04zM39.98 189.98h1.04v1.15h-1.04zM44.98 189.98h1.04v1.04h-1.04zM49.98 189.87h1.04v1.26h-1.04zM91.87 189.98h1.26v1.15h-1.26zM92.87 189.87h1.26v1.26h-1.26zM93.87 189.87h1.26v1.26h-1.26zM94.87 189.87h1.15v1.15h-1.15zM99.98 189.87h1.04v1.15h-1.04zM101.98 189.98h1.04v1.04h-1.04zM126.98 189.98h1.15v1.04h-1.15zM127.87 189.87h1.26v1.26h-1.26zM128.87 189.98h1.15v1.15h-1.15zM151.98 189.87h1.15v1.15h-1.15zM152.87 189.87h1.26v1.15h-1.26zM153.87 189.87h1.15v1.26h-1.15zM38.98 190.98h1.15v1.04h-1.15zM39.87 190.87h1.26v1.15h-1.26zM40.87 190.98h1.15v1.04h-1.15zM45.98 190.98h1.15v1.15h-1.15zM46.87 190.87h1.26v1.15h-1.26zM47.87 190.98h1.15v1.15h-1.15zM49.98 190.87h1.15v1.15h-1.15zM54.98 190.87h1.04v1.15h-1.04zM93.87 190.87h1.15v1.26h-1.15zM96.98 190.98h1.04v1.15h-1.04zM98.98 190.98h1.04v1.04h-1.04zM102.98 190.98h1.04v1.04h-1.04zM116.98 190.98h1.04v1.04h-1.04zM127.98 190.87h1.15v1.15h-1.15zM128.87 190.87h1.26v1.26h-1.26zM129.87 190.98h1.26v1.15h-1.26zM153.98 190.87h1.04v1.26h-1.04zM156.98 190.98h1.04v1.04h-1.04zM24.98 191.98h1.04v1.04h-1.04zM34.98 191.98h1.04v1.04h-1.04zM36.98 191.98h1.04v1.04h-1.04zM41.98 191.98h1.04v1.04h-1.04zM44.98 191.98h1.15v1.15h-1.15zM45.87 191.87h1.15v1.26h-1.15zM50.98 191.87h1.04v1.26h-1.04zM101.98 191.98h1.04v1.04h-1.04zM111.98 191.98h1.04v1.04h-1.04zM113.98 191.98h1.15v1.04h-1.15zM114.87 191.98h1.15v1.04h-1.15zM125.98 191.98h1.15v1.04h-1.15zM126.87 191.98h1.15v1.15h-1.15zM128.98 191.87h1.15v1.26h-1.15zM129.87 191.87h1.26v1.26h-1.26zM153.98 191.87h1.04v1.15h-1.04zM32.98 192.98h1.15v1.04h-1.15zM33.87 192.98h1.15v1.15h-1.15zM37.98 192.98h1.15v1.04h-1.15zM38.87 192.98h1.15v1.04h-1.15zM44.98 192.87h1.15v1.26h-1.15zM45.87 192.87h1.15v1.26h-1.15zM51.87 192.98h1.26v1.04h-1.26zM52.87 192.87h1.26v1.26h-1.26zM53.87 192.87h1.15v1.26h-1.15zM92.87 192.98h1.26v1.15h-1.26zM93.87 192.87h1.26v1.15h-1.26zM96.98 192.87h1.04v1.15h-1.04zM98.98 192.98h1.04v1.15h-1.04zM126.98 192.87h1.15v1.15h-1.15zM127.87 192.98h1.26v1.04h-1.26zM128.87 192.87h1.26v1.15h-1.26zM151.87 192.98h1.15v1.04h-1.15zM23.98 193.98h1.04v1.04h-1.04zM33.98 193.87h1.04v1.15h-1.04zM35.98 193.98h1.04v1.15h-1.04zM43.98 193.98h1.15v1.15h-1.15zM44.87 193.87h1.26v1.26h-1.26zM45.87 193.87h1.15v1.26h-1.15zM47.98 193.87h1.04v1.26h-1.04zM52.98 193.87h1.15v1.15h-1.15zM90.87 193.87h1.26v1.15h-1.26zM98.98 193.87h1.15v1.15h-1.15zM102.98 193.98h1.04v1.04h-1.04zM124.98 193.98h1.04v1.04h-1.04zM152.98 193.98h1.04v1.15h-1.04zM34.98 194.98h1.15v1.04h-1.15zM35.87 194.87h1.26v1.15h-1.26zM36.87 194.98h1.15v1.04h-1.15zM39.98 194.98h1.15v1.15h-1.15zM40.87 194.98h1.26v1.15h-1.26zM41.87 194.98h1.15v1.15h-1.15zM44.87 194.87h1.26v1.26h-1.26zM45.87 194.87h1.15v1.15h-1.15zM47.98 194.87h1.15v1.26h-1.15zM48.87 194.98h1.26v1.04h-1.26zM49.87 194.98h1.15v1.04h-1.15zM51.98 194.98h1.04v1.04h-1.04zM97.87 194.98h1.15v1.15h-1.15zM125.98 194.98h1.04v1.15h-1.04zM127.98 194.98h1.15v1.15h-1.15zM128.87 194.98h1.26v1.15h-1.26zM152.98 194.87h1.04v1.15h-1.04zM27.98 195.98h1.04v1.04h-1.04zM38.98 195.98h1.15v1.15h-1.15zM39.87 195.87h1.26v1.15h-1.26zM40.87 195.87h1.26v1.15h-1.26zM41.87 195.87h1.15v1.26h-1.15zM44.98 195.87h1.04v1.26h-1.04zM47.98 195.87h1.04v1.26h-1.04zM90.98 195.98h1.15v1.15h-1.15zM91.87 195.98h1.26v1.04h-1.26zM92.87 195.98h1.26v1.15h-1.26zM97.98 195.87h1.04v1.26h-1.04zM100.98 195.98h1.15v1.15h-1.15zM101.87 195.98h1.26v1.04h-1.26zM102.87 195.98h1.15v1.04h-1.15zM106.87 195.98h1.15v1.04h-1.15zM122.98 195.98h1.04v1.04h-1.04zM127.98 195.87h1.15v1.26h-1.15zM35.98 196.98h1.04v1.04h-1.04zM38.98 196.87h1.04v1.15h-1.04zM42.87 196.98h1.26v1.04h-1.26zM44.87 196.87h1.15v1.26h-1.15zM48.87 196.98h1.26v1.04h-1.26zM50.87 196.98h1.26v1.15h-1.26zM51.87 196.98h1.26v1.15h-1.26zM92.98 196.87h1.15v1.15h-1.15zM98.87 196.98h1.26v1.15h-1.26zM100.87 196.87h1.15v1.15h-1.15zM105.98 196.87h1.04v1.26h-1.04zM107.98 196.98h1.04v1.04h-1.04zM109.98 196.98h1.04v1.04h-1.04zM120.98 196.98h1.15v1.04h-1.15zM123.98 196.98h1.04v1.04h-1.04zM125.98 196.87h1.04v1.15h-1.04zM150.87 196.98h1.26v1.04h-1.26zM151.87 196.98h1.26v1.04h-1.26zM152.87 196.98h1.15v1.04h-1.15zM154.98 196.98h1.04v1.15h-1.04zM32.98 197.98h1.04v1.04h-1.04zM37.98 197.98h1.04v1.04h-1.04zM39.98 197.98h1.04v1.04h-1.04zM41.98 197.87h1.04v1.26h-1.04zM103.98 197.87h1.04v1.26h-1.04zM105.98 197.87h1.15v1.15h-1.15zM106.87 197.98h1.15v1.04h-1.15zM154.98 197.87h1.15v1.15h-1.15zM155.87 197.98h1.15v1.04h-1.15zM31.98 198.98h1.04v1.04h-1.04zM34.98 198.98h1.15v1.04h-1.15zM35.87 198.98h1.15v1.04h-1.15zM41.87 198.87h1.26v1.15h-1.26zM43.87 198.98h1.26v1.15h-1.26zM100.98 198.98h1.15v1.04h-1.15zM101.87 198.98h1.15v1.15h-1.15zM103.98 198.87h1.04v1.15h-1.04zM124.98 198.98h1.04v1.15h-1.04zM150.87 198.98h1.26v1.15h-1.26zM151.87 198.98h1.26v1.15h-1.26zM152.87 198.98h1.15v1.04h-1.15zM33.98 199.98h1.04v1.04h-1.04zM37.98 199.98h1.04v1.15h-1.04zM42.98 199.87h1.15v1.26h-1.15zM43.87 199.87h1.15v1.26h-1.15zM46.87 199.98h1.15v1.15h-1.15zM98.87 199.98h1.26v1.15h-1.26zM99.87 199.98h1.15v1.15h-1.15zM101.98 199.87h1.04v1.15h-1.04zM124.98 199.87h1.04v1.15h-1.04zM32.98 200.98h1.04v1.15h-1.04zM37.98 200.87h1.04v1.26h-1.04zM40.87 200.98h1.15v1.04h-1.15zM42.98 200.87h1.15v1.26h-1.15zM43.87 200.87h1.15v1.26h-1.15zM45.98 200.87h1.15v1.15h-1.15zM46.87 200.87h1.15v1.15h-1.15zM99.87 200.87h1.15v1.15h-1.15zM103.98 200.98h1.04v1.04h-1.04zM105.98 200.98h1.04v1.04h-1.04zM108.98 200.98h1.04v1.15h-1.04zM121.98 200.98h1.04v1.04h-1.04zM154.98 200.98h1.04v1.15h-1.04zM32.98 201.87h1.04v1.15h-1.04zM37.98 201.87h1.04v1.15h-1.04zM39.98 201.87h1.04v1.26h-1.04zM43.87 201.87h1.26v1.15h-1.26zM44.87 201.98h1.15v1.15h-1.15zM95.87 201.87h1.26v1.26h-1.26zM96.87 201.87h1.26v1.26h-1.26zM97.87 201.98h1.26v1.15h-1.26zM98.87 201.87h1.15v1.26h-1.15zM108.98 201.87h1.04v1.15h-1.04zM123.98 201.98h1.15v1.04h-1.15zM126.98 201.98h1.15v1.15h-1.15zM151.98 201.98h1.04v1.04h-1.04zM154.98 201.87h1.04v1.15h-1.04zM35.98 202.98h1.15v1.04h-1.15zM36.87 202.98h1.15v1.04h-1.15zM39.98 202.87h1.04v1.15h-1.04zM44.98 202.87h1.04v1.26h-1.04zM95.87 202.87h1.26v1.26h-1.26zM96.87 202.87h1.26v1.26h-1.26zM97.87 202.87h1.26v1.15h-1.26zM98.87 202.87h1.26v1.15h-1.26zM99.87 202.98h1.26v1.15h-1.26zM100.87 202.87h1.15v1.15h-1.15zM103.98 202.98h1.04v1.15h-1.04zM147.87 202.98h1.15v1.04h-1.15zM149.98 202.98h1.04v1.04h-1.04zM32.98 203.98h1.04v1.04h-1.04zM34.98 203.98h1.04v1.15h-1.04zM41.98 203.87h1.15v1.15h-1.15zM42.87 203.98h1.26v1.15h-1.26zM43.87 203.98h1.26v1.15h-1.26zM44.87 203.87h1.15v1.15h-1.15zM96.87 203.87h1.15v1.26h-1.15zM99.98 203.87h1.04v1.15h-1.04zM101.98 203.98h1.04v1.04h-1.04zM106.98 203.98h1.04v1.15h-1.04zM30.98 204.98h1.04v1.04h-1.04zM34.98 204.87h1.04v1.15h-1.04zM42.98 204.87h1.15v1.15h-1.15zM96.87 204.87h1.15v1.15h-1.15zM98.98 204.98h1.04v1.15h-1.04zM106.98 204.87h1.04v1.15h-1.04zM109.98 204.98h1.04v1.04h-1.04zM147.87 204.98h1.15v1.15h-1.15zM149.98 204.98h1.04v1.15h-1.04zM154.98 204.98h1.04v1.04h-1.04zM201.98 204.98h1.04v1.04h-1.04zM29.98 205.98h1.04v1.04h-1.04zM37.98 205.98h1.15v1.04h-1.15zM41.98 205.98h1.04v1.04h-1.04zM43.98 205.87h1.04v1.15h-1.04zM45.98 205.87h1.04v1.26h-1.04zM98.87 205.87h1.26v1.26h-1.26zM99.87 205.98h1.26v1.15h-1.26zM104.98 205.87h1.04v1.26h-1.04zM107.98 205.98h1.04v1.04h-1.04zM122.98 205.98h1.04v1.04h-1.04zM125.98 205.87h1.15v1.15h-1.15zM147.98 205.87h1.15v1.26h-1.15zM149.87 205.87h1.15v1.26h-1.15zM152.98 205.98h1.04v1.04h-1.04zM25.98 206.98h1.04v1.04h-1.04zM28.98 206.98h1.04v1.04h-1.04zM36.98 206.98h1.04v1.15h-1.04zM39.98 206.98h1.15v1.04h-1.15zM40.87 206.98h1.15v1.15h-1.15zM44.98 206.98h1.15v1.15h-1.15zM45.87 206.87h1.15v1.26h-1.15zM96.87 206.98h1.26v1.04h-1.26zM98.87 206.87h1.26v1.15h-1.26zM101.98 206.98h1.04v1.15h-1.04zM104.98 206.87h1.04v1.26h-1.04zM110.98 206.98h1.04v1.04h-1.04zM121.98 206.98h1.04v1.04h-1.04zM123.98 206.98h1.15v1.04h-1.15zM124.87 206.98h1.15v1.15h-1.15zM146.87 206.98h1.26v1.04h-1.26zM147.87 206.87h1.15v1.26h-1.15zM149.98 206.87h1.04v1.15h-1.04zM151.98 206.98h1.04v1.04h-1.04zM34.98 207.98h1.04v1.15h-1.04zM36.98 207.87h1.04v1.15h-1.04zM38.98 207.98h1.04v1.04h-1.04zM91.87 207.98h1.26v1.04h-1.26zM92.87 207.87h1.26v1.15h-1.26zM101.98 207.87h1.04v1.26h-1.04zM103.98 207.98h1.15v1.15h-1.15zM104.87 207.87h1.26v1.15h-1.26zM109.98 207.98h1.04v1.04h-1.04zM124.98 207.87h1.04v1.26h-1.04zM147.98 207.87h1.04v1.26h-1.04zM26.98 208.98h1.04v1.04h-1.04zM34.98 208.87h1.15v1.15h-1.15zM35.87 208.98h1.15v1.04h-1.15zM41.98 208.98h1.15v1.04h-1.15zM42.87 208.98h1.26v1.15h-1.26zM43.87 208.87h1.26v1.15h-1.26zM98.87 208.98h1.26v1.15h-1.26zM99.87 208.98h1.26v1.04h-1.26zM100.87 208.98h1.26v1.15h-1.26zM101.87 208.87h1.26v1.26h-1.26zM102.87 208.98h1.26v1.15h-1.26zM126.98 208.87h1.15v1.15h-1.15zM149.87 208.98h1.15v1.04h-1.15zM46.98 209.87h1.15v1.26h-1.15zM95.98 209.87h1.15v1.26h-1.15zM96.87 209.98h1.15v1.04h-1.15zM98.98 209.87h1.04v1.26h-1.04zM100.98 209.87h1.15v1.15h-1.15zM102.87 209.87h1.15v1.26h-1.15zM114.98 209.98h1.04v1.04h-1.04zM123.98 209.87h1.15v1.26h-1.15zM124.87 209.87h1.15v1.26h-1.15zM148.87 209.87h1.15v1.26h-1.15zM38.98 210.98h1.15v1.04h-1.15zM39.87 210.98h1.15v1.15h-1.15zM46.98 210.87h1.15v1.15h-1.15zM95.87 210.87h1.15v1.26h-1.15zM99.87 210.98h1.15v1.15h-1.15zM101.98 210.87h1.15v1.15h-1.15zM102.87 210.87h1.15v1.15h-1.15zM105.98 210.98h1.04v1.04h-1.04zM123.98 210.87h1.15v1.15h-1.15zM125.87 210.98h1.26v1.15h-1.26zM126.87 210.98h1.15v1.04h-1.15zM148.98 210.87h1.04v1.15h-1.04zM33.98 211.98h1.04v1.04h-1.04zM39.98 211.87h1.04v1.26h-1.04zM42.98 211.98h1.15v1.04h-1.15zM47.98 211.87h1.15v1.26h-1.15zM95.87 211.87h1.15v1.15h-1.15zM97.98 211.98h1.04v1.15h-1.04zM99.98 211.87h1.04v1.15h-1.04zM106.98 211.98h1.04v1.04h-1.04zM122.98 211.98h1.04v1.04h-1.04zM34.98 212.98h1.15v1.15h-1.15zM35.87 212.98h1.15v1.04h-1.15zM40.87 212.98h1.26v1.04h-1.26zM47.87 212.87h1.15v1.15h-1.15zM97.98 212.87h1.04v1.26h-1.04zM100.98 212.98h1.15v1.15h-1.15zM108.98 212.98h1.04v1.04h-1.04zM125.87 212.87h1.26v1.15h-1.26zM126.87 212.98h1.26v1.04h-1.26zM37.98 213.98h1.04v1.04h-1.04zM39.98 213.87h1.04v1.15h-1.04zM42.87 213.98h1.15v1.04h-1.15zM45.98 213.98h1.04v1.15h-1.04zM89.98 213.87h1.15v1.26h-1.15zM97.98 213.87h1.04v1.15h-1.04zM100.98 213.87h1.04v1.15h-1.04zM103.98 213.98h1.04v1.04h-1.04zM122.98 213.98h1.04v1.04h-1.04zM124.98 213.87h1.04v1.26h-1.04zM34.98 214.87h1.04v1.15h-1.04zM43.98 214.98h1.04v1.04h-1.04zM45.98 214.87h1.04v1.15h-1.04zM47.98 214.98h1.04v1.15h-1.04zM49.98 214.87h1.15v1.15h-1.15zM50.87 214.87h1.26v1.15h-1.26zM95.98 214.98h1.15v1.15h-1.15zM96.87 214.98h1.15v1.04h-1.15zM98.98 214.98h1.15v1.15h-1.15zM99.87 214.98h1.15v1.15h-1.15zM105.98 214.98h1.04v1.04h-1.04zM119.98 214.98h1.04v1.04h-1.04zM124.98 214.87h1.04v1.26h-1.04zM41.98 215.98h1.04v1.15h-1.04zM47.98 215.87h1.04v1.15h-1.04zM51.98 215.87h1.04v1.26h-1.04zM53.98 215.87h1.04v1.15h-1.04zM95.98 215.87h1.04v1.26h-1.04zM100.87 215.98h1.26v1.15h-1.26zM101.87 215.98h1.15v1.04h-1.15zM103.98 215.98h1.04v1.15h-1.04zM118.98 215.98h1.04v1.04h-1.04zM124.98 215.87h1.15v1.15h-1.15zM126.87 215.98h1.26v1.04h-1.26zM145.87 215.98h1.15v1.15h-1.15zM152.98 215.98h1.04v1.04h-1.04zM24.98 216.98h1.04v1.04h-1.04zM34.98 216.98h1.04v1.04h-1.04zM38.98 216.98h1.15v1.04h-1.15zM39.87 216.98h1.15v1.04h-1.15zM41.98 216.87h1.15v1.26h-1.15zM42.87 216.98h1.15v1.04h-1.15zM44.98 216.98h1.04v1.04h-1.04zM51.98 216.87h1.15v1.26h-1.15zM52.87 216.98h1.15v1.15h-1.15zM54.98 216.98h1.04v1.15h-1.04zM94.98 216.98h1.15v1.04h-1.15zM96.87 216.98h1.15v1.04h-1.15zM99.98 216.87h1.15v1.15h-1.15zM100.87 216.87h1.15v1.15h-1.15zM103.98 216.87h1.04v1.15h-1.04zM127.98 216.87h1.04v1.15h-1.04zM144.87 216.87h1.26v1.26h-1.26zM145.87 216.87h1.15v1.15h-1.15zM148.98 216.98h1.04v1.04h-1.04zM41.98 217.87h1.04v1.26h-1.04zM52.87 217.87h1.26v1.26h-1.26zM54.87 217.87h1.15v1.26h-1.15zM56.98 217.98h1.04v1.04h-1.04zM58.98 217.87h1.15v1.26h-1.15zM59.87 217.87h1.15v1.26h-1.15zM87.87 217.87h1.26v1.15h-1.26zM88.87 217.87h1.15v1.15h-1.15zM92.87 217.87h1.26v1.26h-1.26zM93.87 217.98h1.15v1.15h-1.15zM95.98 217.87h1.04v1.26h-1.04zM97.98 217.98h1.15v1.04h-1.15zM120.98 217.98h1.04v1.04h-1.04zM142.87 217.87h1.26v1.15h-1.26zM37.98 218.98h1.04v1.04h-1.04zM41.98 218.87h1.04v1.15h-1.04zM50.98 218.98h1.04v1.04h-1.04zM52.98 218.87h1.15v1.15h-1.15zM55.87 218.98h1.15v1.04h-1.15zM58.98 218.87h1.15v1.26h-1.15zM59.87 218.87h1.26v1.26h-1.26zM60.87 218.98h1.26v1.15h-1.26zM92.98 218.87h1.15v1.26h-1.15zM93.87 218.87h1.26v1.26h-1.26zM94.87 218.98h1.26v1.04h-1.26zM126.98 218.87h1.04v1.26h-1.04zM140.98 218.98h1.15v1.15h-1.15zM141.87 218.87h1.15v1.26h-1.15zM144.87 218.87h1.15v1.15h-1.15zM182.98 218.98h1.04v1.04h-1.04zM43.87 219.98h1.15v1.04h-1.15zM48.98 219.98h1.15v1.15h-1.15zM49.87 219.98h1.15v1.04h-1.15zM51.98 219.98h1.04v1.04h-1.04zM54.98 219.87h1.04v1.26h-1.04zM57.98 219.98h1.15v1.15h-1.15zM84.98 219.87h1.15v1.15h-1.15zM86.87 219.87h1.26v1.26h-1.26zM87.87 219.98h1.15v1.04h-1.15zM90.98 219.98h1.04v1.04h-1.04zM92.98 219.87h1.15v1.15h-1.15zM93.87 219.87h1.15v1.15h-1.15zM96.98 219.98h1.04v1.04h-1.04zM99.98 219.98h1.15v1.04h-1.15zM100.87 219.98h1.15v1.04h-1.15zM106.98 219.98h1.04v1.04h-1.04zM120.98 219.98h1.04v1.04h-1.04zM122.98 219.98h1.04v1.04h-1.04zM125.98 219.98h1.15v1.04h-1.15zM128.87 219.87h1.26v1.26h-1.26zM129.87 219.87h1.26v1.15h-1.26zM139.87 219.98h1.26v1.15h-1.26zM140.87 219.87h1.26v1.26h-1.26zM141.87 219.87h1.15v1.15h-1.15zM45.98 220.98h1.15v1.04h-1.15zM46.87 220.98h1.15v1.15h-1.15zM48.98 220.87h1.04v1.26h-1.04zM50.98 220.98h1.04v1.15h-1.04zM53.98 220.98h1.15v1.15h-1.15zM54.87 220.87h1.26v1.26h-1.26zM55.87 220.98h1.26v1.04h-1.26zM56.87 220.98h1.26v1.15h-1.26zM57.87 220.87h1.26v1.26h-1.26zM58.87 220.87h1.15v1.26h-1.15zM65.87 220.87h1.26v1.26h-1.26zM66.87 220.98h1.26v1.15h-1.26zM69.87 220.87h1.15v1.15h-1.15zM86.98 220.87h1.04v1.15h-1.04zM88.98 220.98h1.04v1.04h-1.04zM103.98 220.98h1.04v1.04h-1.04zM107.98 220.98h1.04v1.04h-1.04zM126.98 220.87h1.15v1.15h-1.15zM128.87 220.87h1.15v1.15h-1.15zM142.98 220.98h1.04v1.04h-1.04zM145.87 220.98h1.15v1.04h-1.15zM46.98 221.87h1.04v1.15h-1.04zM48.98 221.87h1.15v1.15h-1.15zM49.87 221.98h1.26v1.04h-1.26zM50.87 221.87h1.15v1.15h-1.15zM53.98 221.87h1.15v1.15h-1.15zM54.87 221.87h1.15v1.15h-1.15zM57.87 221.87h1.26v1.26h-1.26zM61.87 221.87h1.15v1.15h-1.15zM65.98 221.87h1.15v1.15h-1.15zM70.98 221.98h1.04v1.04h-1.04zM73.87 221.87h1.15v1.26h-1.15zM77.98 221.98h1.04v1.15h-1.04zM84.98 221.98h1.04v1.04h-1.04zM89.98 221.98h1.04v1.15h-1.04zM97.98 221.98h1.04v1.04h-1.04zM105.98 221.98h1.04v1.04h-1.04zM124.98 221.98h1.04v1.15h-1.04zM127.98 221.87h1.04v1.15h-1.04zM129.98 221.98h1.15v1.15h-1.15zM47.98 222.98h1.04v1.04h-1.04zM57.98 222.87h1.04v1.15h-1.04zM59.98 222.98h1.15v1.04h-1.15zM62.98 222.98h1.15v1.04h-1.15zM67.98 222.98h1.15v1.15h-1.15zM73.98 222.87h1.15v1.15h-1.15zM74.87 222.98h1.26v1.04h-1.26zM77.87 222.87h1.26v1.15h-1.26zM80.98 222.98h1.15v1.04h-1.15zM81.87 222.98h1.26v1.15h-1.26zM82.87 222.98h1.15v1.04h-1.15zM85.98 222.98h1.15v1.15h-1.15zM86.87 222.98h1.15v1.04h-1.15zM102.98 222.98h1.04v1.04h-1.04zM124.98 222.87h1.04v1.15h-1.04zM129.98 222.87h1.15v1.26h-1.15zM130.87 222.87h1.26v1.15h-1.26zM133.98 222.87h1.04v1.26h-1.04zM138.98 222.87h1.15v1.15h-1.15zM142.98 222.98h1.04v1.04h-1.04zM144.98 222.98h1.04v1.04h-1.04zM45.98 223.98h1.04v1.04h-1.04zM61.98 223.98h1.04v1.04h-1.04zM64.87 223.98h1.15v1.04h-1.15zM66.98 223.98h1.15v1.04h-1.15zM67.87 223.87h1.26v1.26h-1.26zM68.87 223.87h1.26v1.15h-1.26zM69.87 223.98h1.26v1.04h-1.26zM71.87 223.98h1.15v1.04h-1.15zM81.98 223.87h1.04v1.15h-1.04zM85.98 223.87h1.04v1.15h-1.04zM89.98 223.87h1.04v1.15h-1.04zM92.98 223.98h1.04v1.04h-1.04zM128.98 223.98h1.15v1.04h-1.15zM129.87 223.87h1.15v1.15h-1.15zM132.87 223.98h1.26v1.15h-1.26zM134.87 223.98h1.26v1.15h-1.26zM135.87 223.87h1.15v1.26h-1.15zM146.98 223.98h1.04v1.04h-1.04zM41.98 224.98h1.04v1.04h-1.04zM52.98 224.98h1.04v1.04h-1.04zM59.98 224.98h1.04v1.04h-1.04zM67.98 224.87h1.04v1.15h-1.04zM122.98 224.98h1.04v1.04h-1.04zM130.98 224.98h1.15v1.04h-1.15zM134.98 224.87h1.15v1.26h-1.15zM135.87 224.87h1.26v1.15h-1.26zM139.98 224.98h1.04v1.04h-1.04zM57.98 225.98h1.04v1.04h-1.04zM68.98 225.98h1.04v1.04h-1.04zM71.98 225.98h1.04v1.04h-1.04zM125.98 225.98h1.04v1.04h-1.04zM133.87 225.98h1.26v1.15h-1.26zM138.98 225.98h1.04v1.15h-1.04zM44.98 226.98h1.04v1.04h-1.04zM61.98 226.98h1.04v1.15h-1.04zM81.98 226.98h1.04v1.04h-1.04zM83.98 226.98h1.04v1.04h-1.04zM89.98 226.98h1.04v1.04h-1.04zM128.98 226.98h1.04v1.04h-1.04zM130.98 226.98h1.04v1.04h-1.04zM132.98 226.87h1.15v1.15h-1.15zM133.87 226.87h1.15v1.15h-1.15zM136.98 226.98h1.04v1.04h-1.04zM138.98 226.87h1.15v1.15h-1.15zM139.87 226.98h1.15v1.04h-1.15zM141.98 226.98h1.04v1.15h-1.04zM144.98 226.98h1.04v1.04h-1.04zM56.98 227.98h1.04v1.04h-1.04zM61.98 227.87h1.04v1.15h-1.04zM63.98 227.98h1.04v1.04h-1.04zM73.98 227.98h1.04v1.04h-1.04zM96.98 227.98h1.04v1.04h-1.04zM141.98 227.87h1.04v1.15h-1.04zM130.98 229.98h1.04v1.04h-1.04zM132.98 229.98h1.04v1.04h-1.04zM134.98 229.87h1.04v1.15h-1.04zM129.98 230.98h1.04v1.04h-1.04zM130.98 232.98h1.04v1.04h-1.04zM139.98 232.98h1.04v1.04h-1.04z"/>
<path fill="#0020ff" d="M137.87 179.87h1.26v1.26h-1.26zM140.87 179.87h1.26v1.26h-1.26zM141.87 179.87h1.26v1.15h-1.26zM136.98 180.87h1.15v1.15h-1.15zM69.87 181.87h1.26v1.26h-1.26zM71.87 182.98h1.26v1.04h-1.26zM72.87 182.87h1.26v1.26h-1.26zM73.87 182.87h1.15v1.26h-1.15zM76.87 182.87h1.26v1.26h-1.26zM139.87 182.87h1.15v1.26h-1.15zM144.87 182.87h1.26v1.26h-1.26zM145.87 182.87h1.15v1.26h-1.15zM68.87 183.87h1.26v1.26h-1.26zM69.87 183.87h1.26v1.26h-1.26zM76.98 183.87h1.15v1.26h-1.15zM78.87 183.98h1.26v1.15h-1.26zM82.98 183.98h1.15v1.15h-1.15zM132.98 183.87h1.15v1.26h-1.15zM133.87 183.98h1.26v1.15h-1.26zM67.87 184.87h1.26v1.26h-1.26zM72.87 184.87h1.26v1.26h-1.26zM73.87 184.87h1.15v1.26h-1.15zM58.98 185.87h1.15v1.26h-1.15zM62.87 185.87h1.26v1.26h-1.26zM66.87 185.87h1.26v1.26h-1.26zM72.87 185.87h1.26v1.15h-1.26zM79.87 185.87h1.26v1.26h-1.26zM80.87 185.87h1.26v1.26h-1.26zM82.87 185.87h1.26v1.26h-1.26zM83.87 185.87h1.15v1.26h-1.15zM147.87 185.87h1.26v1.15h-1.26zM83.87 186.87h1.15v1.26h-1.15zM88.87 186.87h1.26v1.26h-1.26zM61.87 187.98h1.26v1.04h-1.26zM77.87 187.87h1.15v1.26h-1.15zM79.98 187.87h1.15v1.26h-1.15zM82.87 187.87h1.26v1.15h-1.26zM146.87 187.87h1.15v1.26h-1.15zM55.87 188.87h1.26v1.26h-1.26zM58.87 188.87h1.26v1.26h-1.26zM65.98 188.87h1.15v1.15h-1.15zM66.87 188.87h1.26v1.26h-1.26zM79.87 188.87h1.26v1.26h-1.26zM85.87 188.98h1.26v1.15h-1.26zM87.87 188.87h1.26v1.26h-1.26zM88.87 188.87h1.26v1.26h-1.26zM55.87 189.87h1.26v1.15h-1.26zM66.98 189.87h1.15v1.26h-1.15zM80.87 189.87h1.26v1.26h-1.26zM81.87 189.98h1.26v1.15h-1.26zM86.87 189.87h1.26v1.26h-1.26zM88.87 189.87h1.26v1.26h-1.26zM90.87 189.87h1.26v1.15h-1.26zM78.87 190.87h1.26v1.26h-1.26zM80.87 190.87h1.26v1.26h-1.26zM81.87 190.87h1.26v1.26h-1.26zM91.98 190.87h1.15v1.26h-1.15zM149.87 190.87h1.15v1.26h-1.15zM57.87 191.87h1.26v1.26h-1.26zM61.87 191.87h1.15v1.26h-1.15zM81.87 191.87h1.26v1.26h-1.26zM82.87 191.87h1.26v1.26h-1.26zM87.87 191.87h1.26v1.26h-1.26zM88.87 191.87h1.26v1.26h-1.26zM90.87 191.98h1.26v1.15h-1.26zM130.87 191.87h1.26v1.26h-1.26zM149.87 191.87h1.15v1.26h-1.15zM55.98 192.87h1.15v1.26h-1.15zM84.98 192.87h1.04v1.26h-1.04zM88.87 192.87h1.15v1.26h-1.15zM90.98 192.87h1.15v1.26h-1.15zM91.87 192.87h1.26v1.26h-1.26zM130.87 192.87h1.26v1.26h-1.26zM149.87 192.87h1.26v1.15h-1.26zM53.87 193.87h1.26v1.26h-1.26zM83.87 193.98h1.26v1.15h-1.26zM129.98 193.87h1.15v1.26h-1.15zM130.87 193.87h1.26v1.26h-1.26zM87.87 194.98h1.26v1.15h-1.26zM129.87 194.87h1.26v1.26h-1.26zM147.87 194.87h1.26v1.15h-1.26zM52.98 195.98h1.15v1.15h-1.15zM93.87 195.87h1.26v1.26h-1.26zM94.87 195.87h1.26v1.26h-1.26zM95.87 195.87h1.15v1.26h-1.15zM88.87 196.87h1.26v1.26h-1.26zM89.87 196.98h1.26v1.15h-1.26zM95.87 196.87h1.26v1.26h-1.26zM97.87 196.87h1.26v1.26h-1.26zM128.87 196.87h1.26v1.26h-1.26zM51.87 197.87h1.26v1.26h-1.26zM93.98 197.87h1.15v1.26h-1.15zM94.87 197.87h1.26v1.26h-1.26zM95.87 197.87h1.26v1.26h-1.26zM127.87 197.87h1.26v1.26h-1.26zM48.98 198.98h1.15v1.15h-1.15zM95.87 198.87h1.26v1.26h-1.26zM97.87 198.87h1.15v1.26h-1.15zM127.87 198.87h1.26v1.26h-1.26zM149.87 198.87h1.26v1.26h-1.26zM95.87 199.87h1.15v1.26h-1.15zM48.98 200.87h1.15v1.26h-1.15zM91.87 200.87h1.26v1.26h-1.26zM92.87 200.87h1.26v1.26h-1.26zM94.87 200.87h1.26v1.26h-1.26zM48.87 201.87h1.26v1.15h-1.26zM91.87 201.87h1.26v1.26h-1.26zM93.87 201.87h1.26v1.26h-1.26zM94.87 201.87h1.26v1.26h-1.26zM127.87 201.98h1.26v1.15h-1.26zM47.87 202.87h1.15v1.26h-1.15zM53.87 202.87h1.26v1.26h-1.26zM93.87 202.87h1.26v1.26h-1.26zM94.87 202.87h1.26v1.26h-1.26zM46.98 203.87h1.15v1.26h-1.15zM52.87 203.87h1.26v1.26h-1.26zM53.87 203.87h1.26v1.26h-1.26zM94.87 203.87h1.26v1.26h-1.26zM95.87 203.87h1.26v1.26h-1.26zM146.87 203.87h1.15v1.26h-1.15zM46.87 204.87h1.26v1.15h-1.26zM90.98 204.87h1.15v1.15h-1.15zM146.87 204.87h1.26v1.15h-1.26zM48.87 205.98h1.26v1.15h-1.26zM49.87 205.87h1.26v1.15h-1.26zM50.87 205.98h1.26v1.15h-1.26zM51.87 205.98h1.15v1.15h-1.15zM91.98 205.87h1.15v1.15h-1.15zM126.87 205.87h1.26v1.26h-1.26zM88.87 206.87h1.26v1.26h-1.26zM127.87 206.87h1.26v1.15h-1.26zM44.87 207.87h1.26v1.26h-1.26zM50.87 207.87h1.15v1.15h-1.15zM88.87 207.87h1.26v1.26h-1.26zM89.87 207.87h1.26v1.26h-1.26zM145.98 207.87h1.04v1.26h-1.04zM45.87 208.87h1.26v1.15h-1.26zM49.98 208.87h1.04v1.26h-1.04zM90.87 208.87h1.15v1.26h-1.15zM93.98 208.87h1.04v1.26h-1.04zM127.87 208.98h1.26v1.15h-1.26zM128.87 208.87h1.26v1.26h-1.26zM145.87 208.87h1.26v1.26h-1.26zM146.87 208.98h1.26v1.15h-1.26zM87.98 209.98h1.04v1.15h-1.04zM89.98 209.87h1.15v1.26h-1.15zM90.87 209.87h1.26v1.26h-1.26zM146.87 209.87h1.26v1.26h-1.26zM47.87 210.87h1.26v1.26h-1.26zM48.87 210.98h1.26v1.15h-1.26zM89.87 210.87h1.26v1.26h-1.26zM90.87 210.87h1.15v1.26h-1.15zM146.87 210.87h1.15v1.26h-1.15zM51.98 211.87h1.04v1.26h-1.04zM86.87 211.87h1.26v1.26h-1.26zM87.87 211.87h1.26v1.26h-1.26zM89.87 211.87h1.26v1.26h-1.26zM92.87 211.87h1.26v1.15h-1.26zM94.87 211.87h1.26v1.26h-1.26zM127.98 211.98h1.15v1.15h-1.15zM51.98 212.87h1.15v1.26h-1.15zM89.87 212.87h1.26v1.26h-1.26zM90.87 212.87h1.26v1.26h-1.26zM58.98 213.87h1.15v1.15h-1.15zM90.87 213.87h1.26v1.26h-1.26zM127.98 213.87h1.15v1.26h-1.15zM90.87 214.87h1.26v1.26h-1.26zM142.98 214.87h1.15v1.26h-1.15zM143.87 214.87h1.26v1.26h-1.26zM58.87 215.98h1.26v1.15h-1.26zM88.87 215.98h1.26v1.15h-1.26zM89.87 215.87h1.26v1.26h-1.26zM91.87 215.87h1.26v1.26h-1.26zM92.87 215.98h1.26v1.15h-1.26zM127.87 215.87h1.26v1.26h-1.26zM141.87 215.98h1.26v1.15h-1.26zM144.87 215.87h1.26v1.26h-1.26zM58.87 216.87h1.26v1.26h-1.26zM60.87 216.98h1.26v1.04h-1.26zM61.87 216.98h1.26v1.15h-1.26zM75.87 216.87h1.15v1.26h-1.15zM79.87 216.87h1.26v1.15h-1.26zM82.98 216.87h1.15v1.15h-1.15zM87.98 216.87h1.15v1.26h-1.15zM91.98 216.87h1.15v1.26h-1.15zM142.87 216.87h1.26v1.26h-1.26zM61.98 217.87h1.15v1.26h-1.15zM143.87 217.87h1.26v1.26h-1.26zM61.87 218.87h1.26v1.26h-1.26zM82.87 218.98h1.26v1.15h-1.26zM84.87 218.98h1.26v1.15h-1.26zM85.87 218.98h1.26v1.15h-1.26zM129.87 218.87h1.15v1.26h-1.15zM138.87 218.87h1.15v1.26h-1.15zM63.98 219.87h1.04v1.26h-1.04zM65.98 219.87h1.04v1.26h-1.04zM69.98 219.87h1.04v1.26h-1.04zM71.98 219.87h1.15v1.26h-1.15zM78.87 219.87h1.26v1.15h-1.26zM79.87 219.87h1.26v1.26h-1.26zM138.87 219.87h1.26v1.15h-1.26zM72.87 220.87h1.26v1.26h-1.26zM131.98 220.87h1.15v1.26h-1.15zM136.87 221.87h1.26v1.26h-1.26zM137.87 221.87h1.26v1.15h-1.26zM131.87 222.87h1.15v1.26h-1.15zM135.98 222.87h1.15v1.26h-1.15zM139.87 222.87h1.15v1.15h-1.15zM132.87 224.87h1.15v1.26h-1.15z"/>
<path fill="#0041ff" d="M139.98 161.98h1.15v1.15h-1.15zM148.87 161.98h1.26v1.04h-1.26zM84.98 162.98h1.04v1.04h-1.04zM147.98 163.87h1.04v1.15h-1.04zM143.98 164.98h1.15v1.04h-1.15zM136.98 165.87h1.04v1.15h-1.04zM146.98 165.87h1.15v1.15h-1.15zM153.98 165.98h1.04v1.04h-1.04zM76.98 166.98h1.04v1.15h-1.04zM59.98 167.98h1.04v1.04h-1.04zM134.98 167.98h1.04v1.04h-1.04zM143.98 168.98h1.04v1.04h-1.04zM57.98 169.98h1.15v1.04h-1.15zM64.87 169.98h1.15v1.15h-1.15zM149.98 169.98h1.04v1.15h-1.04zM154.98 169.98h1.04v1.15h-1.04zM69.98 170.98h1.15v1.15h-1.15zM149.98 170.87h1.15v1.15h-1.15zM130.98 171.98h1.04v1.04h-1.04zM137.98 171.98h1.04v1.04h-1.04zM146.87 171.98h1.15v1.04h-1.15zM153.87 171.87h1.15v1.15h-1.15zM48.87 172.98h1.15v1.04h-1.15zM147.98 172.98h1.04v1.15h-1.04zM151.98 172.98h1.04v1.04h-1.04zM155.98 172.98h1.04v1.04h-1.04zM89.98 173.98h1.04v1.04h-1.04zM131.87 173.98h1.15v1.04h-1.15zM136.98 173.98h1.04v1.04h-1.04zM145.87 173.87h1.15v1.15h-1.15zM80.87 174.98h1.15v1.15h-1.15zM91.98 174.87h1.15v1.26h-1.15zM42.98 175.98h1.04v1.15h-1.04zM56.98 175.98h1.15v1.04h-1.15zM82.98 175.87h1.15v1.15h-1.15zM139.87 175.87h1.15v1.15h-1.15zM141.98 175.98h1.04v1.04h-1.04zM61.98 176.98h1.15v1.04h-1.15zM74.98 176.87h1.04v1.15h-1.04zM80.87 176.87h1.15v1.15h-1.15zM83.98 176.87h1.04v1.15h-1.04zM89.98 176.98h1.04v1.15h-1.04zM133.87 176.98h1.15v1.04h-1.15zM137.98 176.98h1.15v1.04h-1.15zM152.87 176.98h1.26v1.04h-1.26zM153.87 176.98h1.15v1.15h-1.15zM55.98 177.98h1.15v1.15h-1.15zM67.98 177.98h1.15v1.04h-1.15zM55.98 178.87h1.15v1.15h-1.15zM61.98 178.98h1.15v1.15h-1.15zM87.98 178.98h1.04v1.15h-1.04zM150.87 178.87h1.26v1.15h-1.26zM47.87 179.98h1.15v1.04h-1.15zM52.98 179.87h1.04v1.15h-1.04zM87.87 179.87h1.15v1.15h-1.15zM132.98 179.87h1.15v1.15h-1.15zM43.98 180.98h1.15v1.15h-1.15zM93.87 180.98h1.15v1.04h-1.15zM153.98 180.98h1.15v1.15h-1.15zM43.98 181.87h1.04v1.15h-1.04zM95.98 181.87h1.04v1.15h-1.04zM137.98 181.87h1.15v1.26h-1.15zM138.87 181.87h1.26v1.26h-1.26zM42.98 182.98h1.04v1.04h-1.04zM45.98 182.98h1.04v1.04h-1.04zM138.87 182.87h1.26v1.26h-1.26zM143.87 182.98h1.26v1.15h-1.26zM38.98 183.98h1.04v1.04h-1.04zM96.87 183.87h1.15v1.15h-1.15zM140.87 183.98h1.26v1.15h-1.26zM144.87 183.87h1.26v1.26h-1.26zM154.98 183.98h1.04v1.04h-1.04zM49.98 184.98h1.15v1.15h-1.15zM51.87 184.98h1.26v1.04h-1.26zM91.98 184.98h1.04v1.15h-1.04zM107.98 184.98h1.04v1.04h-1.04zM146.87 184.87h1.26v1.26h-1.26zM155.98 184.98h1.04v1.15h-1.04zM49.87 185.87h1.15v1.15h-1.15zM52.98 185.87h1.15v1.15h-1.15zM69.98 185.87h1.15v1.26h-1.15zM92.87 185.98h1.15v1.04h-1.15zM146.87 185.87h1.26v1.26h-1.26zM50.98 186.98h1.04v1.15h-1.04zM70.87 187.87h1.15v1.26h-1.15zM73.87 187.87h1.26v1.26h-1.26zM74.87 187.87h1.26v1.26h-1.26zM76.87 187.87h1.26v1.26h-1.26zM102.98 187.98h1.04v1.15h-1.04zM109.87 187.98h1.15v1.04h-1.15zM129.98 187.98h1.04v1.04h-1.04zM143.87 187.98h1.26v1.15h-1.26zM52.98 188.98h1.04v1.04h-1.04zM70.87 188.87h1.26v1.26h-1.26zM71.87 188.98h1.26v1.15h-1.26zM99.98 188.98h1.04v1.15h-1.04zM127.98 188.98h1.04v1.15h-1.04zM46.98 189.98h1.04v1.15h-1.04zM59.87 189.87h1.26v1.26h-1.26zM67.87 189.87h1.26v1.26h-1.26zM73.87 189.87h1.26v1.26h-1.26zM77.87 189.87h1.26v1.26h-1.26zM118.98 189.98h1.04v1.04h-1.04zM60.87 190.87h1.26v1.26h-1.26zM63.87 190.87h1.26v1.26h-1.26zM73.87 190.87h1.26v1.15h-1.26zM83.87 190.87h1.26v1.26h-1.26zM85.87 190.87h1.26v1.26h-1.26zM88.87 190.87h1.26v1.26h-1.26zM100.98 190.98h1.04v1.04h-1.04zM78.98 191.87h1.15v1.26h-1.15zM99.98 191.98h1.04v1.04h-1.04zM56.87 192.87h1.26v1.26h-1.26zM57.87 192.87h1.26v1.26h-1.26zM61.87 192.87h1.26v1.26h-1.26zM63.87 192.87h1.26v1.26h-1.26zM80.87 192.87h1.26v1.26h-1.26zM131.87 192.87h1.26v1.26h-1.26zM82.87 193.87h1.26v1.26h-1.26zM99.87 193.98h1.15v1.04h-1.15zM147.87 193.87h1.26v1.26h-1.26zM150.98 193.87h1.04v1.15h-1.04zM43.98 194.87h1.15v1.15h-1.15zM59.87 194.87h1.26v1.26h-1.26zM60.87 194.87h1.26v1.26h-1.26zM146.87 194.87h1.26v1.26h-1.26zM55.87 195.87h1.26v1.26h-1.26zM57.87 195.87h1.26v1.26h-1.26zM60.87 195.87h1.26v1.26h-1.26zM81.87 195.98h1.15v1.04h-1.15zM83.98 195.87h1.15v1.26h-1.15zM86.87 195.87h1.26v1.26h-1.26zM87.87 195.87h1.26v1.26h-1.26zM105.98 195.98h1.15v1.15h-1.15zM125.98 195.87h1.04v1.26h-1.04zM146.87 195.87h1.15v1.26h-1.15zM53.87 196.87h1.26v1.26h-1.26zM103.98 196.98h1.04v1.15h-1.04zM121.87 196.98h1.15v1.04h-1.15zM129.87 196.87h1.15v1.26h-1.15zM147.87 196.98h1.26v1.15h-1.26zM54.87 197.87h1.15v1.26h-1.15zM85.98 197.87h1.15v1.26h-1.15zM86.87 197.87h1.26v1.26h-1.26zM40.98 198.98h1.15v1.04h-1.15zM50.87 198.87h1.26v1.26h-1.26zM87.87 198.87h1.26v1.26h-1.26zM93.87 198.87h1.26v1.26h-1.26zM128.87 198.87h1.26v1.26h-1.26zM50.87 199.87h1.26v1.26h-1.26zM53.87 199.98h1.26v1.15h-1.26zM91.87 199.87h1.26v1.26h-1.26zM93.87 199.87h1.26v1.26h-1.26zM128.87 199.87h1.26v1.26h-1.26zM151.87 199.87h1.15v1.15h-1.15zM39.98 200.98h1.15v1.15h-1.15zM52.87 200.87h1.26v1.26h-1.26zM90.87 200.87h1.26v1.26h-1.26zM42.98 201.87h1.15v1.15h-1.15zM50.87 201.87h1.26v1.15h-1.26zM52.87 201.87h1.26v1.26h-1.26zM87.87 201.87h1.26v1.26h-1.26zM100.98 201.98h1.04v1.15h-1.04zM102.98 201.98h1.04v1.04h-1.04zM124.87 201.98h1.15v1.04h-1.15zM41.98 202.98h1.04v1.15h-1.04zM54.87 202.87h1.26v1.26h-1.26zM89.87 202.87h1.26v1.26h-1.26zM127.87 202.87h1.26v1.26h-1.26zM88.87 203.87h1.26v1.26h-1.26zM124.98 203.98h1.04v1.04h-1.04zM56.87 204.98h1.26v1.15h-1.26zM58.87 204.87h1.26v1.26h-1.26zM91.87 204.87h1.26v1.26h-1.26zM104.98 204.98h1.04v1.15h-1.04zM38.87 205.98h1.15v1.04h-1.15zM85.98 205.87h1.15v1.26h-1.15zM86.87 205.87h1.26v1.26h-1.26zM100.87 205.98h1.15v1.04h-1.15zM102.98 205.98h1.04v1.04h-1.04zM128.87 205.87h1.26v1.26h-1.26zM85.87 206.87h1.26v1.26h-1.26zM105.87 207.98h1.15v1.04h-1.15zM103.87 208.87h1.15v1.15h-1.15zM144.87 208.98h1.26v1.15h-1.26zM42.98 209.87h1.04v1.15h-1.04zM82.87 209.87h1.15v1.26h-1.15zM144.87 209.87h1.26v1.26h-1.26zM55.87 210.87h1.15v1.26h-1.15zM65.87 210.87h1.15v1.26h-1.15zM81.87 210.87h1.26v1.26h-1.26zM85.87 210.87h1.26v1.26h-1.26zM98.98 210.87h1.15v1.15h-1.15zM144.87 210.87h1.26v1.26h-1.26zM43.87 211.98h1.15v1.04h-1.15zM67.98 211.87h1.15v1.26h-1.15zM85.87 211.87h1.26v1.26h-1.26zM144.87 211.87h1.26v1.26h-1.26zM39.98 212.87h1.15v1.26h-1.15zM41.87 212.98h1.15v1.15h-1.15zM65.87 212.87h1.15v1.26h-1.15zM87.87 212.87h1.26v1.26h-1.26zM124.98 212.98h1.15v1.15h-1.15zM147.98 212.98h1.04v1.04h-1.04zM41.98 213.87h1.15v1.15h-1.15zM54.87 213.87h1.15v1.26h-1.15zM85.87 213.87h1.26v1.15h-1.26zM143.87 213.87h1.26v1.26h-1.26zM60.87 214.98h1.26v1.04h-1.26zM72.87 214.98h1.26v1.15h-1.26zM75.87 214.87h1.26v1.26h-1.26zM77.87 214.87h1.26v1.26h-1.26zM81.87 214.87h1.26v1.15h-1.26zM82.87 214.87h1.26v1.26h-1.26zM77.98 215.87h1.15v1.26h-1.15zM79.87 215.87h1.15v1.26h-1.15zM84.87 215.87h1.26v1.26h-1.26zM122.98 215.98h1.04v1.04h-1.04zM63.87 216.87h1.26v1.26h-1.26zM65.87 216.87h1.26v1.26h-1.26zM66.87 216.87h1.26v1.26h-1.26zM74.87 216.87h1.26v1.26h-1.26zM51.98 217.87h1.15v1.15h-1.15zM62.87 217.87h1.26v1.26h-1.26zM64.87 217.87h1.26v1.26h-1.26zM73.87 217.87h1.26v1.26h-1.26zM98.87 217.98h1.15v1.04h-1.15zM126.98 217.98h1.04v1.15h-1.04zM77.87 218.87h1.26v1.26h-1.26zM79.87 218.98h1.26v1.15h-1.26zM95.87 218.87h1.15v1.15h-1.15zM136.87 218.87h1.26v1.26h-1.26zM42.98 219.98h1.15v1.04h-1.15zM76.87 219.87h1.26v1.26h-1.26zM104.98 219.98h1.04v1.04h-1.04zM132.87 219.87h1.26v1.26h-1.26zM133.87 219.87h1.26v1.26h-1.26zM98.98 220.98h1.04v1.04h-1.04zM134.87 220.87h1.26v1.26h-1.26zM136.87 220.87h1.26v1.26h-1.26zM139.98 220.87h1.15v1.26h-1.15zM144.98 220.98h1.15v1.04h-1.15zM56.98 221.87h1.15v1.15h-1.15zM52.98 222.98h1.04v1.04h-1.04zM68.87 222.98h1.15v1.15h-1.15zM78.87 222.98h1.15v1.04h-1.15zM89.98 222.87h1.04v1.26h-1.04zM63.98 223.87h1.15v1.15h-1.15zM70.87 223.98h1.26v1.04h-1.26zM75.98 223.87h1.04v1.15h-1.04zM136.87 224.98h1.15v1.04h-1.15zM129.98 225.98h1.04v1.04h-1.04zM134.87 225.87h1.15v1.15h-1.15zM137.98 227.98h1.04v1.04h-1.04zM134.98 228.98h1.04v1.15h-1.04z"/>
<path fill="#0061ff" d="M138.98 168.87h1.15v1.15h-1.15zM139.98 169.87h1.15v1.15h-1.15zM141.87 169.98h1.15v1.15h-1.15zM140.98 171.87h1.15v1.15h-1.15zM139.87 172.98h1.15v1.04h-1.15zM62.98 175.87h1.04v1.26h-1.04zM79.98 176.98h1.15v1.15h-1.15zM142.98 176.98h1.15v1.04h-1.15zM146.87 176.98h1.26v1.04h-1.26zM63.98 177.87h1.15v1.26h-1.15zM134.98 177.98h1.15v1.04h-1.15zM135.87 177.98h1.26v1.15h-1.26zM141.87 177.98h1.15v1.15h-1.15zM70.87 178.98h1.26v1.15h-1.26zM76.87 178.98h1.26v1.15h-1.26zM141.87 178.87h1.26v1.26h-1.26zM144.87 178.98h1.26v1.04h-1.26zM145.87 178.87h1.26v1.26h-1.26zM62.87 179.87h1.26v1.15h-1.26zM76.98 179.87h1.04v1.26h-1.04zM135.87 179.87h1.26v1.15h-1.26zM136.87 179.98h1.26v1.15h-1.26zM142.87 179.87h1.26v1.26h-1.26zM145.98 179.87h1.15v1.15h-1.15zM146.87 179.87h1.26v1.26h-1.26zM57.98 180.98h1.15v1.15h-1.15zM60.87 180.98h1.15v1.15h-1.15zM63.98 180.87h1.15v1.15h-1.15zM64.87 180.98h1.15v1.04h-1.15zM142.98 180.87h1.15v1.26h-1.15zM146.98 180.87h1.15v1.26h-1.15zM147.87 180.87h1.26v1.15h-1.26zM53.87 181.87h1.26v1.15h-1.26zM54.87 181.87h1.26v1.15h-1.26zM55.87 181.87h1.15v1.26h-1.15zM58.87 181.87h1.26v1.15h-1.26zM66.87 181.87h1.15v1.26h-1.15zM70.87 181.87h1.15v1.26h-1.15zM73.87 181.87h1.26v1.26h-1.26zM76.87 181.87h1.26v1.26h-1.26zM79.98 181.87h1.04v1.26h-1.04zM81.98 181.87h1.04v1.26h-1.04zM63.87 182.98h1.26v1.15h-1.26zM64.87 182.98h1.15v1.15h-1.15zM75.98 182.87h1.15v1.15h-1.15zM79.98 182.87h1.04v1.26h-1.04zM132.87 182.87h1.15v1.26h-1.15zM57.87 183.87h1.26v1.26h-1.26zM59.87 183.98h1.26v1.04h-1.26zM60.87 183.98h1.26v1.15h-1.26zM63.98 183.87h1.15v1.15h-1.15zM65.87 183.98h1.26v1.04h-1.26zM66.87 183.87h1.26v1.26h-1.26zM67.87 183.98h1.26v1.15h-1.26zM72.98 183.87h1.15v1.26h-1.15zM73.87 183.87h1.26v1.26h-1.26zM74.87 183.98h1.15v1.04h-1.15zM142.87 183.87h1.26v1.26h-1.26zM148.98 183.87h1.15v1.15h-1.15zM149.87 183.98h1.15v1.15h-1.15zM56.87 184.87h1.26v1.26h-1.26zM58.87 184.87h1.15v1.26h-1.15zM60.98 184.87h1.15v1.15h-1.15zM61.87 184.87h1.26v1.26h-1.26zM75.98 184.98h1.15v1.15h-1.15zM76.87 184.87h1.15v1.15h-1.15zM151.98 184.87h1.15v1.26h-1.15zM64.87 185.87h1.26v1.26h-1.26zM85.98 185.98h1.15v1.04h-1.15zM131.98 185.87h1.15v1.15h-1.15zM133.87 185.87h1.26v1.26h-1.26zM144.87 185.87h1.26v1.26h-1.26zM150.87 185.98h1.26v1.15h-1.26zM55.98 186.98h1.04v1.15h-1.04zM57.98 186.98h1.15v1.04h-1.15zM63.87 186.87h1.26v1.15h-1.26zM86.98 186.87h1.15v1.26h-1.15zM91.98 186.87h1.04v1.15h-1.04zM137.87 186.87h1.26v1.26h-1.26zM54.87 187.98h1.26v1.15h-1.26zM55.87 187.87h1.15v1.26h-1.15zM62.87 187.87h1.15v1.26h-1.15zM67.87 187.87h1.26v1.26h-1.26zM84.87 187.98h1.15v1.15h-1.15zM92.98 187.98h1.15v1.15h-1.15zM93.87 187.98h1.26v1.15h-1.26zM136.98 187.87h1.15v1.26h-1.15zM93.87 188.87h1.26v1.26h-1.26zM151.98 188.98h1.15v1.15h-1.15zM54.98 189.87h1.15v1.26h-1.15zM130.98 189.87h1.04v1.26h-1.04zM66.87 190.87h1.26v1.26h-1.26zM74.87 190.87h1.26v1.26h-1.26zM92.87 190.87h1.26v1.15h-1.26zM52.98 191.98h1.15v1.15h-1.15zM53.87 191.98h1.15v1.15h-1.15zM76.87 191.87h1.15v1.26h-1.15zM93.98 191.87h1.04v1.26h-1.04zM47.98 192.87h1.15v1.26h-1.15zM49.87 192.98h1.26v1.04h-1.26zM50.87 192.87h1.26v1.15h-1.26zM94.87 192.98h1.15v1.15h-1.15zM150.87 192.98h1.26v1.15h-1.26zM73.87 193.87h1.26v1.26h-1.26zM89.87 193.98h1.26v1.15h-1.26zM91.87 193.87h1.26v1.15h-1.26zM94.98 193.87h1.15v1.26h-1.15zM95.87 193.98h1.15v1.15h-1.15zM89.87 194.87h1.15v1.15h-1.15zM93.98 194.98h1.15v1.15h-1.15zM95.87 194.87h1.26v1.26h-1.26zM96.87 194.98h1.26v1.04h-1.26zM43.87 196.98h1.26v1.04h-1.26zM46.98 196.98h1.15v1.15h-1.15zM47.87 196.87h1.26v1.26h-1.26zM49.87 196.98h1.26v1.15h-1.26zM93.87 196.87h1.26v1.26h-1.26zM99.87 196.98h1.26v1.15h-1.26zM127.98 196.87h1.15v1.26h-1.15zM145.87 196.87h1.26v1.26h-1.26zM149.87 196.98h1.26v1.15h-1.26zM46.87 197.87h1.26v1.15h-1.26zM47.87 197.87h1.15v1.15h-1.15zM79.87 197.87h1.26v1.26h-1.26zM98.87 197.87h1.26v1.15h-1.26zM126.98 197.98h1.15v1.15h-1.15zM42.87 198.98h1.26v1.15h-1.26zM44.87 198.87h1.15v1.15h-1.15zM80.87 198.87h1.26v1.26h-1.26zM126.98 198.87h1.15v1.15h-1.15zM147.87 198.87h1.26v1.26h-1.26zM86.87 199.87h1.26v1.26h-1.26zM97.98 199.87h1.15v1.15h-1.15zM149.98 199.87h1.15v1.15h-1.15zM150.87 199.87h1.26v1.15h-1.26zM55.87 200.87h1.26v1.26h-1.26zM70.87 200.87h1.26v1.26h-1.26zM71.87 200.87h1.26v1.26h-1.26zM98.98 200.87h1.15v1.26h-1.15zM129.87 200.87h1.26v1.26h-1.26zM57.87 202.87h1.26v1.26h-1.26zM125.98 202.98h1.15v1.04h-1.15zM126.87 202.87h1.26v1.15h-1.26zM47.87 203.87h1.15v1.26h-1.15zM43.87 204.87h1.15v1.26h-1.15zM49.98 204.98h1.04v1.15h-1.04zM125.98 204.98h1.15v1.15h-1.15zM58.87 205.87h1.26v1.26h-1.26zM97.98 205.98h1.15v1.15h-1.15zM48.98 206.87h1.04v1.15h-1.04zM54.87 206.87h1.26v1.26h-1.26zM90.87 206.98h1.15v1.15h-1.15zM97.87 206.87h1.26v1.15h-1.26zM126.98 206.87h1.15v1.26h-1.15zM129.87 206.87h1.26v1.26h-1.26zM43.98 207.98h1.15v1.15h-1.15zM45.87 207.87h1.26v1.26h-1.26zM46.87 207.98h1.15v1.15h-1.15zM49.98 207.98h1.15v1.15h-1.15zM57.87 207.87h1.26v1.26h-1.26zM126.98 207.87h1.04v1.26h-1.04zM129.87 207.87h1.26v1.26h-1.26zM46.87 208.87h1.15v1.26h-1.15zM66.87 208.87h1.26v1.26h-1.26zM124.87 208.87h1.15v1.26h-1.15zM148.87 208.98h1.26v1.15h-1.26zM92.87 209.98h1.26v1.15h-1.26zM101.87 209.87h1.26v1.26h-1.26zM127.98 209.87h1.15v1.15h-1.15zM147.87 209.87h1.26v1.15h-1.26zM124.87 210.87h1.26v1.15h-1.26zM81.87 211.87h1.26v1.26h-1.26zM90.87 211.87h1.26v1.26h-1.26zM91.87 211.98h1.26v1.15h-1.26zM125.98 211.87h1.04v1.26h-1.04zM128.87 211.87h1.26v1.26h-1.26zM49.98 212.87h1.04v1.26h-1.04zM73.87 212.87h1.26v1.26h-1.26zM128.87 212.87h1.26v1.26h-1.26zM49.98 213.87h1.15v1.26h-1.15zM50.87 213.98h1.26v1.15h-1.26zM61.98 213.87h1.15v1.26h-1.15zM64.87 213.87h1.26v1.26h-1.26zM66.87 214.87h1.26v1.26h-1.26zM89.98 214.87h1.15v1.26h-1.15zM93.98 214.87h1.04v1.26h-1.04zM57.98 215.87h1.15v1.26h-1.15zM72.87 215.87h1.26v1.26h-1.26zM93.87 215.87h1.15v1.15h-1.15zM98.98 215.87h1.15v1.15h-1.15zM99.87 215.87h1.26v1.26h-1.26zM57.98 216.87h1.15v1.15h-1.15zM69.87 216.87h1.26v1.26h-1.26zM71.87 216.87h1.26v1.15h-1.26zM80.87 216.98h1.15v1.15h-1.15zM88.87 216.87h1.26v1.26h-1.26zM89.87 216.87h1.15v1.15h-1.15zM95.87 216.87h1.26v1.26h-1.26zM53.87 217.98h1.26v1.15h-1.26zM86.98 217.98h1.15v1.15h-1.15zM90.98 217.98h1.15v1.04h-1.15zM128.98 217.98h1.15v1.15h-1.15zM136.87 217.87h1.26v1.26h-1.26zM141.98 217.87h1.15v1.26h-1.15zM144.87 217.87h1.15v1.26h-1.15zM128.98 218.87h1.15v1.26h-1.15zM133.87 218.87h1.26v1.26h-1.26zM134.87 218.87h1.26v1.26h-1.26zM143.98 218.87h1.15v1.15h-1.15zM58.87 219.87h1.26v1.26h-1.26zM59.87 219.87h1.26v1.15h-1.26zM126.87 219.87h1.26v1.26h-1.26zM127.87 219.98h1.26v1.15h-1.26zM130.87 219.98h1.26v1.04h-1.26zM63.98 220.87h1.15v1.26h-1.15zM67.87 220.98h1.26v1.04h-1.26zM68.87 220.98h1.26v1.04h-1.26zM76.87 220.87h1.15v1.15h-1.15zM79.98 220.87h1.04v1.26h-1.04zM127.87 220.87h1.26v1.26h-1.26zM60.98 221.87h1.15v1.26h-1.15zM63.98 221.87h1.04v1.26h-1.04zM72.98 221.87h1.15v1.15h-1.15zM130.87 221.98h1.26v1.15h-1.26zM60.87 222.87h1.15v1.15h-1.15zM63.87 222.87h1.15v1.26h-1.15zM75.87 222.98h1.26v1.15h-1.26zM76.87 222.98h1.26v1.04h-1.26zM133.87 223.87h1.26v1.15h-1.26zM131.98 225.87h1.15v1.15h-1.15zM132.87 225.87h1.26v1.26h-1.26z"/>
<path fill="#0081ff" d="M139.87 179.98h1.26v1.15h-1.26zM140.87 180.87h1.15v1.26h-1.15zM139.87 181.87h1.26v1.26h-1.26zM141.87 181.98h1.26v1.15h-1.26zM142.87 181.87h1.15v1.26h-1.15zM68.98 182.87h1.15v1.26h-1.15zM70.87 182.87h1.26v1.26h-1.26zM77.87 182.87h1.15v1.26h-1.15zM70.87 183.87h1.15v1.26h-1.15zM146.87 183.98h1.15v1.15h-1.15zM68.87 184.87h1.26v1.15h-1.26zM70.87 184.87h1.26v1.26h-1.26zM71.87 184.98h1.26v1.15h-1.26zM78.98 184.87h1.15v1.26h-1.15zM79.87 184.87h1.26v1.26h-1.26zM67.87 185.87h1.15v1.26h-1.15zM71.87 185.87h1.26v1.26h-1.26zM73.87 185.87h1.15v1.26h-1.15zM77.98 185.98h1.15v1.15h-1.15zM78.87 185.87h1.26v1.26h-1.26zM81.87 185.98h1.26v1.15h-1.26zM132.87 185.87h1.26v1.26h-1.26zM70.87 186.87h1.26v1.26h-1.26zM71.87 186.87h1.15v1.15h-1.15zM76.98 186.98h1.15v1.15h-1.15zM77.87 186.87h1.26v1.26h-1.26zM79.87 186.87h1.26v1.26h-1.26zM82.87 186.87h1.26v1.26h-1.26zM87.87 186.98h1.26v1.15h-1.26zM146.87 186.87h1.15v1.26h-1.15zM58.98 187.87h1.04v1.26h-1.04zM72.98 187.98h1.15v1.15h-1.15zM83.87 187.87h1.26v1.26h-1.26zM57.87 188.98h1.26v1.15h-1.26zM59.87 188.98h1.26v1.15h-1.26zM60.87 188.87h1.15v1.26h-1.15zM80.87 188.87h1.15v1.26h-1.15zM84.87 188.87h1.26v1.26h-1.26zM86.87 188.87h1.26v1.26h-1.26zM89.87 188.98h1.26v1.15h-1.26zM148.87 188.87h1.15v1.26h-1.15zM56.87 189.87h1.26v1.26h-1.26zM79.87 189.87h1.26v1.26h-1.26zM85.87 189.87h1.26v1.26h-1.26zM87.87 189.87h1.26v1.26h-1.26zM57.87 190.87h1.15v1.26h-1.15zM77.87 190.87h1.26v1.15h-1.26zM79.87 190.87h1.26v1.26h-1.26zM82.87 190.87h1.26v1.26h-1.26zM86.87 190.87h1.26v1.26h-1.26zM87.87 190.87h1.26v1.26h-1.26zM130.87 190.87h1.26v1.26h-1.26zM56.87 191.87h1.26v1.26h-1.26zM58.87 191.98h1.15v1.15h-1.15zM80.87 191.87h1.26v1.26h-1.26zM86.98 192.87h1.15v1.26h-1.15zM87.87 192.87h1.26v1.15h-1.26zM54.87 193.98h1.26v1.15h-1.26zM68.87 193.87h1.26v1.26h-1.26zM84.87 193.87h1.15v1.26h-1.15zM88.98 193.87h1.15v1.26h-1.15zM148.87 193.87h1.15v1.26h-1.15zM61.87 194.87h1.26v1.26h-1.26zM62.87 194.87h1.26v1.15h-1.26zM74.87 194.87h1.26v1.26h-1.26zM84.87 194.87h1.26v1.26h-1.26zM94.87 194.87h1.26v1.26h-1.26zM68.87 195.87h1.26v1.26h-1.26zM88.87 195.87h1.15v1.26h-1.15zM129.87 195.87h1.26v1.26h-1.26zM52.87 196.87h1.26v1.26h-1.26zM75.87 196.87h1.26v1.26h-1.26zM76.87 196.87h1.26v1.26h-1.26zM90.87 196.87h1.15v1.26h-1.15zM148.87 196.87h1.26v1.26h-1.26zM50.87 197.87h1.26v1.26h-1.26zM52.87 197.87h1.26v1.26h-1.26zM96.87 197.87h1.26v1.26h-1.26zM97.87 197.87h1.26v1.26h-1.26zM146.87 197.87h1.26v1.26h-1.26zM149.87 197.87h1.15v1.26h-1.15zM52.87 198.87h1.15v1.26h-1.15zM59.87 198.87h1.26v1.26h-1.26zM96.87 198.87h1.26v1.15h-1.26zM95.87 200.87h1.26v1.26h-1.26zM128.98 200.87h1.15v1.26h-1.15zM148.87 200.98h1.15v1.15h-1.15zM63.87 201.87h1.15v1.26h-1.15zM71.87 201.87h1.26v1.26h-1.26zM88.87 201.98h1.26v1.15h-1.26zM89.87 201.87h1.26v1.26h-1.26zM92.87 201.87h1.26v1.26h-1.26zM52.87 202.87h1.26v1.26h-1.26zM90.87 202.87h1.26v1.26h-1.26zM50.98 203.98h1.15v1.04h-1.15zM54.87 203.87h1.26v1.26h-1.26zM60.87 203.87h1.26v1.26h-1.26zM89.87 203.87h1.26v1.15h-1.26zM90.87 203.87h1.26v1.26h-1.26zM52.98 204.87h1.15v1.15h-1.15zM57.87 204.87h1.26v1.26h-1.26zM68.87 204.87h1.26v1.26h-1.26zM61.87 205.87h1.26v1.26h-1.26zM62.87 205.87h1.26v1.26h-1.26zM77.87 205.87h1.26v1.26h-1.26zM79.87 205.87h1.26v1.26h-1.26zM87.87 205.87h1.26v1.26h-1.26zM88.87 205.87h1.26v1.26h-1.26zM89.87 205.98h1.15v1.15h-1.15zM71.87 206.87h1.26v1.26h-1.26zM86.87 206.87h1.26v1.26h-1.26zM87.87 206.87h1.26v1.26h-1.26zM89.87 206.87h1.26v1.26h-1.26zM92.98 206.87h1.04v1.26h-1.04zM145.87 206.87h1.26v1.26h-1.26zM61.87 207.87h1.26v1.26h-1.26zM66.87 207.87h1.26v1.26h-1.26zM81.87 207.87h1.26v1.26h-1.26zM87.87 207.87h1.26v1.15h-1.26zM94.87 207.87h1.15v1.15h-1.15zM52.87 208.87h1.26v1.26h-1.26zM53.87 208.98h1.15v1.04h-1.15zM55.98 208.87h1.04v1.26h-1.04zM52.87 209.87h1.15v1.26h-1.15zM130.87 209.87h1.26v1.26h-1.26zM51.87 210.87h1.26v1.26h-1.26zM52.87 210.87h1.26v1.15h-1.26zM78.87 210.87h1.26v1.26h-1.26zM86.87 210.98h1.26v1.15h-1.26zM87.87 210.87h1.26v1.26h-1.26zM88.87 210.98h1.26v1.15h-1.26zM92.98 210.87h1.04v1.26h-1.04zM93.87 211.98h1.26v1.15h-1.26zM145.87 211.87h1.26v1.15h-1.26zM52.87 212.98h1.15v1.15h-1.15zM78.87 212.87h1.26v1.26h-1.26zM88.87 212.87h1.26v1.15h-1.26zM91.87 212.87h1.15v1.26h-1.15zM144.87 212.87h1.15v1.26h-1.15zM51.87 213.87h1.26v1.26h-1.26zM56.98 213.87h1.04v1.15h-1.04zM59.87 213.87h1.15v1.26h-1.15zM80.87 213.87h1.26v1.26h-1.26zM91.87 213.87h1.26v1.26h-1.26zM51.87 214.87h1.26v1.26h-1.26zM53.87 214.87h1.26v1.26h-1.26zM54.87 214.87h1.26v1.15h-1.26zM91.87 214.87h1.15v1.26h-1.15zM127.98 214.87h1.15v1.26h-1.15zM75.87 215.87h1.15v1.26h-1.15zM82.98 215.87h1.15v1.26h-1.15zM85.87 215.98h1.26v1.15h-1.26zM86.87 215.87h1.26v1.15h-1.26zM142.87 215.87h1.26v1.26h-1.26zM143.87 215.87h1.26v1.26h-1.26zM59.87 216.87h1.26v1.26h-1.26zM135.87 216.87h1.26v1.26h-1.26zM141.87 216.87h1.26v1.26h-1.26zM80.98 217.87h1.15v1.26h-1.15zM81.87 217.98h1.15v1.15h-1.15zM83.98 217.87h1.04v1.26h-1.04zM129.87 217.87h1.15v1.26h-1.15zM64.87 218.87h1.26v1.15h-1.26zM65.87 218.87h1.26v1.26h-1.26zM67.87 218.87h1.26v1.15h-1.26zM81.87 218.87h1.26v1.26h-1.26zM60.87 219.87h1.26v1.26h-1.26zM61.87 219.87h1.15v1.26h-1.15zM72.87 219.98h1.26v1.15h-1.26zM73.87 219.87h1.26v1.26h-1.26zM77.87 219.87h1.26v1.15h-1.26zM131.87 219.87h1.26v1.26h-1.26zM60.98 220.87h1.15v1.26h-1.15zM73.87 220.87h1.26v1.26h-1.26zM74.87 220.87h1.26v1.15h-1.26zM132.87 220.87h1.26v1.15h-1.26zM137.87 220.87h1.15v1.26h-1.15zM133.98 221.87h1.15v1.26h-1.15zM134.87 221.87h1.26v1.15h-1.26zM135.87 221.87h1.26v1.26h-1.26zM138.87 221.98h1.26v1.15h-1.26z"/>
<path fill="#00a2ff" d="M70.98 169.98h1.04v1.15h-1.04zM137.98 169.98h1.04v1.04h-1.04zM138.98 172.98h1.15v1.15h-1.15zM78.98 174.98h1.15v1.15h-1.15zM65.98 175.87h1.15v1.15h-1.15zM84.87 175.87h1.15v1.15h-1.15zM147.98 175.98h1.04v1.15h-1.04zM98.87 176.98h1.26v1.04h-1.26zM132.98 177.87h1.04v1.26h-1.04zM78.87 178.98h1.15v1.04h-1.15zM79.98 179.98h1.04v1.15h-1.04zM150.98 181.87h1.04v1.26h-1.04zM135.87 182.87h1.26v1.26h-1.26zM134.87 183.87h1.26v1.26h-1.26zM129.98 184.98h1.04v1.04h-1.04zM133.87 184.87h1.26v1.26h-1.26zM68.87 186.98h1.26v1.15h-1.26zM69.87 186.87h1.26v1.26h-1.26zM80.87 186.87h1.26v1.26h-1.26zM94.98 186.87h1.04v1.26h-1.04zM133.87 186.87h1.26v1.26h-1.26zM145.87 186.87h1.26v1.26h-1.26zM144.87 187.87h1.26v1.26h-1.26zM145.87 187.87h1.26v1.26h-1.26zM67.87 188.87h1.26v1.26h-1.26zM72.87 188.87h1.26v1.26h-1.26zM74.87 188.87h1.26v1.26h-1.26zM75.87 188.87h1.26v1.26h-1.26zM77.87 188.87h1.26v1.26h-1.26zM132.87 188.87h1.26v1.26h-1.26zM145.87 188.87h1.26v1.26h-1.26zM146.87 188.87h1.26v1.26h-1.26zM147.87 188.98h1.26v1.15h-1.26zM57.87 189.87h1.26v1.26h-1.26zM60.87 189.87h1.26v1.26h-1.26zM74.87 189.87h1.26v1.26h-1.26zM75.87 189.87h1.26v1.26h-1.26zM76.87 189.87h1.26v1.26h-1.26zM84.87 189.87h1.26v1.26h-1.26zM62.87 190.87h1.26v1.15h-1.26zM64.87 190.87h1.26v1.26h-1.26zM72.87 190.87h1.26v1.26h-1.26zM148.87 190.87h1.26v1.26h-1.26zM79.87 191.87h1.26v1.26h-1.26zM96.98 191.87h1.04v1.26h-1.04zM140.87 191.87h1.26v1.26h-1.26zM58.87 192.87h1.26v1.26h-1.26zM59.87 192.98h1.26v1.15h-1.26zM60.87 192.87h1.26v1.26h-1.26zM56.87 193.87h1.26v1.15h-1.26zM62.87 193.87h1.26v1.26h-1.26zM63.87 193.87h1.26v1.26h-1.26zM131.87 193.87h1.26v1.26h-1.26zM133.87 193.87h1.26v1.26h-1.26zM54.87 194.87h1.26v1.26h-1.26zM55.87 194.87h1.15v1.26h-1.15zM57.98 194.87h1.15v1.26h-1.15zM63.87 194.87h1.26v1.15h-1.26zM86.87 194.87h1.26v1.26h-1.26zM56.87 195.98h1.26v1.15h-1.26zM84.87 195.87h1.26v1.26h-1.26zM130.87 195.87h1.26v1.15h-1.26zM54.87 196.87h1.26v1.26h-1.26zM67.87 196.87h1.26v1.26h-1.26zM84.87 196.87h1.26v1.15h-1.26zM85.87 196.87h1.26v1.26h-1.26zM87.87 197.87h1.26v1.26h-1.26zM88.87 197.87h1.26v1.26h-1.26zM89.87 197.87h1.26v1.26h-1.26zM89.87 198.87h1.26v1.26h-1.26zM51.87 199.87h1.26v1.26h-1.26zM54.87 199.87h1.26v1.26h-1.26zM63.87 199.87h1.26v1.26h-1.26zM87.87 199.87h1.26v1.26h-1.26zM89.87 199.87h1.26v1.26h-1.26zM147.87 199.87h1.15v1.26h-1.15zM54.87 200.87h1.26v1.26h-1.26zM74.87 200.87h1.26v1.26h-1.26zM87.87 200.87h1.15v1.26h-1.15zM146.87 200.87h1.26v1.26h-1.26zM51.87 201.87h1.26v1.26h-1.26zM54.87 201.87h1.26v1.26h-1.26zM88.87 202.87h1.26v1.26h-1.26zM91.87 202.87h1.26v1.26h-1.26zM92.87 202.87h1.26v1.26h-1.26zM57.98 203.87h1.15v1.26h-1.15zM62.87 203.87h1.26v1.26h-1.26zM73.87 203.87h1.26v1.26h-1.26zM93.87 203.87h1.26v1.26h-1.26zM103.98 203.87h1.04v1.15h-1.04zM53.87 204.87h1.26v1.26h-1.26zM54.87 204.87h1.26v1.26h-1.26zM55.87 204.87h1.26v1.26h-1.26zM86.87 204.87h1.26v1.26h-1.26zM87.87 204.87h1.26v1.26h-1.26zM57.87 205.87h1.26v1.26h-1.26zM73.87 205.87h1.26v1.26h-1.26zM93.87 205.87h1.26v1.15h-1.26zM94.87 205.87h1.26v1.26h-1.26zM52.87 206.98h1.26v1.15h-1.26zM40.98 207.87h1.04v1.15h-1.04zM54.98 207.87h1.15v1.15h-1.15zM56.87 207.87h1.26v1.15h-1.26zM76.87 207.87h1.26v1.26h-1.26zM97.98 208.98h1.15v1.04h-1.15zM123.98 208.98h1.15v1.15h-1.15zM40.98 209.98h1.04v1.04h-1.04zM57.87 209.87h1.26v1.26h-1.26zM65.87 209.87h1.26v1.26h-1.26zM66.87 209.87h1.26v1.15h-1.26zM81.87 209.87h1.26v1.26h-1.26zM85.87 209.87h1.15v1.26h-1.15zM54.87 210.87h1.26v1.26h-1.26zM82.87 210.87h1.26v1.26h-1.26zM54.87 211.87h1.26v1.26h-1.26zM57.87 211.87h1.26v1.26h-1.26zM46.98 212.98h1.15v1.04h-1.15zM64.87 212.87h1.26v1.26h-1.26zM67.98 212.87h1.15v1.26h-1.15zM101.87 212.98h1.15v1.04h-1.15zM34.98 213.87h1.04v1.26h-1.04zM71.87 213.87h1.15v1.26h-1.15zM75.87 213.87h1.26v1.26h-1.26zM86.87 213.87h1.26v1.26h-1.26zM128.87 213.87h1.26v1.26h-1.26zM146.98 213.98h1.04v1.04h-1.04zM64.87 214.87h1.26v1.26h-1.26zM69.87 214.87h1.15v1.26h-1.15zM71.98 214.87h1.15v1.26h-1.15zM74.87 214.87h1.26v1.26h-1.26zM79.87 214.87h1.26v1.26h-1.26zM83.87 214.87h1.26v1.26h-1.26zM87.87 214.87h1.15v1.26h-1.15zM63.87 215.87h1.26v1.26h-1.26zM64.87 215.87h1.26v1.26h-1.26zM68.98 215.87h1.15v1.26h-1.15zM69.87 215.87h1.26v1.26h-1.26zM74.87 215.87h1.26v1.26h-1.26zM125.87 215.98h1.26v1.04h-1.26zM129.87 215.98h1.26v1.15h-1.26zM67.87 216.98h1.26v1.15h-1.26zM68.87 216.87h1.26v1.26h-1.26zM140.87 216.87h1.26v1.15h-1.26zM63.87 217.87h1.26v1.26h-1.26zM67.87 217.87h1.26v1.26h-1.26zM74.87 217.87h1.26v1.26h-1.26zM69.87 218.87h1.26v1.26h-1.26zM74.87 218.87h1.26v1.26h-1.26zM75.87 218.87h1.26v1.26h-1.26zM137.87 218.87h1.26v1.26h-1.26zM74.87 219.87h1.26v1.26h-1.26zM94.98 220.98h1.04v1.04h-1.04zM135.87 220.87h1.26v1.26h-1.26z"/>
<path fill="#00c2ff" d="M72.87 178.87h1.15v1.26h-1.15zM137.98 178.98h1.15v1.15h-1.15zM63.87 179.87h1.15v1.26h-1.15zM74.87 179.87h1.15v1.15h-1.15zM59.87 181.87h1.26v1.15h-1.26zM62.98 181.98h1.04v1.15h-1.04zM77.87 181.98h1.15v1.15h-1.15zM77.87 183.87h1.26v1.15h-1.26zM79.87 183.87h1.15v1.26h-1.15zM57.87 184.87h1.26v1.15h-1.26zM80.87 184.98h1.15v1.15h-1.15zM84.87 184.98h1.15v1.04h-1.15zM134.87 184.87h1.26v1.26h-1.26zM140.87 184.87h1.26v1.26h-1.26zM149.98 184.87h1.04v1.26h-1.04zM134.87 186.87h1.26v1.26h-1.26zM138.87 186.87h1.26v1.26h-1.26zM139.87 186.87h1.26v1.26h-1.26zM134.87 187.87h1.15v1.26h-1.15zM142.98 187.87h1.15v1.26h-1.15zM148.98 187.98h1.15v1.15h-1.15zM90.87 188.87h1.15v1.26h-1.15zM134.87 188.87h1.26v1.26h-1.26zM144.87 188.87h1.26v1.26h-1.26zM68.87 189.87h1.26v1.26h-1.26zM69.87 189.87h1.26v1.26h-1.26zM70.87 189.87h1.26v1.26h-1.26zM133.87 189.87h1.26v1.26h-1.26zM134.87 189.87h1.26v1.26h-1.26zM147.87 189.87h1.26v1.26h-1.26zM149.87 189.98h1.15v1.15h-1.15zM133.87 190.87h1.26v1.26h-1.26zM145.87 190.87h1.26v1.26h-1.26zM47.98 191.87h1.04v1.26h-1.04zM55.98 191.98h1.15v1.15h-1.15zM64.87 191.87h1.26v1.26h-1.26zM91.87 191.87h1.15v1.26h-1.15zM48.87 192.98h1.26v1.04h-1.26zM76.87 192.87h1.26v1.26h-1.26zM129.87 192.87h1.26v1.26h-1.26zM146.87 192.87h1.26v1.26h-1.26zM80.87 193.87h1.26v1.26h-1.26zM92.87 193.87h1.15v1.15h-1.15zM146.87 193.87h1.26v1.26h-1.26zM58.87 194.87h1.26v1.26h-1.26zM64.87 194.87h1.26v1.26h-1.26zM128.87 195.87h1.26v1.26h-1.26zM145.87 195.87h1.26v1.26h-1.26zM41.98 196.87h1.15v1.26h-1.15zM60.87 196.87h1.26v1.26h-1.26zM80.87 196.87h1.15v1.26h-1.15zM94.87 196.87h1.26v1.26h-1.26zM96.87 196.98h1.26v1.15h-1.26zM44.98 197.87h1.15v1.26h-1.15zM45.87 197.98h1.26v1.04h-1.26zM99.87 197.87h1.15v1.15h-1.15zM57.87 198.87h1.26v1.26h-1.26zM58.87 198.87h1.26v1.26h-1.26zM79.87 198.87h1.26v1.26h-1.26zM81.87 198.87h1.26v1.15h-1.26zM45.98 199.98h1.15v1.15h-1.15zM57.87 199.87h1.26v1.26h-1.26zM58.87 199.87h1.26v1.26h-1.26zM70.87 199.87h1.26v1.26h-1.26zM127.98 199.87h1.15v1.15h-1.15zM146.98 199.87h1.15v1.26h-1.15zM56.87 200.87h1.26v1.26h-1.26zM96.87 200.98h1.15v1.15h-1.15zM47.98 201.98h1.15v1.15h-1.15zM130.87 201.87h1.26v1.26h-1.26zM148.98 201.87h1.04v1.15h-1.04zM46.98 202.98h1.15v1.15h-1.15zM80.87 202.87h1.26v1.26h-1.26zM85.98 202.87h1.15v1.26h-1.15zM86.87 202.87h1.26v1.26h-1.26zM129.87 202.87h1.26v1.26h-1.26zM128.87 203.87h1.26v1.26h-1.26zM45.98 204.98h1.15v1.15h-1.15zM59.87 204.87h1.26v1.26h-1.26zM145.87 204.87h1.26v1.26h-1.26zM59.87 205.87h1.26v1.26h-1.26zM129.87 205.87h1.26v1.26h-1.26zM130.87 205.87h1.26v1.26h-1.26zM143.87 205.87h1.26v1.26h-1.26zM57.87 206.87h1.26v1.26h-1.26zM99.87 206.87h1.15v1.15h-1.15zM90.87 207.87h1.26v1.26h-1.26zM93.87 207.98h1.26v1.15h-1.26zM61.87 208.87h1.26v1.26h-1.26zM77.87 208.87h1.26v1.26h-1.26zM84.87 208.87h1.26v1.26h-1.26zM95.98 208.98h1.04v1.15h-1.04zM129.87 208.87h1.26v1.26h-1.26zM147.87 208.87h1.26v1.26h-1.26zM58.87 209.87h1.26v1.26h-1.26zM61.87 209.87h1.26v1.26h-1.26zM77.87 209.87h1.26v1.26h-1.26zM91.87 209.98h1.26v1.04h-1.26zM93.87 209.87h1.15v1.15h-1.15zM129.87 209.87h1.26v1.26h-1.26zM59.87 210.87h1.26v1.26h-1.26zM68.87 210.87h1.26v1.26h-1.26zM94.98 210.98h1.15v1.15h-1.15zM143.87 210.87h1.26v1.26h-1.26zM59.87 211.87h1.26v1.26h-1.26zM60.87 211.87h1.26v1.26h-1.26zM61.87 211.87h1.26v1.26h-1.26zM83.87 211.87h1.26v1.26h-1.26zM61.87 212.87h1.26v1.26h-1.26zM74.87 212.87h1.26v1.26h-1.26zM81.87 212.87h1.26v1.26h-1.26zM94.87 212.87h1.15v1.15h-1.15zM127.87 212.87h1.26v1.26h-1.26zM142.87 212.87h1.26v1.26h-1.26zM70.87 213.87h1.26v1.15h-1.26zM82.87 213.87h1.26v1.26h-1.26zM57.98 214.98h1.04v1.15h-1.04zM68.87 214.87h1.26v1.26h-1.26zM92.87 216.87h1.15v1.26h-1.15zM143.87 216.87h1.26v1.26h-1.26zM91.87 217.87h1.26v1.15h-1.26zM134.87 217.87h1.26v1.26h-1.26zM138.87 217.87h1.26v1.26h-1.26zM53.87 218.87h1.26v1.15h-1.26zM54.87 218.87h1.26v1.26h-1.26zM86.87 218.87h1.15v1.26h-1.15zM85.87 219.87h1.26v1.15h-1.26zM61.87 220.87h1.15v1.26h-1.15zM64.87 220.98h1.26v1.04h-1.26zM71.98 220.87h1.15v1.15h-1.15zM58.87 221.87h1.15v1.15h-1.15zM79.98 221.87h1.04v1.15h-1.04zM131.98 223.87h1.15v1.26h-1.15zM131.87 224.87h1.26v1.26h-1.26z"/>
<path fill="#00e2ff" d="M138.87 179.87h1.26v1.26h-1.26zM137.87 180.87h1.26v1.26h-1.26zM138.87 180.87h1.26v1.26h-1.26zM139.87 180.87h1.26v1.26h-1.26zM140.87 181.87h1.26v1.15h-1.26zM69.87 182.87h1.26v1.26h-1.26zM134.98 182.98h1.15v1.15h-1.15zM142.87 182.87h1.26v1.26h-1.26zM145.87 183.87h1.26v1.26h-1.26zM83.87 184.87h1.26v1.26h-1.26zM70.87 185.87h1.26v1.26h-1.26zM142.87 185.87h1.26v1.26h-1.26zM73.98 186.87h1.15v1.26h-1.15zM78.87 186.87h1.26v1.15h-1.26zM132.98 186.87h1.15v1.26h-1.15zM65.87 187.98h1.26v1.15h-1.26zM66.87 187.87h1.26v1.26h-1.26zM75.87 187.98h1.26v1.15h-1.26zM80.87 187.87h1.26v1.26h-1.26zM81.87 187.87h1.26v1.15h-1.26zM86.98 187.87h1.15v1.26h-1.15zM87.87 187.87h1.26v1.26h-1.26zM88.87 187.87h1.15v1.26h-1.15zM132.98 187.87h1.15v1.26h-1.15zM139.87 187.87h1.26v1.26h-1.26zM62.98 188.87h1.04v1.26h-1.04zM131.87 188.98h1.26v1.04h-1.26zM137.87 188.87h1.26v1.26h-1.26zM61.87 189.98h1.26v1.15h-1.26zM64.87 189.98h1.15v1.15h-1.15zM89.87 189.87h1.26v1.26h-1.26zM141.87 189.87h1.26v1.26h-1.26zM148.87 189.87h1.26v1.26h-1.26zM56.98 190.87h1.15v1.26h-1.15zM61.87 190.87h1.26v1.26h-1.26zM142.87 190.87h1.26v1.26h-1.26zM60.98 191.87h1.15v1.26h-1.15zM68.87 191.87h1.26v1.26h-1.26zM69.87 191.87h1.26v1.26h-1.26zM71.87 191.87h1.26v1.26h-1.26zM83.87 191.87h1.26v1.15h-1.26zM84.87 191.87h1.26v1.26h-1.26zM85.87 191.87h1.26v1.15h-1.26zM86.87 191.87h1.26v1.26h-1.26zM133.87 191.87h1.26v1.26h-1.26zM141.87 191.87h1.26v1.26h-1.26zM62.87 192.98h1.26v1.15h-1.26zM75.87 192.87h1.26v1.26h-1.26zM81.87 192.87h1.26v1.26h-1.26zM82.87 192.87h1.15v1.26h-1.15zM136.87 192.87h1.26v1.26h-1.26zM148.87 192.87h1.26v1.26h-1.26zM61.87 193.87h1.26v1.26h-1.26zM71.87 193.87h1.26v1.26h-1.26zM66.87 194.87h1.26v1.26h-1.26zM72.87 194.87h1.26v1.26h-1.26zM82.98 194.87h1.15v1.15h-1.15zM83.87 194.87h1.26v1.26h-1.26zM85.87 194.98h1.26v1.15h-1.26zM88.87 194.87h1.26v1.26h-1.26zM69.87 195.87h1.26v1.26h-1.26zM148.98 195.87h1.04v1.26h-1.04zM64.87 196.87h1.26v1.26h-1.26zM71.87 196.87h1.26v1.26h-1.26zM77.87 196.87h1.26v1.26h-1.26zM131.98 196.87h1.15v1.26h-1.15zM68.87 197.87h1.26v1.26h-1.26zM75.87 197.87h1.26v1.26h-1.26zM76.87 197.87h1.26v1.26h-1.26zM128.87 197.87h1.26v1.26h-1.26zM49.87 198.87h1.26v1.26h-1.26zM51.87 198.87h1.26v1.26h-1.26zM60.87 198.87h1.26v1.26h-1.26zM83.87 198.87h1.26v1.26h-1.26zM148.87 198.87h1.26v1.15h-1.26zM48.98 199.87h1.15v1.26h-1.15zM49.87 199.87h1.26v1.26h-1.26zM52.87 199.87h1.26v1.26h-1.26zM61.87 199.87h1.26v1.26h-1.26zM79.87 199.87h1.26v1.26h-1.26zM92.87 199.87h1.26v1.26h-1.26zM94.87 199.87h1.26v1.26h-1.26zM53.87 200.87h1.26v1.26h-1.26zM62.87 200.87h1.26v1.26h-1.26zM64.87 200.87h1.26v1.15h-1.26zM89.98 200.87h1.15v1.26h-1.15zM93.87 200.87h1.26v1.26h-1.26zM49.87 201.87h1.26v1.26h-1.26zM59.87 201.87h1.26v1.26h-1.26zM66.87 201.87h1.26v1.26h-1.26zM67.87 201.87h1.26v1.26h-1.26zM128.87 201.87h1.26v1.26h-1.26zM58.87 202.87h1.26v1.26h-1.26zM60.87 202.87h1.26v1.26h-1.26zM61.87 202.87h1.26v1.26h-1.26zM146.87 202.87h1.26v1.26h-1.26zM51.87 203.87h1.26v1.15h-1.26zM55.87 203.87h1.15v1.26h-1.15zM65.87 203.87h1.26v1.26h-1.26zM129.87 203.87h1.26v1.26h-1.26zM47.87 204.87h1.15v1.26h-1.15zM88.87 204.87h1.15v1.26h-1.15zM95.87 204.87h1.26v1.26h-1.26zM126.87 204.98h1.15v1.15h-1.15zM65.87 205.87h1.26v1.26h-1.26zM68.87 205.87h1.26v1.26h-1.26zM78.87 205.87h1.26v1.26h-1.26zM95.87 205.87h1.15v1.26h-1.15zM127.87 205.98h1.26v1.15h-1.26zM77.87 206.87h1.26v1.26h-1.26zM83.87 206.87h1.26v1.26h-1.26zM94.98 206.87h1.15v1.26h-1.15zM95.87 206.87h1.26v1.15h-1.26zM72.87 207.87h1.26v1.26h-1.26zM73.87 207.87h1.26v1.26h-1.26zM86.87 207.87h1.26v1.26h-1.26zM128.98 207.87h1.15v1.26h-1.15zM51.98 208.98h1.15v1.15h-1.15zM73.87 208.87h1.26v1.26h-1.26zM86.87 208.87h1.15v1.15h-1.15zM89.87 208.87h1.26v1.26h-1.26zM49.98 209.87h1.15v1.26h-1.15zM50.87 209.98h1.26v1.15h-1.26zM51.87 209.87h1.26v1.26h-1.26zM54.98 209.98h1.15v1.15h-1.15zM55.87 209.87h1.26v1.26h-1.26zM56.87 209.98h1.26v1.04h-1.26zM76.87 209.87h1.26v1.26h-1.26zM128.87 209.87h1.26v1.26h-1.26zM49.87 210.87h1.26v1.26h-1.26zM50.87 210.87h1.26v1.15h-1.26zM53.87 210.98h1.26v1.15h-1.26zM70.87 210.87h1.26v1.26h-1.26zM79.87 210.87h1.26v1.26h-1.26zM145.87 210.87h1.26v1.26h-1.26zM48.87 211.87h1.26v1.15h-1.26zM49.87 211.87h1.15v1.26h-1.15zM53.98 211.87h1.15v1.15h-1.15zM63.87 211.87h1.26v1.26h-1.26zM54.98 212.87h1.15v1.26h-1.15zM63.87 212.87h1.26v1.26h-1.26zM86.87 212.87h1.26v1.26h-1.26zM52.87 213.87h1.26v1.26h-1.26zM92.87 213.98h1.26v1.04h-1.26zM93.87 213.87h1.15v1.26h-1.15zM144.87 213.87h1.15v1.26h-1.15zM52.87 214.87h1.26v1.15h-1.26zM59.98 214.87h1.15v1.26h-1.15zM86.98 214.87h1.15v1.26h-1.15zM130.98 214.87h1.15v1.26h-1.15zM62.87 216.87h1.26v1.26h-1.26zM77.98 216.87h1.15v1.26h-1.15zM83.87 216.87h1.26v1.26h-1.26zM84.87 216.87h1.26v1.15h-1.26zM85.87 216.87h1.15v1.15h-1.15zM129.98 216.87h1.15v1.26h-1.15zM131.87 216.87h1.26v1.26h-1.26zM65.87 217.87h1.26v1.26h-1.26zM75.87 217.87h1.26v1.26h-1.26zM66.87 218.87h1.26v1.15h-1.26zM71.87 218.98h1.15v1.15h-1.15zM73.98 218.87h1.15v1.26h-1.15zM80.87 218.87h1.26v1.26h-1.26zM81.87 219.87h1.26v1.26h-1.26zM82.87 219.87h1.15v1.15h-1.15zM75.87 220.87h1.26v1.15h-1.26zM133.87 220.87h1.26v1.26h-1.26zM140.87 220.87h1.15v1.26h-1.15z"/>
<path fill="#00fffb" d="M136.87 182.98h1.26v1.15h-1.26zM141.98 182.87h1.15v1.26h-1.15zM138.87 183.87h1.26v1.26h-1.26zM139.87 183.87h1.26v1.26h-1.26zM145.87 184.87h1.26v1.26h-1.26zM67.87 186.87h1.26v1.26h-1.26zM142.87 186.87h1.15v1.26h-1.15zM144.98 186.87h1.15v1.26h-1.15zM69.87 187.87h1.26v1.26h-1.26zM133.87 188.87h1.26v1.26h-1.26zM62.87 189.87h1.26v1.26h-1.26zM72.87 189.87h1.26v1.26h-1.26zM132.98 189.87h1.15v1.26h-1.15zM136.87 189.87h1.26v1.26h-1.26zM50.87 190.98h1.15v1.15h-1.15zM65.87 190.98h1.26v1.15h-1.26zM76.87 190.87h1.26v1.26h-1.26zM131.87 190.98h1.26v1.15h-1.26zM132.87 190.87h1.26v1.26h-1.26zM135.87 190.87h1.26v1.26h-1.26zM147.87 190.87h1.26v1.15h-1.26zM131.87 191.87h1.26v1.26h-1.26zM146.87 191.87h1.15v1.26h-1.15zM77.87 192.98h1.26v1.15h-1.26zM147.87 192.98h1.26v1.15h-1.26zM59.87 193.87h1.26v1.26h-1.26zM60.87 193.87h1.26v1.26h-1.26zM136.87 193.87h1.26v1.26h-1.26zM130.87 194.87h1.26v1.26h-1.26zM58.87 195.87h1.26v1.26h-1.26zM59.87 195.87h1.26v1.26h-1.26zM61.87 195.87h1.15v1.26h-1.15zM55.87 196.87h1.26v1.15h-1.26zM56.87 196.87h1.26v1.26h-1.26zM82.98 196.98h1.15v1.15h-1.15zM83.87 196.87h1.26v1.26h-1.26zM146.87 196.87h1.26v1.26h-1.26zM73.87 197.87h1.26v1.26h-1.26zM80.87 197.87h1.26v1.26h-1.26zM83.87 197.87h1.15v1.26h-1.15zM129.87 197.87h1.26v1.26h-1.26zM148.87 197.87h1.26v1.26h-1.26zM54.98 198.87h1.15v1.26h-1.15zM55.87 198.98h1.26v1.15h-1.26zM86.87 198.87h1.26v1.26h-1.26zM91.87 198.87h1.26v1.26h-1.26zM90.87 199.87h1.26v1.26h-1.26zM49.87 200.87h1.26v1.26h-1.26zM50.87 200.87h1.26v1.26h-1.26zM77.87 200.87h1.26v1.26h-1.26zM83.87 200.87h1.26v1.26h-1.26zM144.87 200.87h1.26v1.26h-1.26zM55.87 201.87h1.26v1.26h-1.26zM77.87 201.87h1.26v1.26h-1.26zM129.87 201.87h1.26v1.26h-1.26zM131.87 201.87h1.26v1.15h-1.26zM146.87 201.87h1.15v1.26h-1.15zM55.87 202.87h1.26v1.26h-1.26zM74.87 202.87h1.26v1.26h-1.26zM128.87 202.87h1.26v1.26h-1.26zM77.87 203.87h1.26v1.26h-1.26zM91.87 203.87h1.26v1.26h-1.26zM72.87 204.87h1.26v1.26h-1.26zM73.87 204.87h1.26v1.26h-1.26zM92.87 204.87h1.26v1.26h-1.26zM94.87 204.87h1.26v1.26h-1.26zM55.87 205.87h1.26v1.26h-1.26zM56.87 205.87h1.26v1.26h-1.26zM80.87 205.87h1.26v1.26h-1.26zM82.87 205.87h1.26v1.26h-1.26zM145.87 205.87h1.15v1.26h-1.15zM148.87 205.98h1.26v1.04h-1.26zM52.98 207.87h1.04v1.26h-1.04zM64.87 207.87h1.26v1.26h-1.26zM74.87 207.87h1.26v1.26h-1.26zM85.87 207.87h1.26v1.26h-1.26zM57.98 208.87h1.15v1.26h-1.15zM85.87 208.87h1.26v1.26h-1.26zM84.98 209.87h1.15v1.26h-1.15zM44.98 210.98h1.04v1.04h-1.04zM57.98 210.87h1.15v1.26h-1.15zM67.98 210.87h1.15v1.26h-1.15zM84.87 210.87h1.26v1.26h-1.26zM128.98 210.87h1.15v1.26h-1.15zM131.87 210.87h1.26v1.26h-1.26zM142.87 210.87h1.26v1.26h-1.26zM55.87 211.87h1.26v1.26h-1.26zM56.87 211.98h1.26v1.15h-1.26zM58.87 211.87h1.26v1.26h-1.26zM72.87 211.87h1.26v1.26h-1.26zM73.87 211.87h1.26v1.26h-1.26zM82.87 211.87h1.26v1.26h-1.26zM84.87 211.87h1.26v1.26h-1.26zM55.87 212.87h1.26v1.15h-1.26zM56.87 212.87h1.26v1.26h-1.26zM57.87 212.87h1.26v1.15h-1.26zM59.87 212.87h1.26v1.26h-1.26zM65.87 213.87h1.26v1.26h-1.26zM66.87 213.98h1.26v1.15h-1.26zM74.87 213.87h1.26v1.26h-1.26zM76.87 213.87h1.26v1.26h-1.26zM136.87 213.87h1.26v1.26h-1.26zM142.87 213.87h1.26v1.26h-1.26zM65.87 214.87h1.26v1.26h-1.26zM73.87 214.87h1.26v1.26h-1.26zM84.87 214.87h1.15v1.26h-1.15zM128.87 214.87h1.15v1.26h-1.15zM65.87 215.87h1.26v1.26h-1.26zM70.87 215.98h1.26v1.15h-1.26zM73.87 215.87h1.26v1.26h-1.26zM78.87 215.87h1.26v1.26h-1.26zM78.87 216.87h1.26v1.26h-1.26zM130.87 216.87h1.26v1.15h-1.26zM133.87 216.87h1.26v1.26h-1.26zM66.87 217.87h1.26v1.26h-1.26zM68.87 217.87h1.26v1.26h-1.26zM72.98 217.87h1.15v1.15h-1.15zM76.87 217.98h1.26v1.15h-1.26zM77.87 217.87h1.26v1.26h-1.26zM135.87 217.87h1.26v1.26h-1.26zM139.87 217.87h1.15v1.15h-1.15zM70.87 218.87h1.26v1.15h-1.26zM76.87 218.87h1.26v1.26h-1.26zM131.98 218.87h1.15v1.26h-1.15zM135.87 218.87h1.26v1.26h-1.26zM135.87 219.87h1.26v1.26h-1.26zM136.87 219.87h1.26v1.26h-1.26z"/>
<path fill="#00ffdb" d="M73.87 177.98h1.15v1.04h-1.15zM68.98 181.98h1.15v1.15h-1.15zM72.98 181.98h1.15v1.15h-1.15zM144.98 181.87h1.15v1.26h-1.15zM81.98 182.87h1.04v1.15h-1.04zM137.87 183.87h1.26v1.26h-1.26zM141.87 183.87h1.26v1.26h-1.26zM143.87 183.87h1.26v1.26h-1.26zM82.98 184.87h1.15v1.26h-1.15zM138.87 184.87h1.26v1.26h-1.26zM139.87 184.87h1.26v1.26h-1.26zM144.87 184.87h1.26v1.26h-1.26zM147.87 184.98h1.15v1.15h-1.15zM61.98 185.87h1.15v1.15h-1.15zM75.98 185.87h1.04v1.15h-1.04zM139.87 185.87h1.26v1.26h-1.26zM58.87 186.87h1.15v1.26h-1.15zM135.87 186.87h1.26v1.15h-1.26zM60.98 187.87h1.15v1.26h-1.15zM138.87 187.87h1.26v1.26h-1.26zM136.87 188.87h1.26v1.26h-1.26zM143.87 188.87h1.26v1.26h-1.26zM144.87 189.87h1.26v1.26h-1.26zM145.87 189.87h1.26v1.26h-1.26zM69.87 190.87h1.26v1.26h-1.26zM146.87 190.87h1.26v1.26h-1.26zM72.87 191.87h1.15v1.26h-1.15zM145.87 191.87h1.26v1.26h-1.26zM64.87 192.87h1.26v1.26h-1.26zM73.87 192.98h1.26v1.15h-1.26zM137.87 192.87h1.26v1.26h-1.26zM77.87 193.87h1.26v1.26h-1.26zM78.87 193.87h1.26v1.26h-1.26zM79.87 193.87h1.26v1.26h-1.26zM132.87 193.87h1.26v1.26h-1.26zM80.87 194.87h1.15v1.26h-1.15zM131.87 194.87h1.26v1.26h-1.26zM148.87 194.87h1.15v1.26h-1.15zM57.87 196.87h1.26v1.26h-1.26zM59.87 196.87h1.26v1.26h-1.26zM79.87 196.87h1.26v1.26h-1.26zM66.87 197.87h1.26v1.26h-1.26zM82.87 198.87h1.26v1.26h-1.26zM84.87 198.98h1.26v1.15h-1.26zM129.87 198.87h1.26v1.26h-1.26zM69.87 199.87h1.26v1.26h-1.26zM71.87 199.87h1.26v1.26h-1.26zM69.87 200.87h1.26v1.26h-1.26zM145.87 200.98h1.26v1.15h-1.26zM85.87 201.87h1.26v1.26h-1.26zM86.87 201.87h1.26v1.26h-1.26zM145.87 201.87h1.26v1.26h-1.26zM145.87 202.87h1.26v1.26h-1.26zM85.87 203.87h1.26v1.26h-1.26zM86.87 203.87h1.26v1.26h-1.26zM145.87 203.87h1.26v1.26h-1.26zM60.87 204.87h1.26v1.26h-1.26zM66.87 204.87h1.26v1.26h-1.26zM67.87 204.98h1.26v1.15h-1.26zM143.87 204.87h1.26v1.26h-1.26zM66.87 205.87h1.26v1.26h-1.26zM67.87 205.87h1.26v1.26h-1.26zM55.87 206.87h1.26v1.26h-1.26zM144.87 206.87h1.26v1.15h-1.26zM60.87 207.87h1.26v1.26h-1.26zM77.87 207.87h1.26v1.26h-1.26zM44.87 208.87h1.26v1.15h-1.26zM58.87 208.87h1.26v1.26h-1.26zM60.87 208.87h1.26v1.26h-1.26zM65.87 208.87h1.26v1.26h-1.26zM78.87 208.87h1.26v1.26h-1.26zM81.87 208.87h1.26v1.26h-1.26zM82.87 208.87h1.26v1.26h-1.26zM88.98 208.87h1.15v1.15h-1.15zM47.87 209.98h1.15v1.15h-1.15zM80.87 209.87h1.26v1.26h-1.26zM60.87 210.87h1.26v1.26h-1.26zM61.87 210.87h1.26v1.26h-1.26zM64.87 210.87h1.26v1.26h-1.26zM64.87 211.87h1.26v1.26h-1.26zM79.87 211.87h1.26v1.26h-1.26zM80.87 211.87h1.26v1.26h-1.26zM141.87 211.87h1.26v1.26h-1.26zM143.87 211.87h1.26v1.26h-1.26zM146.87 211.87h1.15v1.15h-1.15zM68.87 212.87h1.26v1.26h-1.26zM75.87 212.87h1.26v1.26h-1.26zM76.87 212.87h1.26v1.26h-1.26zM84.87 212.87h1.26v1.26h-1.26zM131.87 212.87h1.26v1.26h-1.26zM140.87 212.87h1.26v1.26h-1.26zM77.87 213.87h1.26v1.26h-1.26zM78.87 213.87h1.26v1.26h-1.26zM141.87 213.87h1.26v1.15h-1.26zM63.87 214.87h1.26v1.26h-1.26zM138.87 214.87h1.26v1.26h-1.26zM140.87 214.87h1.15v1.26h-1.15zM144.87 214.87h1.15v1.26h-1.15zM90.87 215.87h1.26v1.15h-1.26zM130.87 215.87h1.26v1.26h-1.26zM140.87 215.87h1.26v1.26h-1.26zM133.87 217.87h1.26v1.26h-1.26zM83.87 218.87h1.26v1.15h-1.26zM81.98 220.87h1.04v1.15h-1.04zM66.87 221.87h1.15v1.15h-1.15zM131.87 221.87h1.15v1.26h-1.15z"/>
<path fill="#00ffba" d="M69.87 184.87h1.26v1.26h-1.26zM132.87 184.87h1.26v1.26h-1.26zM137.87 185.87h1.26v1.26h-1.26zM140.87 185.87h1.26v1.26h-1.26zM141.87 185.87h1.26v1.26h-1.26zM56.87 188.98h1.26v1.15h-1.26zM73.87 188.87h1.26v1.26h-1.26zM76.87 188.87h1.26v1.26h-1.26zM78.87 188.98h1.26v1.15h-1.26zM83.98 188.87h1.15v1.26h-1.15zM63.87 189.98h1.26v1.15h-1.26zM78.87 189.87h1.26v1.26h-1.26zM82.87 189.98h1.26v1.15h-1.26zM139.87 189.87h1.26v1.26h-1.26zM140.87 189.87h1.26v1.26h-1.26zM63.98 191.87h1.15v1.26h-1.15zM142.87 191.87h1.26v1.26h-1.26zM144.87 191.87h1.26v1.26h-1.26zM148.98 191.87h1.15v1.26h-1.15zM65.87 192.87h1.26v1.26h-1.26zM70.87 192.87h1.26v1.26h-1.26zM135.87 192.87h1.26v1.26h-1.26zM65.87 193.87h1.26v1.26h-1.26zM69.87 193.87h1.26v1.26h-1.26zM75.87 193.87h1.26v1.26h-1.26zM76.87 193.87h1.26v1.26h-1.26zM81.87 193.87h1.26v1.15h-1.26zM143.87 193.87h1.26v1.26h-1.26zM53.98 194.87h1.15v1.26h-1.15zM70.87 194.87h1.26v1.26h-1.26zM77.87 194.87h1.26v1.26h-1.26zM53.87 195.87h1.26v1.26h-1.26zM71.87 195.87h1.26v1.26h-1.26zM76.87 195.87h1.26v1.26h-1.26zM78.87 195.87h1.26v1.26h-1.26zM86.87 196.87h1.26v1.26h-1.26zM87.87 196.87h1.26v1.26h-1.26zM144.87 196.87h1.26v1.26h-1.26zM49.98 197.87h1.15v1.26h-1.15zM70.87 197.87h1.26v1.26h-1.26zM91.87 197.98h1.15v1.15h-1.15zM61.87 198.87h1.26v1.26h-1.26zM69.87 198.87h1.26v1.26h-1.26zM70.87 198.87h1.26v1.26h-1.26zM78.87 198.87h1.26v1.26h-1.26zM92.87 198.98h1.26v1.15h-1.26zM94.87 198.87h1.26v1.26h-1.26zM82.98 199.87h1.15v1.26h-1.15zM85.87 199.87h1.26v1.26h-1.26zM142.87 199.87h1.26v1.26h-1.26zM51.87 200.87h1.26v1.26h-1.26zM57.87 200.87h1.26v1.26h-1.26zM58.87 200.87h1.26v1.26h-1.26zM68.87 200.87h1.26v1.26h-1.26zM85.87 200.87h1.26v1.26h-1.26zM53.87 201.87h1.26v1.26h-1.26zM65.98 201.87h1.15v1.26h-1.15zM90.87 201.87h1.26v1.26h-1.26zM51.98 202.87h1.15v1.26h-1.15zM65.87 202.87h1.26v1.26h-1.26zM67.87 202.87h1.26v1.15h-1.26zM62.87 204.87h1.26v1.26h-1.26zM64.87 204.87h1.26v1.26h-1.26zM65.87 204.87h1.26v1.26h-1.26zM77.87 204.87h1.26v1.26h-1.26zM84.87 204.87h1.26v1.15h-1.26zM72.87 205.87h1.26v1.26h-1.26zM83.87 205.87h1.15v1.26h-1.15zM92.87 205.87h1.26v1.26h-1.26zM59.87 206.87h1.26v1.26h-1.26zM61.87 206.87h1.26v1.26h-1.26zM66.87 206.87h1.26v1.26h-1.26zM79.87 206.87h1.26v1.15h-1.26zM128.87 206.87h1.26v1.26h-1.26zM59.87 207.87h1.26v1.26h-1.26zM67.87 207.87h1.26v1.26h-1.26zM68.87 207.87h1.26v1.26h-1.26zM70.87 207.87h1.26v1.26h-1.26zM82.87 207.87h1.26v1.26h-1.26zM84.87 207.87h1.26v1.26h-1.26zM68.87 208.87h1.26v1.26h-1.26zM70.87 208.87h1.26v1.26h-1.26zM74.87 208.87h1.26v1.26h-1.26zM143.87 208.87h1.26v1.26h-1.26zM62.87 209.87h1.26v1.26h-1.26zM69.87 209.87h1.26v1.26h-1.26zM145.87 209.87h1.26v1.26h-1.26zM69.87 210.87h1.26v1.26h-1.26zM70.87 211.87h1.26v1.26h-1.26zM75.87 211.87h1.26v1.26h-1.26zM76.87 211.87h1.26v1.26h-1.26zM88.87 211.87h1.26v1.26h-1.26zM93.98 212.87h1.15v1.26h-1.15zM141.87 212.87h1.26v1.26h-1.26zM53.87 213.98h1.26v1.15h-1.26zM87.87 213.87h1.15v1.26h-1.15zM76.87 214.87h1.26v1.15h-1.26zM80.87 214.87h1.26v1.15h-1.26zM136.87 214.87h1.26v1.26h-1.26zM83.87 215.87h1.26v1.26h-1.26zM135.87 215.87h1.26v1.26h-1.26zM136.87 215.87h1.26v1.26h-1.26zM64.87 216.87h1.26v1.26h-1.26zM63.87 218.87h1.26v1.26h-1.26zM68.87 218.87h1.26v1.15h-1.26zM75.87 219.87h1.26v1.26h-1.26zM80.87 219.87h1.26v1.15h-1.26zM137.87 219.87h1.26v1.26h-1.26zM140.87 221.87h1.15v1.15h-1.15z"/>
<path fill="#00ff9a" d="M133.87 187.87h1.26v1.26h-1.26zM137.87 187.87h1.26v1.26h-1.26zM83.87 189.87h1.26v1.26h-1.26zM84.87 190.87h1.26v1.26h-1.26zM139.87 190.87h1.26v1.26h-1.26zM136.87 191.87h1.26v1.26h-1.26zM79.87 192.87h1.26v1.26h-1.26zM134.87 192.87h1.26v1.26h-1.26zM141.87 192.87h1.26v1.26h-1.26zM54.87 195.87h1.26v1.26h-1.26zM85.87 195.87h1.26v1.26h-1.26zM63.98 196.98h1.15v1.15h-1.15zM81.87 197.98h1.26v1.15h-1.26zM82.87 197.87h1.26v1.26h-1.26zM90.87 197.87h1.26v1.26h-1.26zM67.87 198.87h1.26v1.26h-1.26zM77.87 198.87h1.26v1.26h-1.26zM88.87 198.87h1.26v1.26h-1.26zM90.87 198.87h1.26v1.26h-1.26zM143.87 198.87h1.26v1.26h-1.26zM144.87 198.87h1.26v1.26h-1.26zM55.87 199.87h1.26v1.26h-1.26zM66.87 199.87h1.26v1.26h-1.26zM72.87 199.87h1.26v1.26h-1.26zM77.87 199.87h1.26v1.26h-1.26zM88.87 199.87h1.26v1.15h-1.26zM129.87 199.87h1.26v1.26h-1.26zM72.87 201.87h1.26v1.26h-1.26zM144.87 201.87h1.26v1.26h-1.26zM56.87 202.87h1.26v1.15h-1.26zM76.87 202.87h1.26v1.26h-1.26zM58.87 203.87h1.26v1.26h-1.26zM69.87 203.87h1.26v1.26h-1.26zM87.87 203.87h1.26v1.26h-1.26zM144.87 203.87h1.26v1.26h-1.26zM81.87 204.87h1.26v1.26h-1.26zM93.87 204.87h1.26v1.26h-1.26zM128.98 204.87h1.15v1.26h-1.15zM53.98 205.87h1.15v1.26h-1.15zM54.87 205.87h1.26v1.26h-1.26zM69.87 205.87h1.26v1.26h-1.26zM70.87 205.87h1.26v1.26h-1.26zM63.87 206.87h1.26v1.26h-1.26zM81.87 206.87h1.26v1.26h-1.26zM84.87 206.98h1.26v1.15h-1.26zM130.87 206.87h1.26v1.26h-1.26zM55.87 207.87h1.26v1.26h-1.26zM69.87 207.87h1.26v1.26h-1.26zM62.87 208.87h1.26v1.26h-1.26zM64.87 208.87h1.26v1.26h-1.26zM73.87 209.87h1.26v1.26h-1.26zM58.87 210.87h1.26v1.26h-1.26zM75.87 210.87h1.26v1.26h-1.26zM130.87 211.87h1.26v1.26h-1.26zM58.87 212.87h1.26v1.26h-1.26zM60.87 212.87h1.26v1.15h-1.26zM85.87 212.87h1.26v1.26h-1.26zM143.87 212.87h1.26v1.26h-1.26zM67.87 213.87h1.26v1.26h-1.26zM84.87 213.87h1.26v1.26h-1.26zM61.87 214.87h1.26v1.15h-1.26zM67.87 214.87h1.26v1.15h-1.26zM78.87 214.87h1.26v1.26h-1.26zM62.98 215.87h1.15v1.26h-1.15zM70.87 216.87h1.26v1.26h-1.26zM137.87 216.87h1.26v1.26h-1.26zM69.87 217.87h1.26v1.26h-1.26zM78.87 217.87h1.15v1.26h-1.15zM132.87 218.87h1.26v1.26h-1.26z"/>
<path fill="#00ff7a" d="M138.87 185.87h1.26v1.26h-1.26zM143.87 185.87h1.26v1.15h-1.26zM136.87 186.87h1.26v1.26h-1.26zM141.87 186.87h1.26v1.15h-1.26zM141.87 188.98h1.26v1.15h-1.26zM68.87 190.87h1.26v1.26h-1.26zM141.87 190.87h1.26v1.26h-1.26zM74.98 191.87h1.15v1.26h-1.15zM137.87 191.87h1.26v1.26h-1.26zM68.87 192.87h1.26v1.26h-1.26zM69.87 192.87h1.26v1.26h-1.26zM72.87 192.87h1.26v1.26h-1.26zM74.87 192.87h1.26v1.26h-1.26zM72.87 193.87h1.26v1.26h-1.26zM74.87 193.87h1.26v1.26h-1.26zM140.87 193.87h1.26v1.26h-1.26zM73.87 194.87h1.26v1.26h-1.26zM79.87 194.87h1.26v1.26h-1.26zM143.87 195.87h1.26v1.26h-1.26zM58.87 196.87h1.26v1.26h-1.26zM57.87 197.87h1.26v1.26h-1.26zM60.87 197.87h1.26v1.26h-1.26zM130.87 197.98h1.26v1.15h-1.26zM56.87 198.87h1.26v1.26h-1.26zM56.87 201.87h1.26v1.26h-1.26zM60.87 201.98h1.26v1.15h-1.26zM70.87 201.87h1.26v1.26h-1.26zM81.87 201.87h1.26v1.26h-1.26zM84.87 201.87h1.26v1.15h-1.26zM49.98 202.87h1.04v1.15h-1.04zM75.87 204.87h1.26v1.26h-1.26zM47.98 205.87h1.15v1.15h-1.15zM144.87 205.87h1.26v1.26h-1.26zM67.87 206.87h1.26v1.26h-1.26zM72.87 206.87h1.26v1.26h-1.26zM78.87 206.87h1.26v1.26h-1.26zM78.87 207.87h1.15v1.26h-1.15zM59.87 208.87h1.26v1.26h-1.26zM76.87 208.87h1.26v1.26h-1.26zM79.87 208.98h1.26v1.15h-1.26zM80.87 208.87h1.26v1.26h-1.26zM83.87 208.87h1.26v1.15h-1.26zM60.87 209.87h1.26v1.26h-1.26zM68.87 209.87h1.26v1.26h-1.26zM78.87 209.87h1.26v1.26h-1.26zM77.87 210.87h1.26v1.26h-1.26zM129.87 210.87h1.26v1.26h-1.26zM68.87 211.87h1.26v1.26h-1.26zM131.87 211.87h1.26v1.26h-1.26zM71.87 212.87h1.26v1.26h-1.26zM79.87 212.87h1.26v1.26h-1.26zM83.87 212.87h1.26v1.26h-1.26zM69.87 213.87h1.26v1.26h-1.26zM83.87 213.87h1.26v1.26h-1.26zM55.87 214.98h1.15v1.04h-1.15zM133.87 215.87h1.26v1.26h-1.26zM136.87 216.87h1.26v1.26h-1.26zM137.87 217.87h1.26v1.26h-1.26zM136.87 222.87h1.15v1.15h-1.15z"/>
<path fill="#00ff59" d="M136.87 183.87h1.26v1.26h-1.26zM137.87 184.87h1.26v1.26h-1.26zM135.87 185.87h1.26v1.26h-1.26zM66.98 186.87h1.15v1.26h-1.15zM74.87 186.98h1.15v1.15h-1.15zM81.87 186.87h1.26v1.26h-1.26zM138.87 188.87h1.26v1.26h-1.26zM139.87 188.87h1.26v1.26h-1.26zM140.87 188.87h1.26v1.26h-1.26zM58.87 189.87h1.26v1.15h-1.26zM59.98 190.87h1.15v1.15h-1.15zM89.87 190.87h1.15v1.26h-1.15zM134.87 190.87h1.26v1.26h-1.26zM140.87 190.87h1.26v1.26h-1.26zM144.87 190.87h1.26v1.26h-1.26zM67.87 191.87h1.26v1.26h-1.26zM70.87 191.87h1.26v1.26h-1.26zM89.87 191.87h1.26v1.15h-1.26zM66.87 192.87h1.26v1.26h-1.26zM67.87 192.87h1.26v1.26h-1.26zM133.87 192.87h1.26v1.26h-1.26zM145.87 192.87h1.26v1.26h-1.26zM55.87 193.87h1.26v1.26h-1.26zM67.87 193.87h1.26v1.26h-1.26zM86.98 193.87h1.04v1.26h-1.04zM65.87 194.87h1.26v1.26h-1.26zM67.87 194.87h1.26v1.26h-1.26zM71.87 194.87h1.26v1.26h-1.26zM78.87 194.87h1.26v1.26h-1.26zM132.87 194.87h1.26v1.26h-1.26zM67.87 195.87h1.26v1.26h-1.26zM72.87 195.87h1.26v1.26h-1.26zM73.87 195.87h1.26v1.26h-1.26zM74.87 195.87h1.26v1.26h-1.26zM70.87 196.87h1.26v1.26h-1.26zM72.87 196.87h1.26v1.26h-1.26zM73.87 196.87h1.26v1.26h-1.26zM53.87 197.87h1.26v1.15h-1.26zM62.87 197.98h1.26v1.15h-1.26zM63.87 197.87h1.26v1.26h-1.26zM67.87 197.87h1.26v1.26h-1.26zM69.87 197.87h1.26v1.26h-1.26zM71.87 197.87h1.26v1.26h-1.26zM72.87 197.87h1.26v1.26h-1.26zM131.87 197.87h1.26v1.26h-1.26zM63.87 198.87h1.26v1.26h-1.26zM145.87 198.87h1.26v1.15h-1.26zM62.87 199.87h1.26v1.26h-1.26zM68.87 199.87h1.26v1.26h-1.26zM76.87 200.87h1.26v1.26h-1.26zM82.87 200.87h1.26v1.26h-1.26zM84.87 200.87h1.26v1.26h-1.26zM130.87 200.87h1.26v1.26h-1.26zM147.87 200.87h1.26v1.15h-1.26zM68.87 201.87h1.26v1.26h-1.26zM75.87 201.87h1.26v1.26h-1.26zM83.87 201.87h1.26v1.26h-1.26zM62.87 202.87h1.26v1.26h-1.26zM68.87 202.87h1.26v1.26h-1.26zM69.87 202.87h1.26v1.26h-1.26zM64.87 203.87h1.26v1.26h-1.26zM127.98 203.87h1.15v1.15h-1.15zM63.87 204.87h1.26v1.26h-1.26zM69.87 204.87h1.26v1.26h-1.26zM63.87 205.87h1.26v1.26h-1.26zM71.87 205.87h1.26v1.26h-1.26zM50.98 206.87h1.15v1.26h-1.15zM142.87 206.87h1.26v1.26h-1.26zM71.87 207.87h1.26v1.26h-1.26zM143.87 207.87h1.15v1.26h-1.15zM69.87 208.87h1.26v1.26h-1.26zM71.87 208.87h1.26v1.26h-1.26zM130.87 208.87h1.26v1.26h-1.26zM64.87 209.87h1.26v1.26h-1.26zM62.87 210.87h1.26v1.26h-1.26zM132.87 210.87h1.26v1.26h-1.26zM62.87 211.87h1.26v1.26h-1.26zM65.87 211.87h1.15v1.26h-1.15zM74.87 211.87h1.26v1.26h-1.26zM69.87 212.87h1.26v1.26h-1.26zM130.87 213.87h1.26v1.26h-1.26zM132.87 213.87h1.26v1.26h-1.26zM135.87 213.87h1.26v1.26h-1.26zM66.87 215.87h1.15v1.26h-1.15zM87.87 215.87h1.26v1.26h-1.26zM128.87 215.87h1.26v1.15h-1.26zM132.87 216.87h1.26v1.26h-1.26zM62.87 218.87h1.26v1.15h-1.26zM78.87 218.87h1.26v1.26h-1.26z"/>
<path fill="#00ff39" d="M137.87 182.87h1.26v1.26h-1.26zM68.87 187.87h1.26v1.26h-1.26zM68.87 188.87h1.26v1.26h-1.26zM69.87 188.87h1.26v1.26h-1.26zM71.87 189.87h1.26v1.26h-1.26zM143.87 191.87h1.26v1.26h-1.26zM78.87 192.87h1.26v1.26h-1.26zM57.87 193.87h1.26v1.26h-1.26zM64.87 193.87h1.26v1.26h-1.26zM135.87 193.87h1.26v1.26h-1.26zM145.87 193.87h1.26v1.26h-1.26zM65.87 195.87h1.26v1.26h-1.26zM66.87 195.87h1.26v1.26h-1.26zM144.87 195.87h1.26v1.26h-1.26zM132.87 196.87h1.26v1.26h-1.26zM134.87 196.87h1.26v1.26h-1.26zM64.87 197.87h1.26v1.26h-1.26zM72.87 198.87h1.26v1.26h-1.26zM73.87 198.87h1.26v1.26h-1.26zM75.87 198.87h1.26v1.26h-1.26zM67.87 199.87h1.26v1.26h-1.26zM76.87 199.87h1.26v1.26h-1.26zM130.87 199.87h1.26v1.26h-1.26zM75.87 200.87h1.26v1.26h-1.26zM86.87 200.87h1.26v1.26h-1.26zM73.87 201.87h1.26v1.26h-1.26zM83.87 202.87h1.15v1.26h-1.15zM87.87 202.87h1.26v1.26h-1.26zM75.87 203.87h1.26v1.26h-1.26zM92.87 203.87h1.26v1.26h-1.26zM142.87 203.87h1.26v1.26h-1.26zM70.87 204.87h1.26v1.26h-1.26zM76.87 204.87h1.26v1.26h-1.26zM85.87 204.87h1.26v1.26h-1.26zM53.87 206.87h1.26v1.15h-1.26zM56.87 206.87h1.26v1.26h-1.26zM74.87 206.87h1.26v1.26h-1.26zM75.87 207.87h1.26v1.26h-1.26zM63.87 209.87h1.26v1.26h-1.26zM72.87 209.87h1.26v1.26h-1.26zM75.87 209.87h1.26v1.26h-1.26zM131.87 209.87h1.26v1.26h-1.26zM142.87 209.87h1.26v1.26h-1.26zM80.87 210.87h1.26v1.26h-1.26zM83.87 210.98h1.26v1.15h-1.26zM72.87 212.87h1.26v1.15h-1.26zM130.87 212.87h1.26v1.26h-1.26zM73.98 213.87h1.15v1.26h-1.15zM81.87 213.87h1.26v1.26h-1.26zM137.87 213.87h1.26v1.26h-1.26zM137.87 214.87h1.26v1.26h-1.26zM139.87 215.87h1.26v1.26h-1.26zM72.87 216.87h1.26v1.26h-1.26zM73.87 216.87h1.26v1.26h-1.26zM70.87 217.87h1.15v1.26h-1.15z"/>
<path fill="#00ff19" d="M135.87 183.87h1.26v1.26h-1.26zM140.87 186.87h1.26v1.26h-1.26zM67.87 190.87h1.26v1.26h-1.26zM70.87 190.87h1.26v1.26h-1.26zM71.87 190.87h1.26v1.26h-1.26zM65.87 191.87h1.26v1.26h-1.26zM132.87 191.87h1.26v1.26h-1.26zM132.87 192.87h1.26v1.26h-1.26zM137.87 193.87h1.26v1.26h-1.26zM141.87 193.87h1.26v1.26h-1.26zM68.87 194.87h1.26v1.26h-1.26zM64.98 195.87h1.15v1.26h-1.15zM68.87 196.87h1.26v1.26h-1.26zM69.87 196.87h1.26v1.26h-1.26zM133.87 196.87h1.26v1.26h-1.26zM143.87 196.87h1.26v1.26h-1.26zM56.98 197.87h1.15v1.26h-1.15zM58.87 197.87h1.26v1.26h-1.26zM59.87 197.87h1.26v1.26h-1.26zM65.87 197.87h1.26v1.26h-1.26zM78.87 197.87h1.26v1.26h-1.26zM132.87 197.87h1.26v1.26h-1.26zM140.87 197.87h1.26v1.26h-1.26zM145.87 197.87h1.26v1.26h-1.26zM56.87 199.87h1.26v1.26h-1.26zM59.87 199.87h1.26v1.26h-1.26zM60.87 199.87h1.26v1.15h-1.26zM80.87 199.87h1.15v1.26h-1.15zM59.87 200.87h1.15v1.26h-1.15zM61.98 200.87h1.15v1.26h-1.15zM143.87 200.87h1.26v1.26h-1.26zM58.87 201.87h1.26v1.26h-1.26zM61.87 201.87h1.26v1.26h-1.26zM59.87 202.87h1.26v1.26h-1.26zM130.87 202.87h1.15v1.26h-1.15zM59.87 203.87h1.26v1.26h-1.26zM80.87 203.87h1.26v1.26h-1.26zM82.87 203.87h1.26v1.26h-1.26zM131.87 203.98h1.26v1.15h-1.26zM143.87 203.87h1.26v1.26h-1.26zM61.87 204.87h1.26v1.26h-1.26zM60.87 205.87h1.26v1.26h-1.26zM58.87 207.87h1.26v1.26h-1.26zM67.87 208.87h1.26v1.26h-1.26zM59.87 209.87h1.26v1.26h-1.26zM79.87 209.87h1.26v1.26h-1.26zM132.87 209.87h1.26v1.26h-1.26zM141.87 209.87h1.26v1.26h-1.26zM76.87 210.87h1.26v1.26h-1.26zM78.87 211.87h1.26v1.26h-1.26zM70.87 212.87h1.26v1.26h-1.26zM77.87 212.87h1.26v1.26h-1.26zM82.87 212.87h1.26v1.26h-1.26zM62.87 213.87h1.26v1.26h-1.26zM63.87 213.87h1.26v1.26h-1.26zM68.87 213.87h1.26v1.26h-1.26zM79.87 213.87h1.26v1.26h-1.26zM129.87 213.87h1.26v1.15h-1.26zM62.87 214.87h1.26v1.26h-1.26zM59.87 215.87h1.15v1.26h-1.15z"/>
<path fill="#08ff00" d="M135.87 184.87h1.26v1.26h-1.26zM136.87 184.87h1.26v1.26h-1.26zM142.87 184.87h1.26v1.26h-1.26zM135.87 189.87h1.26v1.26h-1.26zM142.87 189.87h1.26v1.26h-1.26zM143.87 189.87h1.26v1.26h-1.26zM143.87 190.87h1.26v1.26h-1.26zM66.87 193.87h1.26v1.26h-1.26zM69.87 194.87h1.26v1.26h-1.26zM70.87 195.87h1.26v1.26h-1.26zM75.87 195.87h1.26v1.26h-1.26zM77.87 195.87h1.26v1.26h-1.26zM79.87 195.87h1.26v1.26h-1.26zM78.87 196.87h1.26v1.26h-1.26zM61.87 197.87h1.26v1.26h-1.26zM74.87 197.87h1.26v1.26h-1.26zM142.87 197.87h1.26v1.26h-1.26zM144.87 197.87h1.26v1.26h-1.26zM130.87 198.87h1.26v1.26h-1.26zM132.87 198.87h1.26v1.26h-1.26zM78.87 199.87h1.26v1.26h-1.26zM65.87 200.87h1.26v1.26h-1.26zM66.87 200.87h1.26v1.26h-1.26zM62.87 201.87h1.26v1.26h-1.26zM69.87 201.87h1.26v1.26h-1.26zM74.87 201.87h1.26v1.26h-1.26zM76.87 201.87h1.26v1.26h-1.26zM64.87 202.98h1.26v1.15h-1.26zM75.87 202.87h1.26v1.26h-1.26zM78.87 204.87h1.26v1.26h-1.26zM64.87 205.87h1.26v1.26h-1.26zM81.87 205.87h1.26v1.26h-1.26zM62.87 206.87h1.26v1.26h-1.26zM64.87 206.87h1.26v1.26h-1.26zM72.87 208.87h1.26v1.26h-1.26zM70.87 209.87h1.26v1.26h-1.26zM71.87 209.87h1.26v1.26h-1.26zM71.87 210.87h1.26v1.26h-1.26zM71.87 211.87h1.26v1.26h-1.26zM77.87 211.87h1.26v1.26h-1.26zM135.87 211.87h1.26v1.26h-1.26zM136.87 211.87h1.26v1.26h-1.26zM135.87 212.87h1.26v1.26h-1.26zM140.87 213.87h1.26v1.26h-1.26zM131.87 215.87h1.26v1.26h-1.26zM139.87 216.87h1.26v1.26h-1.26z"/>
<path fill="#28ff00" d="M145.87 185.87h1.26v1.26h-1.26zM137.87 189.87h1.26v1.26h-1.26zM144.87 192.87h1.26v1.26h-1.26zM133.87 194.87h1.26v1.26h-1.26zM139.87 194.87h1.26v1.26h-1.26zM80.87 195.87h1.26v1.26h-1.26zM61.87 196.87h1.15v1.26h-1.15zM143.87 197.87h1.26v1.26h-1.26zM147.87 197.87h1.26v1.26h-1.26zM85.87 198.87h1.26v1.26h-1.26zM141.87 198.87h1.26v1.26h-1.26zM64.87 199.87h1.26v1.26h-1.26zM73.87 200.87h1.26v1.26h-1.26zM79.87 200.87h1.26v1.26h-1.26zM80.87 200.87h1.26v1.26h-1.26zM131.87 200.87h1.26v1.26h-1.26zM80.87 201.87h1.26v1.26h-1.26zM70.87 202.87h1.26v1.26h-1.26zM77.87 202.87h1.26v1.26h-1.26zM82.87 202.87h1.26v1.26h-1.26zM70.87 203.87h1.26v1.26h-1.26zM130.87 203.87h1.26v1.26h-1.26zM82.87 204.87h1.26v1.26h-1.26zM141.87 205.87h1.26v1.26h-1.26zM67.87 209.87h1.26v1.26h-1.26zM74.87 209.87h1.26v1.26h-1.26zM133.87 209.87h1.26v1.26h-1.26zM131.87 213.87h1.26v1.26h-1.26zM135.87 214.87h1.26v1.26h-1.26zM139.87 214.87h1.26v1.26h-1.26zM71.87 215.87h1.26v1.26h-1.26zM131.98 217.87h1.15v1.26h-1.15z"/>
<path fill="#48ff00" d="M142.87 188.87h1.26v1.26h-1.26zM75.87 190.87h1.26v1.26h-1.26zM138.87 190.87h1.26v1.26h-1.26zM71.87 192.87h1.26v1.26h-1.26zM142.87 193.87h1.26v1.26h-1.26zM131.87 195.87h1.26v1.26h-1.26zM140.87 195.87h1.26v1.26h-1.26zM77.87 197.87h1.26v1.26h-1.26zM133.87 199.87h1.26v1.26h-1.26zM63.87 200.87h1.26v1.26h-1.26zM141.87 201.87h1.26v1.26h-1.26zM68.98 203.87h1.15v1.26h-1.15zM79.87 203.87h1.26v1.26h-1.26zM84.87 203.98h1.26v1.15h-1.26zM129.87 204.87h1.26v1.26h-1.26zM60.87 206.87h1.26v1.26h-1.26zM73.87 206.87h1.26v1.26h-1.26zM65.87 207.87h1.26v1.26h-1.26zM132.87 207.87h1.26v1.26h-1.26zM142.87 207.87h1.26v1.26h-1.26zM143.87 209.87h1.26v1.26h-1.26zM130.87 210.87h1.26v1.26h-1.26zM141.87 210.87h1.26v1.26h-1.26zM69.87 211.87h1.26v1.26h-1.26zM129.87 211.87h1.26v1.26h-1.26zM133.87 211.87h1.26v1.26h-1.26zM80.87 212.87h1.26v1.26h-1.26zM137.87 212.87h1.26v1.26h-1.26zM132.87 214.87h1.26v1.26h-1.26zM134.87 216.87h1.26v1.26h-1.26zM132.87 217.87h1.26v1.26h-1.26z"/>
<path fill="#69ff00" d="M136.87 185.87h1.26v1.26h-1.26zM138.87 189.87h1.26v1.26h-1.26zM134.87 191.87h1.26v1.26h-1.26zM139.87 192.87h1.26v1.26h-1.26zM138.87 193.87h1.26v1.26h-1.26zM139.87 193.87h1.26v1.26h-1.26zM142.87 194.87h1.26v1.26h-1.26zM135.87 197.87h1.26v1.26h-1.26zM62.87 198.87h1.26v1.26h-1.26zM144.87 199.87h1.15v1.26h-1.15zM67.87 200.87h1.26v1.26h-1.26zM72.87 200.87h1.26v1.26h-1.26zM81.87 200.98h1.26v1.15h-1.26zM140.87 200.87h1.26v1.26h-1.26zM132.87 201.87h1.26v1.26h-1.26zM135.87 201.87h1.26v1.26h-1.26zM73.87 202.87h1.26v1.26h-1.26zM138.87 202.87h1.26v1.26h-1.26zM139.87 202.87h1.26v1.26h-1.26zM63.87 203.87h1.26v1.26h-1.26zM76.87 203.87h1.26v1.26h-1.26zM83.87 204.87h1.26v1.26h-1.26zM134.87 204.87h1.26v1.26h-1.26zM51.87 206.87h1.26v1.15h-1.26zM65.87 206.87h1.26v1.26h-1.26zM68.87 206.87h1.26v1.26h-1.26zM82.87 206.87h1.26v1.26h-1.26zM141.87 206.87h1.26v1.26h-1.26zM136.87 208.87h1.26v1.26h-1.26zM133.87 210.87h1.26v1.26h-1.26zM131.87 214.87h1.26v1.26h-1.26zM134.87 214.87h1.26v1.26h-1.26zM137.87 215.87h1.26v1.26h-1.26zM139.87 221.87h1.26v1.26h-1.26z"/>
<path fill="#89ff00" d="M134.87 185.87h1.26v1.26h-1.26zM135.87 188.98h1.26v1.15h-1.26zM146.87 189.87h1.26v1.26h-1.26zM137.87 190.87h1.26v1.26h-1.26zM140.87 192.87h1.26v1.26h-1.26zM142.87 192.87h1.26v1.26h-1.26zM134.87 193.87h1.26v1.26h-1.26zM144.87 194.87h1.26v1.26h-1.26zM132.87 195.87h1.26v1.26h-1.26zM141.87 196.87h1.26v1.26h-1.26zM64.87 198.87h1.26v1.26h-1.26zM66.87 198.87h1.26v1.26h-1.26zM74.87 198.87h1.26v1.26h-1.26zM131.87 198.87h1.26v1.26h-1.26zM146.87 198.87h1.26v1.26h-1.26zM65.87 199.87h1.26v1.26h-1.26zM73.87 199.87h1.26v1.26h-1.26zM74.87 199.87h1.26v1.26h-1.26zM75.87 199.87h1.26v1.26h-1.26zM78.87 201.87h1.26v1.26h-1.26zM82.87 201.87h1.26v1.26h-1.26zM71.87 202.87h1.26v1.26h-1.26zM72.87 202.87h1.26v1.26h-1.26zM72.87 203.87h1.26v1.26h-1.26zM83.87 203.87h1.26v1.26h-1.26zM80.87 204.87h1.26v1.26h-1.26zM130.87 204.87h1.26v1.26h-1.26zM58.87 206.87h1.26v1.26h-1.26zM76.87 206.87h1.26v1.26h-1.26zM63.87 207.87h1.26v1.26h-1.26zM72.87 210.87h1.26v1.26h-1.26zM139.87 210.87h1.26v1.26h-1.26zM134.87 211.87h1.26v1.26h-1.26zM139.87 211.87h1.26v1.26h-1.26zM132.87 215.87h1.26v1.26h-1.26zM134.87 215.87h1.26v1.26h-1.26z"/>
<path fill="#a9ff00" d="M140.87 187.87h1.15v1.26h-1.15zM66.87 191.87h1.26v1.26h-1.26zM134.87 194.87h1.26v1.26h-1.26zM133.87 197.87h1.26v1.26h-1.26zM68.87 198.87h1.26v1.26h-1.26zM71.87 198.87h1.26v1.26h-1.26zM142.87 198.87h1.26v1.26h-1.26zM131.87 199.87h1.26v1.26h-1.26zM57.87 201.87h1.26v1.26h-1.26zM79.87 201.87h1.26v1.26h-1.26zM66.87 202.87h1.26v1.26h-1.26zM78.87 202.87h1.26v1.26h-1.26zM79.87 202.87h1.26v1.26h-1.26zM61.87 203.87h1.26v1.26h-1.26zM66.87 203.87h1.15v1.26h-1.15zM140.87 203.87h1.26v1.26h-1.26zM133.87 204.87h1.26v1.26h-1.26zM144.87 204.87h1.26v1.26h-1.26zM75.87 205.87h1.26v1.26h-1.26zM133.87 205.87h1.26v1.26h-1.26zM142.87 205.87h1.26v1.26h-1.26zM80.98 207.87h1.15v1.26h-1.15zM140.87 207.87h1.26v1.26h-1.26zM140.87 208.87h1.26v1.26h-1.26zM142.87 208.87h1.26v1.26h-1.26zM135.87 209.87h1.26v1.26h-1.26zM139.87 209.87h1.26v1.26h-1.26zM63.87 210.87h1.26v1.26h-1.26zM142.87 211.87h1.26v1.26h-1.26zM62.87 212.87h1.26v1.26h-1.26zM129.87 212.87h1.26v1.26h-1.26zM133.87 213.87h1.26v1.26h-1.26zM138.87 213.87h1.26v1.26h-1.26z"/>
<path fill="#caff00" d="M136.87 190.87h1.26v1.26h-1.26zM135.87 191.87h1.26v1.26h-1.26zM70.87 193.87h1.26v1.26h-1.26zM75.87 194.87h1.26v1.26h-1.26zM76.87 194.87h1.26v1.26h-1.26zM135.87 194.87h1.26v1.26h-1.26zM136.87 194.87h1.26v1.26h-1.26zM136.87 195.87h1.26v1.26h-1.26zM142.87 195.87h1.26v1.26h-1.26zM135.87 198.87h1.26v1.26h-1.26zM83.87 199.87h1.26v1.26h-1.26zM84.87 199.87h1.26v1.26h-1.26zM135.87 199.87h1.26v1.26h-1.26zM78.87 200.87h1.26v1.26h-1.26zM63.87 202.87h1.26v1.26h-1.26zM74.87 203.87h1.26v1.26h-1.26zM132.87 203.87h1.26v1.26h-1.26zM79.87 204.87h1.26v1.26h-1.26zM131.87 205.87h1.26v1.26h-1.26zM70.87 206.87h1.26v1.26h-1.26zM62.87 207.87h1.26v1.26h-1.26zM75.87 208.87h1.26v1.26h-1.26zM138.87 212.87h1.26v1.26h-1.26zM139.87 212.87h1.26v1.26h-1.26zM134.87 219.87h1.26v1.26h-1.26z"/>
<path fill="#eaff00" d="M58.87 193.87h1.26v1.26h-1.26zM144.87 193.87h1.26v1.26h-1.26zM137.87 194.87h1.26v1.26h-1.26zM65.87 196.87h1.26v1.26h-1.26zM138.87 196.87h1.26v1.26h-1.26zM140.87 196.87h1.26v1.26h-1.26zM134.87 197.87h1.26v1.26h-1.26zM65.87 198.87h1.26v1.26h-1.26zM143.87 199.87h1.26v1.26h-1.26zM142.87 201.87h1.26v1.26h-1.26zM81.87 202.87h1.26v1.26h-1.26zM137.87 202.87h1.26v1.26h-1.26zM144.87 202.87h1.26v1.26h-1.26zM78.87 203.87h1.26v1.26h-1.26zM81.87 203.87h1.26v1.26h-1.26zM141.87 203.87h1.26v1.26h-1.26zM74.87 204.87h1.26v1.26h-1.26zM140.87 206.87h1.26v1.26h-1.26zM130.87 207.87h1.26v1.26h-1.26zM140.87 209.87h1.26v1.26h-1.26zM136.87 210.87h1.26v1.26h-1.26zM137.87 211.87h1.26v1.26h-1.26zM136.87 212.87h1.26v1.26h-1.26zM138.87 215.87h1.26v1.26h-1.26z"/>
<path fill="#fff300" d="M141.87 184.87h1.26v1.26h-1.26zM143.87 184.87h1.26v1.26h-1.26zM75.87 191.87h1.26v1.26h-1.26zM143.87 194.87h1.26v1.26h-1.26zM145.87 194.87h1.26v1.26h-1.26zM133.87 195.87h1.26v1.26h-1.26zM137.87 198.87h1.26v1.26h-1.26zM143.87 202.87h1.26v1.26h-1.26zM71.87 203.87h1.26v1.26h-1.26zM139.87 203.87h1.26v1.26h-1.26zM139.87 204.87h1.26v1.26h-1.26zM80.87 206.87h1.26v1.26h-1.26zM132.87 206.87h1.26v1.26h-1.26z"/>
<path fill="#ffd300" d="M140.87 194.87h1.26v1.26h-1.26zM134.87 195.87h1.26v1.26h-1.26zM138.87 195.87h1.26v1.26h-1.26zM74.87 196.87h1.26v1.26h-1.26zM139.87 197.87h1.26v1.26h-1.26zM76.87 198.87h1.26v1.26h-1.26zM132.87 200.87h1.26v1.26h-1.26zM142.87 200.87h1.26v1.26h-1.26zM71.87 204.87h1.26v1.26h-1.26zM69.87 206.87h1.26v1.26h-1.26zM131.87 207.87h1.26v1.26h-1.26zM141.87 208.87h1.26v1.26h-1.26zM138.87 209.87h1.26v1.26h-1.26zM135.87 210.87h1.26v1.26h-1.26zM132.87 212.87h1.26v1.26h-1.26zM138.87 216.87h1.26v1.26h-1.26z"/>
<path fill="#ffb300" d="M139.87 191.87h1.26v1.26h-1.26zM143.87 192.87h1.26v1.26h-1.26zM137.87 200.87h1.26v1.26h-1.26zM136.87 201.87h1.26v1.26h-1.26zM133.87 203.87h1.26v1.26h-1.26zM140.87 204.87h1.26v1.26h-1.26zM74.87 205.87h1.26v1.26h-1.26zM76.87 205.87h1.26v1.26h-1.26zM138.87 206.87h1.26v1.26h-1.26zM138.87 207.87h1.26v1.26h-1.26zM132.87 208.87h1.26v1.26h-1.26zM134.87 209.87h1.26v1.26h-1.26zM73.87 210.87h1.26v1.26h-1.26zM137.87 210.87h1.26v1.26h-1.26zM139.87 213.87h1.26v1.26h-1.26z"/>
<path fill="#ff9200" d="M133.87 201.87h1.26v1.26h-1.26zM143.87 201.87h1.26v1.26h-1.26zM134.87 202.87h1.26v1.26h-1.26zM134.87 203.87h1.26v1.26h-1.26zM135.87 205.87h1.26v1.26h-1.26zM133.87 206.87h1.26v1.26h-1.26zM139.87 206.87h1.26v1.26h-1.26zM131.87 208.87h1.26v1.26h-1.26zM134.87 208.87h1.26v1.26h-1.26zM137.87 209.87h1.26v1.26h-1.26z"/>
<path fill="#ff7200" d="M141.87 195.87h1.26v1.26h-1.26zM66.87 196.87h1.26v1.26h-1.26zM141.87 197.87h1.26v1.26h-1.26zM133.87 198.87h1.26v1.26h-1.26zM141.87 199.87h1.26v1.26h-1.26zM135.87 202.87h1.26v1.26h-1.26zM134.87 206.87h1.26v1.26h-1.26zM143.87 206.87h1.26v1.26h-1.26zM134.87 207.87h1.26v1.26h-1.26zM135.87 207.87h1.26v1.26h-1.26zM63.87 208.87h1.26v1.26h-1.26zM74.87 210.87h1.26v1.26h-1.26zM134.87 210.87h1.26v1.26h-1.26zM140.87 210.87h1.26v1.26h-1.26z"/>
<path fill="#ff5200" d="M136.87 199.87h1.26v1.26h-1.26zM133.87 200.87h1.26v1.26h-1.26zM138.87 200.87h1.26v1.26h-1.26zM141.87 200.87h1.26v1.26h-1.26zM133.87 202.87h1.26v1.26h-1.26zM142.87 202.87h1.26v1.26h-1.26zM132.87 204.87h1.26v1.26h-1.26zM132.87 205.87h1.26v1.26h-1.26zM140.87 205.87h1.26v1.26h-1.26zM75.87 206.87h1.26v1.26h-1.26z"/>
<path fill="#ff3100" d="M138.87 191.87h1.26v1.26h-1.26zM138.87 192.87h1.26v1.26h-1.26zM141.87 194.87h1.26v1.26h-1.26zM137.87 196.87h1.26v1.26h-1.26zM134.87 199.87h1.26v1.26h-1.26zM134.87 200.87h1.26v1.26h-1.26zM134.87 201.87h1.26v1.26h-1.26zM132.98 202.87h1.15v1.26h-1.15zM137.87 203.87h1.26v1.26h-1.26zM131.87 204.87h1.26v1.26h-1.26zM142.87 204.87h1.26v1.26h-1.26zM83.87 207.87h1.26v1.26h-1.26zM135.87 208.87h1.26v1.26h-1.26z"/>
<path fill="#ff1100" d="M138.87 194.87h1.26v1.26h-1.26zM135.87 195.87h1.26v1.26h-1.26zM137.87 195.87h1.26v1.26h-1.26zM139.87 195.87h1.26v1.26h-1.26zM135.87 196.87h1.26v1.26h-1.26zM136.87 196.87h1.26v1.26h-1.26zM139.87 196.87h1.26v1.26h-1.26zM142.87 196.87h1.26v1.26h-1.26zM136.87 197.87h1.26v1.26h-1.26zM137.87 197.87h1.26v1.26h-1.26zM138.87 197.87h1.26v1.26h-1.26zM134.87 198.87h1.26v1.26h-1.26zM136.87 198.87h1.26v1.26h-1.26zM138.87 198.87h1.26v1.26h-1.26zM139.87 198.87h1.26v1.26h-1.26zM140.87 198.87h1.26v1.26h-1.26zM132.87 199.87h1.26v1.26h-1.26zM137.87 199.87h1.26v1.26h-1.26zM138.87 199.87h1.26v1.26h-1.26zM139.87 199.87h1.26v1.26h-1.26zM140.87 199.87h1.26v1.26h-1.26zM135.87 200.87h1.26v1.26h-1.26zM136.87 200.87h1.26v1.26h-1.26zM139.87 200.87h1.26v1.26h-1.26zM137.87 201.87h1.26v1.26h-1.26zM138.87 201.87h1.26v1.26h-1.26zM139.87 201.87h1.26v1.26h-1.26zM140.87 201.87h1.26v1.26h-1.26zM136.87 202.87h1.26v1.26h-1.26zM140.87 202.87h1.26v1.26h-1.26zM141.87 202.87h1.26v1.26h-1.26zM135.87 203.87h1.26v1.26h-1.26zM136.87 203.87h1.26v1.26h-1.26zM138.87 203.87h1.26v1.26h-1.26zM135.87 204.87h1.26v1.26h-1.26zM136.87 204.87h1.26v1.26h-1.26zM137.87 204.87h1.26v1.26h-1.26zM138.87 204.87h1.26v1.26h-1.26zM141.87 204.87h1.26v1.26h-1.26zM134.87 205.87h1.26v1.26h-1.26zM136.87 205.87h1.26v1.26h-1.26zM137.87 205.87h1.26v1.26h-1.26zM138.87 205.87h1.26v1.26h-1.26zM139.87 205.87h1.26v1.26h-1.26zM131.87 206.87h1.26v1.26h-1.26zM135.87 206.87h1.26v1.26h-1.26zM136.87 206.87h1.26v1.26h-1.26zM137.87 206.87h1.26v1.26h-1.26zM133.87 207.87h1.26v1.26h-1.26zM136.87 207.87h1.26v1.26h-1.26zM137.87 207.87h1.26v1.26h-1.26zM139.87 207.87h1.26v1.26h-1.26zM141.87 207.87h1.26v1.26h-1.26zM133.87 208.87h1.26v1.26h-1.26zM137.87 208.87h1.26v1.26h-1.26zM138.87 208.87h1.26v1.26h-1.26zM139.87 208.87h1.26v1.26h-1.26zM136.87 209.87h1.26v1.26h-1.26zM138.87 210.87h1.26v1.26h-1.26zM132.87 211.87h1.26v1.26h-1.26zM138.87 211.87h1.26v1.26h-1.26zM140.87 211.87h1.26v1.26h-1.26zM133.87 212.87h1.26v1.26h-1.26zM134.87 212.87h1.26v1.26h-1.26zM134.87 213.87h1.26v1.26h-1.26zM133.87 214.87h1.26v1.26h-1.26z"/>
</g>
</g>
<use href="#ax"/>
<use href="#axl"/>
<use href="#ax" transform="translate(915.3 -2.4)"/>
<use href="#axl" transform="translate(915.0 -1.4)"/>
<text class="ttl" text-anchor="middle" transform="translate(563.75 1146.6) scale(0.977 1)">Ab190074 Rat IgG (PerCP)</text>
<text class="ttl" text-anchor="middle" transform="translate(1481.7 1147.8) scale(0.977 1)">Ab191679 CD45R Rat mAb (PerCP)</text>
<text class="ttl" text-anchor="middle" transform="translate(130.0 685.9) rotate(-90) scale(0.977 1)">SSC-A</text>
<text class="ttl" text-anchor="middle" transform="translate(1038.9 688.6) rotate(-90) scale(0.977 1)">SSC-A</text>
<text class="cp" transform="translate(1843.2 464.5) rotate(90) scale(0.923 1)">Copyright(C)2022 Aladdin Scientific.</text>
</svg>
</body></html>
